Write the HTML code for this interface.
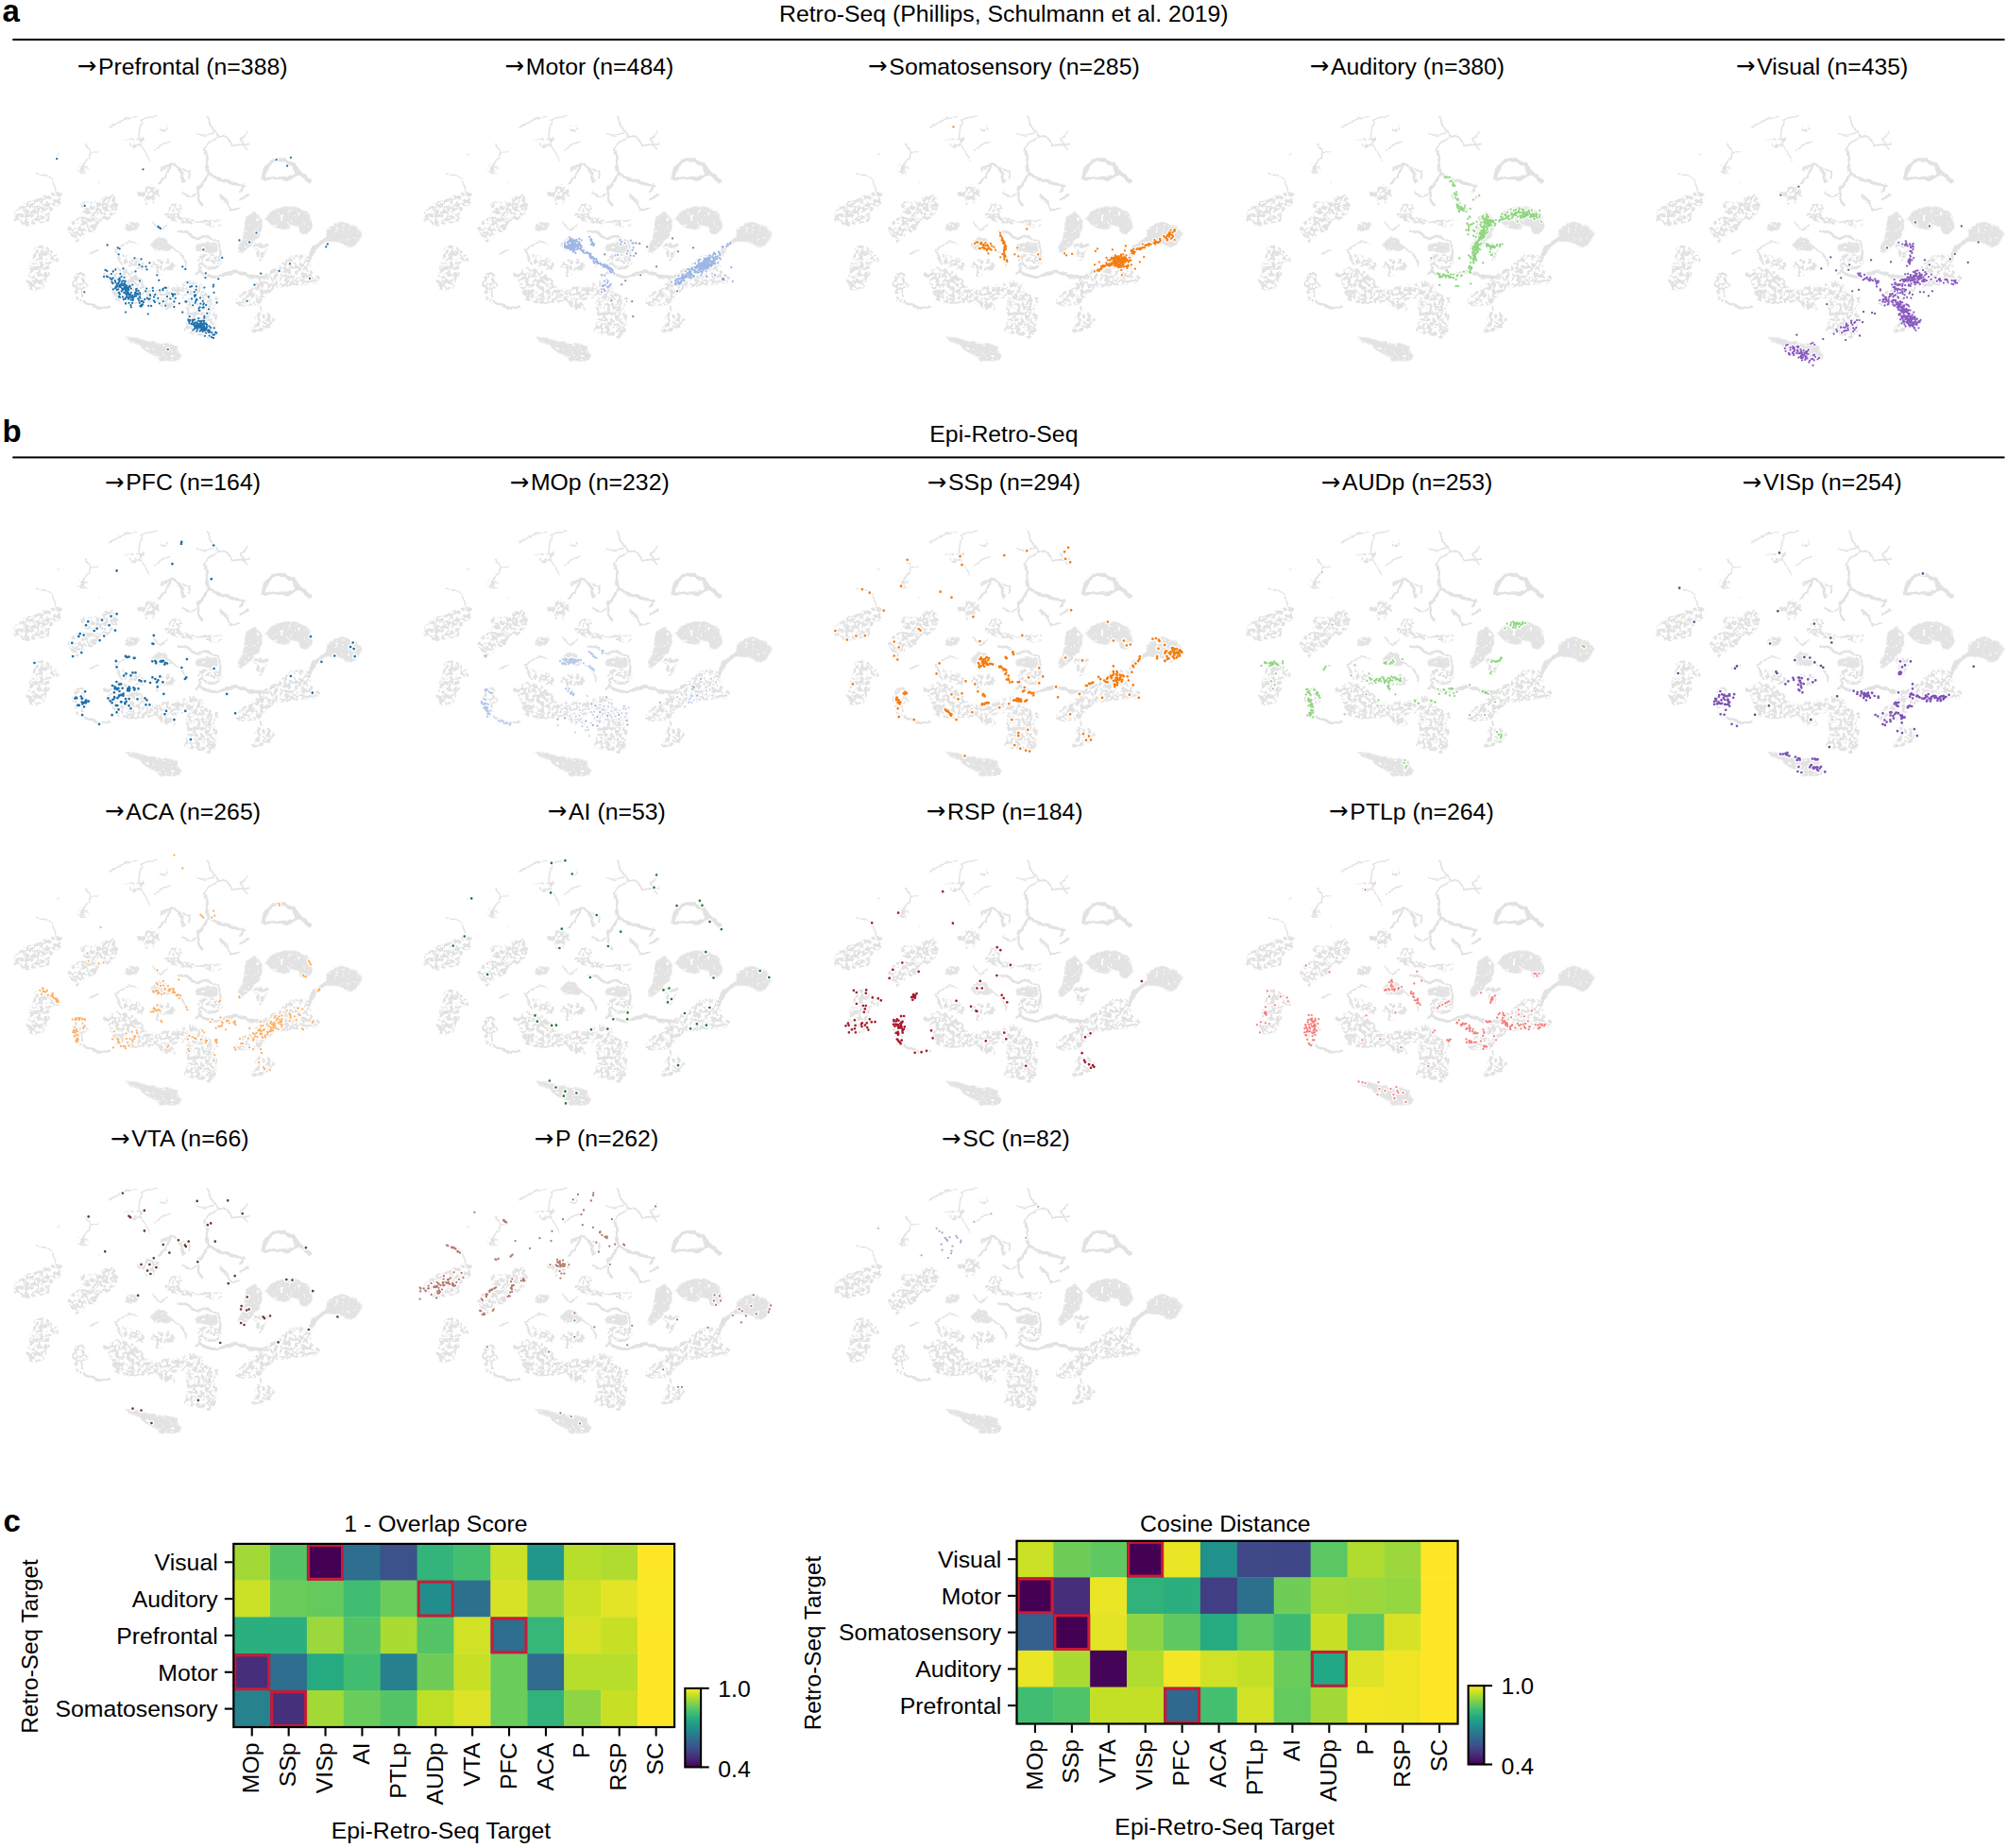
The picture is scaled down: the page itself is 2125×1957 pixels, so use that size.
<!DOCTYPE html><html><head><meta charset="utf-8"><title>Retro-Seq / Epi-Retro-Seq</title>
<style>html,body{margin:0;padding:0;background:#fff}body{width:2125px;height:1957px;position:relative;overflow:hidden;font-family:"Liberation Sans", sans-serif;color:#000}
svg{position:absolute;left:0;top:0}
svg text{font-family:"Liberation Sans", sans-serif;font-size:24.8px;fill:#000}svg .ar{font-family:"DejaVu Sans",sans-serif;font-size:24.5px}
</style></head><body>
<svg width="2125" height="1957" viewBox="0 0 2125 1957">
<rect x="13.3" y="40.9" width="2109.2" height="2" fill="#000"/>
<rect x="13.3" y="483.4" width="2109.2" height="2" fill="#000"/>
<text x="2.6" y="22.8" text-anchor="start" style="font-weight:bold;font-size:33px">a</text>
<text x="2.6" y="468.3" text-anchor="start" style="font-weight:bold;font-size:33px">b</text>
<text x="3.4" y="1622.3" text-anchor="start" style="font-weight:bold;font-size:33px">c</text>
<text x="1062.8" y="22.7" text-anchor="middle">Retro-Seq (Phillips, Schulmann et al. 2019)</text>
<text x="1062.9" y="468.3" text-anchor="middle">Epi-Retro-Seq</text>
<text x="193.2" y="79.1" text-anchor="middle"><tspan class="ar" dy="-0.7">→</tspan><tspan dx="1.5" dy="0.7">Prefrontal (n=388)</tspan></text>
<text x="624.0" y="79.1" text-anchor="middle"><tspan class="ar" dy="-0.7">→</tspan><tspan dx="1.5" dy="0.7">Motor (n=484)</tspan></text>
<text x="1063.0" y="79.1" text-anchor="middle"><tspan class="ar" dy="-0.7">→</tspan><tspan dx="1.5" dy="0.7">Somatosensory (n=285)</tspan></text>
<text x="1490.0" y="79.1" text-anchor="middle"><tspan class="ar" dy="-0.7">→</tspan><tspan dx="1.5" dy="0.7">Auditory (n=380)</tspan></text>
<text x="1929.3" y="79.1" text-anchor="middle"><tspan class="ar" dy="-0.7">→</tspan><tspan dx="1.5" dy="0.7">Visual (n=435)</tspan></text>
<text x="193.6" y="519.2" text-anchor="middle"><tspan class="ar" dy="-0.7">→</tspan><tspan dx="1.5" dy="0.7">PFC (n=164)</tspan></text>
<text x="624.3" y="519.2" text-anchor="middle"><tspan class="ar" dy="-0.7">→</tspan><tspan dx="1.5" dy="0.7">MOp (n=232)</tspan></text>
<text x="1063.0" y="519.2" text-anchor="middle"><tspan class="ar" dy="-0.7">→</tspan><tspan dx="1.5" dy="0.7">SSp (n=294)</tspan></text>
<text x="1489.7" y="519.2" text-anchor="middle"><tspan class="ar" dy="-0.7">→</tspan><tspan dx="1.5" dy="0.7">AUDp (n=253)</tspan></text>
<text x="1929.4" y="519.2" text-anchor="middle"><tspan class="ar" dy="-0.7">→</tspan><tspan dx="1.5" dy="0.7">VISp (n=254)</tspan></text>
<text x="193.6" y="867.7" text-anchor="middle"><tspan class="ar" dy="-0.7">→</tspan><tspan dx="1.5" dy="0.7">ACA (n=265)</tspan></text>
<text x="642.4" y="867.7" text-anchor="middle"><tspan class="ar" dy="-0.7">→</tspan><tspan dx="1.5" dy="0.7">AI (n=53)</tspan></text>
<text x="1063.8" y="867.7" text-anchor="middle"><tspan class="ar" dy="-0.7">→</tspan><tspan dx="1.5" dy="0.7">RSP (n=184)</tspan></text>
<text x="1494.5" y="867.7" text-anchor="middle"><tspan class="ar" dy="-0.7">→</tspan><tspan dx="1.5" dy="0.7">PTLp (n=264)</tspan></text>
<text x="190.3" y="1214.2" text-anchor="middle"><tspan class="ar" dy="-0.7">→</tspan><tspan dx="1.5" dy="0.7">VTA (n=66)</tspan></text>
<text x="631.6" y="1214.2" text-anchor="middle"><tspan class="ar" dy="-0.7">→</tspan><tspan dx="1.5" dy="0.7">P (n=262)</tspan></text>
<text x="1065.0" y="1214.2" text-anchor="middle"><tspan class="ar" dy="-0.7">→</tspan><tspan dx="1.5" dy="0.7">SC (n=82)</tspan></text>
<defs><filter id="lace" x="-5%" y="-5%" width="110%" height="110%" color-interpolation-filters="sRGB"><feTurbulence type="fractalNoise" baseFrequency="0.27" numOctaves="2" seed="11" result="n"/><feColorMatrix in="n" type="matrix" values="0 0 0 0 0  0 0 0 0 0  0 0 0 0 0  10 0 0 0 -4.45" result="m"/><feComposite in="SourceGraphic" in2="m" operator="in" result="c"/><feTurbulence type="fractalNoise" baseFrequency="0.09" numOctaves="2" seed="7" result="w"/><feDisplacementMap in="c" in2="w" scale="6" xChannelSelector="R" yChannelSelector="G"/></filter>
<filter id="lace2" x="-5%" y="-5%" width="110%" height="110%" color-interpolation-filters="sRGB"><feTurbulence type="fractalNoise" baseFrequency="0.3" numOctaves="2" seed="3" result="n"/><feColorMatrix in="n" type="matrix" values="0 0 0 0 0  0 0 0 0 0  0 0 0 0 0  8 0 0 0 -1.9" result="m"/><feComposite in="SourceGraphic" in2="m" operator="in" result="c"/><feTurbulence type="fractalNoise" baseFrequency="0.09" numOctaves="2" seed="7" result="w"/><feDisplacementMap in="c" in2="w" scale="6" xChannelSelector="R" yChannelSelector="G"/></filter>
<filter id="wob" x="-5%" y="-5%" width="110%" height="110%"><feTurbulence type="fractalNoise" baseFrequency="0.09" numOctaves="2" seed="7" result="n"/><feDisplacementMap in="SourceGraphic" in2="n" scale="6" xChannelSelector="R" yChannelSelector="G"/></filter>
<symbol id="cl" overflow="visible">
<g filter="url(#lace)">
<path d="M13 124.6L17.9 115.6L29.9 108.6L45.8 103.6L57.8 98.7L64.8 101.6L63.8 107.6L53.8 117.6L47.8 127.6L35.9 133.5L21.9 132.5L14 128.6Z" fill="#e2e2e2" stroke="#e2e2e2" stroke-width="2" stroke-linejoin="round"/>
<path d="M36.9 158.4L43.8 155.9L51.8 159.4L58.8 165.4L59.8 171.4L53.8 173.4L49.8 179.4L48.8 189.3L44.8 198.3L35.9 203.3L27.9 200.3L26.9 193.3L30.9 183.4L32.9 173.4L34.9 165.4Z" fill="#e2e2e2" stroke="#e2e2e2" stroke-width="2" stroke-linejoin="round"/>
<path d="M85.7 110.6L93.7 111.6L103.6 109.6L111.6 101.6L119.6 103.6L122 111.6L119.6 121.6L111.6 127.6L103.6 131.5L95.7 139.5L87.7 143.5L79.7 151.5L75.7 149.5L70.8 139.5L73.7 131.5L83.7 125.6L87.7 119.6Z" fill="#e2e2e2" stroke="#e2e2e2" stroke-width="2" stroke-linejoin="round"/>
<path d="M82.1 69.8L87.7 67.8L90.9 72.7L89.7 78.1L83.7 79.1L81.3 75.3Z" fill="#e2e2e2" stroke="#e2e2e2" stroke-width="2" stroke-linejoin="round"/>
<path d="M130.5 42.9L139.5 44.2L151.5 40.9L146.5 47.8L139.5 52.2L135.5 47.8Z" fill="#e2e2e2" stroke="#e2e2e2" stroke-width="2" stroke-linejoin="round"/>
<path d="M169 29.9L173 29.1L174.6 32.3L171.4 34.3L168.6 33.1Z" fill="#e2e2e2" stroke="#e2e2e2" stroke-width="2" stroke-linejoin="round"/>
<path d="M153.5 93.7L159.4 90.7L165.4 95.7L166.4 101.6L161.4 105.6L159.4 111.6L154.5 110.6L152.5 103.6L145.5 102.6L144.5 99.7L151.5 98.7Z" fill="#e2e2e2" stroke="#e2e2e2" stroke-width="2" stroke-linejoin="round"/>
<path d="M174.4 119.6L179.4 113.6L189.3 112.6L192.3 117.6L187.3 122.6L189.3 127.6L199.3 127.6L201.3 131.5L195.3 133.5L185.4 129.5L179.4 127.6L175.4 124.6Z" fill="#e2e2e2" stroke="#e2e2e2" stroke-width="2" stroke-linejoin="round"/>
<path d="M214.3 129.5L223.2 128L232.2 129.1L232.2 133.9L223.2 135.9L215.2 134.7Z" fill="#e2e2e2" stroke="#e2e2e2" stroke-width="2" stroke-linejoin="round"/>
<path d="M208.3 167.4L219.2 165.4L232.2 166.4L233.2 173.4L227.2 178.4L217.2 179.4L209.3 177.4Z" fill="#e2e2e2" stroke="#e2e2e2" stroke-width="2" stroke-linejoin="round"/>
<path d="M127.6 165.4L139.5 167.4L149.5 173.4L151.5 179.4L139.5 178.4L131.5 175.4Z" fill="#e2e2e2" stroke="#e2e2e2" stroke-width="2" stroke-linejoin="round"/>
<path d="M157.4 175.4L165.4 171.4L177.4 170.4L182.4 175.4L180.4 180.4L173.4 179.4L169.4 183.4L167.4 189.3L164.4 188.3L165.4 180.4L158.4 178.4Z" fill="#e2e2e2" stroke="#e2e2e2" stroke-width="2" stroke-linejoin="round"/>
<path d="M108.6 185.4L119.6 180.4L127.6 179.4L139.5 183.4L147.5 191.3L155.5 201.3L165.4 203.3L173.4 199.3L185.4 201.3L188.3 207.3L183.4 215.2L182.4 223.2L173.4 221.2L163.4 217.2L151.5 214.3L139.5 217.2L127.6 216.2L119.6 211.3L117.6 201.3L115.6 193.3L109.6 189.3Z" fill="#e2e2e2" stroke="#e2e2e2" stroke-width="2" stroke-linejoin="round"/>
<path d="M185.4 199.3L197.3 196.3L199.3 207.3L191.3 211.3L186.3 207.3Z" fill="#e2e2e2" stroke="#e2e2e2" stroke-width="2" stroke-linejoin="round"/>
<path d="M76.7 189.3L81.7 184.4L87.7 187.3L88.7 195.3L91.7 197.3L85.7 201.3L84.7 207.3L87.7 214.3L83.7 217.2L79.7 214.3L78.7 205.3L75.7 197.3Z" fill="#e2e2e2" stroke="#e2e2e2" stroke-width="2" stroke-linejoin="round"/>
<path d="M190.3 199.3L201.3 194.3L211.3 196.3L214.3 203.3L221.2 209.3L229.2 208.3L230.2 214.3L223.2 219.2L226.2 227.2L227.2 239.2L225.2 249.1L219.2 253.1L211.3 249.1L201.3 248.1L194.3 246.1L196.3 237.2L199.3 229.2L196.3 219.2L199.3 211.3L193.3 205.3Z" fill="#e2e2e2" stroke="#e2e2e2" stroke-width="2" stroke-linejoin="round"/>
<path d="M248.1 213.3L257.1 205.3L267.1 197.3L279 187.3L291 179.4L302.9 169.4L314.9 165.4L326.9 167.4L328.8 175.4L326.9 181.4L336.8 191.3L330.8 196.3L318.9 197.3L306.9 196.3L295 199.3L285 205.3L277 211.3L267.1 217.2L257.1 219.2L249.1 217.2Z" fill="#e2e2e2" stroke="#e2e2e2" stroke-width="2" stroke-linejoin="round"/>
<path d="M268.1 233.2L275 225.2L283 227.2L289 233.2L288 239.2L279 242.2L273 247.1L266.1 247.1L265.1 243.1L270.1 239.2Z" fill="#e2e2e2" stroke="#e2e2e2" stroke-width="2" stroke-linejoin="round"/>
<path d="M268.1 155.5L283 153.5L279 161.4L276 169.4L270.1 168.4L271.1 161.4Z" fill="#e2e2e2" stroke="#e2e2e2" stroke-width="2" stroke-linejoin="round"/>
</g><g filter="url(#lace2)">
<path d="M131.5 133.9L137.5 130.7L145.5 131.1L146.7 135.1L140.5 139.1L133.1 138.7Z" fill="#e3e3e3" stroke="#e8e8e8" stroke-width="1.2" stroke-linejoin="round"/>
<path d="M157.4 157.4L165.4 146.5L171.4 147.5L175.4 152.5L180.4 157.4L177.4 161.4L169.4 160.4L161.4 159.4Z" fill="#e3e3e3" stroke="#e8e8e8" stroke-width="1.2" stroke-linejoin="round"/>
<path d="M205.3 157.4L211.3 152.5L219.2 151.5L227.2 154.5L229.2 159.4L223.2 162.4L214.3 162.4L207.3 161.4Z" fill="#e3e3e3" stroke="#e8e8e8" stroke-width="1.2" stroke-linejoin="round"/>
<path d="M259.1 124.6L267.1 120.6L274 125.6L276 135.5L273 143.5L267.1 151.5L261.1 157.4L255.1 163.4L251.1 162.4L253.1 153.5L257.1 147.5L256.1 139.5L259.1 131.5Z" fill="#e3e3e3" stroke="#e8e8e8" stroke-width="1.2" stroke-linejoin="round"/>
<path d="M279 127.6L285 119.6L295 114.6L310.9 114.6L322.9 119.6L328.8 127.6L327.9 137.5L323.9 143.5L316.9 142.5L314.9 135.5L306.9 133.5L299 138.5L291 136.5L285 131.5Z" fill="#e3e3e3" stroke="#e8e8e8" stroke-width="1.2" stroke-linejoin="round"/>
<path d="M343.8 139.5L352.8 132.5L364.7 131.5L374.7 135.5L380.3 143.5L378.7 151.5L370.7 156.5L358.7 153.5L350.8 149.5L344.8 148.5Z" fill="#e3e3e3" stroke="#e8e8e8" stroke-width="1.2" stroke-linejoin="round"/>
<path d="M131.5 252.7L143.5 253.5L157.4 258.1L171.4 259.1L184.4 260.1L186.3 267.1L191.3 272L189.3 276L175.4 278L165.4 276L155.5 269.1L145.5 261.1L137.5 257.1Z" fill="#e3e3e3" stroke="#e8e8e8" stroke-width="1.2" stroke-linejoin="round"/>
</g><g filter="url(#wob)">
<path d="M57.8 98.7L56.8 92.7L52.8 85.7L45.8 81.7L36.9 79.3" fill="none" stroke="#e2e2e2" stroke-width="1.5" stroke-linecap="round" stroke-linejoin="round"/>
<path d="M88.7 46.8L92.7 53.8L94.7 58.8L89.7 65.8L86.7 69.8" fill="none" stroke="#e2e2e2" stroke-width="1.5" stroke-linecap="round" stroke-linejoin="round"/>
<path d="M94.7 58.8L103.6 54.8" fill="none" stroke="#e2e2e2" stroke-width="1.3" stroke-linecap="round" stroke-linejoin="round"/>
<path d="M114.6 30.9L123.6 24.9L135.5 19.9L143.5 18.9" fill="none" stroke="#e2e2e2" stroke-width="1.4" stroke-linecap="round" stroke-linejoin="round"/>
<path d="M147.5 22.9L155.5 19.9L163.4 19.3" fill="none" stroke="#e2e2e2" stroke-width="1.4" stroke-linecap="round" stroke-linejoin="round"/>
<path d="M148.5 22.9L146.5 31.9L145.5 39.9L148.5 45.8" fill="none" stroke="#e2e2e2" stroke-width="1.4" stroke-linecap="round" stroke-linejoin="round"/>
<path d="M148.5 46.8L153.5 59.8L157.4 65.8" fill="none" stroke="#e2e2e2" stroke-width="1.3" stroke-linecap="round" stroke-linejoin="round"/>
<path d="M161.4 53.8L171.4 48.8L179.4 45.4" fill="none" stroke="#e2e2e2" stroke-width="1.5" stroke-linecap="round" stroke-linejoin="round"/>
<path d="M217.2 18.9L221.2 25.9L225.2 34.9L229.2 38.9L239.2 42.9L245.1 49.8L257.1 47.8L263.1 46.8" fill="none" stroke="#e2e2e2" stroke-width="1.8" stroke-linecap="round" stroke-linejoin="round"/>
<path d="M207.3 35.9L215.2 38.9L225.2 35.9" fill="none" stroke="#e2e2e2" stroke-width="1.5" stroke-linecap="round" stroke-linejoin="round"/>
<path d="M229.2 38.9L219.2 47.8L213.3 53.8L217.2 65.8" fill="none" stroke="#e2e2e2" stroke-width="1.8" stroke-linecap="round" stroke-linejoin="round"/>
<path d="M259.1 34.9L253.1 42.9L257.1 47.8L261.1 53.8" fill="none" stroke="#e2e2e2" stroke-width="1.5" stroke-linecap="round" stroke-linejoin="round"/>
<path d="M169.4 75.7L179.4 69.8L185.4 71.7L191.3 79.7L193.3 87.7" fill="none" stroke="#e2e2e2" stroke-width="2.5" stroke-linecap="round" stroke-linejoin="round"/>
<path d="M179.4 69.8L173.4 83.7L167.4 89.7" fill="none" stroke="#e2e2e2" stroke-width="2.5" stroke-linecap="round" stroke-linejoin="round"/>
<path d="M191.3 73.7L199.3 76.7L197.3 83.7" fill="none" stroke="#e2e2e2" stroke-width="1.8" stroke-linecap="round" stroke-linejoin="round"/>
<path d="M215.2 55.8L217.2 67.8L219.2 79.7L213.3 89.7L207.3 95.7L209.3 107.6L211.3 111.6" fill="none" stroke="#e2e2e2" stroke-width="2.9" stroke-linecap="round" stroke-linejoin="round"/>
<path d="M219.2 79.7L231.2 85.7L245.1 89.7L256.1 91.7L253.1 97.7" fill="none" stroke="#e2e2e2" stroke-width="3.1" stroke-linecap="round" stroke-linejoin="round"/>
<path d="M231.2 101.6L239.2 111.6L243.1 117.6L253.1 116.6" fill="none" stroke="#e2e2e2" stroke-width="2.5" stroke-linecap="round" stroke-linejoin="round"/>
<path d="M253.1 107.6L261.1 101.6" fill="none" stroke="#e2e2e2" stroke-width="2.5" stroke-linecap="round" stroke-linejoin="round"/>
<path d="M191.3 99.7L201.3 103.6L207.3 99.7" fill="none" stroke="#e2e2e2" stroke-width="1.8" stroke-linecap="round" stroke-linejoin="round"/>
<path d="M201.3 127.6L211.3 130.5L219.2 129.5" fill="none" stroke="#e2e2e2" stroke-width="1.8" stroke-linecap="round" stroke-linejoin="round"/>
<path d="M159.4 130.5L167.4 137.5L175.4 132.5" fill="none" stroke="#e2e2e2" stroke-width="1.5" stroke-linecap="round" stroke-linejoin="round"/>
<path d="M180.4 157.4L189.3 163.4L194.3 171.4L196.3 177.4" fill="none" stroke="#e2e2e2" stroke-width="1.7" stroke-linecap="round" stroke-linejoin="round"/>
<path d="M187.3 139.5L197.3 142.5L207.3 147.5L219.2 146.5L229.2 151.5L232.2 159.4L231.2 169.4" fill="none" stroke="#e2e2e2" stroke-width="2.5" stroke-linecap="round" stroke-linejoin="round"/>
<path d="M211.3 179.4L207.3 185.4" fill="none" stroke="#e2e2e2" stroke-width="2.5" stroke-linecap="round" stroke-linejoin="round"/>
<path d="M121.6 159.4L129.5 153.5L137.5 151.5L145.5 153.5" fill="none" stroke="#e2e2e2" stroke-width="1.7" stroke-linecap="round" stroke-linejoin="round"/>
<path d="M121.6 159.4L123.6 167.4L127.6 175.4" fill="none" stroke="#e2e2e2" stroke-width="1.8" stroke-linecap="round" stroke-linejoin="round"/>
<path d="M87.7 216.2L95.7 219.2L105.6 222.2L114.6 220.2" fill="none" stroke="#e2e2e2" stroke-width="2.9" stroke-linecap="round" stroke-linejoin="round"/>
<path d="M94.7 165.4L101.6 159.4" fill="none" stroke="#e2e2e2" stroke-width="1.5" stroke-linecap="round" stroke-linejoin="round"/>
<path d="M211.3 183.4L219.2 188.3L229.2 187.3L239.2 186.3L249.1 181.4L257.1 185.4L267.1 188.3L279 189.3" fill="none" stroke="#e2e2e2" stroke-width="3.4" stroke-linecap="round" stroke-linejoin="round"/>
<path d="M275 225.2L274 219.2" fill="none" stroke="#e2e2e2" stroke-width="1.8" stroke-linecap="round" stroke-linejoin="round"/>
<path d="M269.1 155.5L275 157.4L283 154.5" fill="none" stroke="#e2e2e2" stroke-width="2.5" stroke-linecap="round" stroke-linejoin="round"/>
<path d="M344.8 148.5L336.8 153.5L330.8 159.4L326.9 167.4" fill="none" stroke="#e2e2e2" stroke-width="4.2" stroke-linecap="round" stroke-linejoin="round"/>
<path d="M277 83.7L280 71.7L289 64.8L300.9 64.8L308.9 68.8L311.9 76.7L320.9 82.7L325.9 88.7" fill="none" stroke="#e2e2e2" stroke-width="4.2" stroke-linecap="round" stroke-linejoin="round"/>
<path d="M279 85.3L291 82.7L302.9 84.7L312.9 79.7" fill="none" stroke="#e2e2e2" stroke-width="3.4" stroke-linecap="round" stroke-linejoin="round"/>
<path d="M59.4 61.4L60.6 60.2" fill="none" stroke="#e2e2e2" stroke-width="1.5" stroke-linecap="round" stroke-linejoin="round"/>
<path d="M103.2 90.1L104.4 88.9" fill="none" stroke="#e2e2e2" stroke-width="1.5" stroke-linecap="round" stroke-linejoin="round"/>
</g></symbol></defs>
<use href="#cl" x="1.5" y="104.5"/>
<use href="#cl" x="435.5" y="104.5"/>
<use href="#cl" x="870.0" y="104.5"/>
<use href="#cl" x="1306.0" y="104.5"/>
<use href="#cl" x="1740.0" y="104.5"/>
<use href="#cl" x="1.5" y="544.0"/>
<use href="#cl" x="435.5" y="544.0"/>
<use href="#cl" x="870.0" y="544.0"/>
<use href="#cl" x="1306.0" y="544.0"/>
<use href="#cl" x="1740.0" y="544.0"/>
<use href="#cl" x="1.5" y="892.5"/>
<use href="#cl" x="435.5" y="892.5"/>
<use href="#cl" x="870.0" y="892.5"/>
<use href="#cl" x="1306.0" y="892.5"/>
<use href="#cl" x="1.5" y="1240.0"/>
<use href="#cl" x="435.5" y="1240.0"/>
<use href="#cl" x="870.0" y="1240.0"/>
<rect x="247.10" y="1634.70" width="39.30" height="39.22" fill="#a2d937"/>
<rect x="286.00" y="1634.70" width="39.30" height="39.22" fill="#54c467"/>
<rect x="324.90" y="1634.70" width="39.30" height="39.22" fill="#440154"/>
<rect x="363.80" y="1634.70" width="39.30" height="39.22" fill="#2e6e8e"/>
<rect x="402.70" y="1634.70" width="39.30" height="39.22" fill="#3b528a"/>
<rect x="441.60" y="1634.70" width="39.30" height="39.22" fill="#33b47a"/>
<rect x="480.50" y="1634.70" width="39.30" height="39.22" fill="#44bf70"/>
<rect x="519.40" y="1634.70" width="39.30" height="39.22" fill="#cae126"/>
<rect x="558.30" y="1634.70" width="39.30" height="39.22" fill="#21968a"/>
<rect x="597.20" y="1634.70" width="39.30" height="39.22" fill="#b6de2a"/>
<rect x="636.10" y="1634.70" width="39.30" height="39.22" fill="#b0dc2f"/>
<rect x="675.00" y="1634.70" width="39.30" height="39.22" fill="#fde725"/>
<rect x="247.10" y="1673.52" width="39.30" height="39.22" fill="#cae126"/>
<rect x="286.00" y="1673.52" width="39.30" height="39.22" fill="#6acc5a"/>
<rect x="324.90" y="1673.52" width="39.30" height="39.22" fill="#64ca5d"/>
<rect x="363.80" y="1673.52" width="39.30" height="39.22" fill="#41bd72"/>
<rect x="402.70" y="1673.52" width="39.30" height="39.22" fill="#6acc5a"/>
<rect x="441.60" y="1673.52" width="39.30" height="39.22" fill="#228e8c"/>
<rect x="480.50" y="1673.52" width="39.30" height="39.22" fill="#2d708e"/>
<rect x="519.40" y="1673.52" width="39.30" height="39.22" fill="#d7e226"/>
<rect x="558.30" y="1673.52" width="39.30" height="39.22" fill="#8ed544"/>
<rect x="597.20" y="1673.52" width="39.30" height="39.22" fill="#cae126"/>
<rect x="636.10" y="1673.52" width="39.30" height="39.22" fill="#e3e425"/>
<rect x="675.00" y="1673.52" width="39.30" height="39.22" fill="#fae725"/>
<rect x="247.10" y="1712.34" width="39.30" height="39.22" fill="#2caf7e"/>
<rect x="286.00" y="1712.34" width="39.30" height="39.22" fill="#2caf7e"/>
<rect x="324.90" y="1712.34" width="39.30" height="39.22" fill="#9cd83c"/>
<rect x="363.80" y="1712.34" width="39.30" height="39.22" fill="#54c467"/>
<rect x="402.70" y="1712.34" width="39.30" height="39.22" fill="#a9db33"/>
<rect x="441.60" y="1712.34" width="39.30" height="39.22" fill="#54c467"/>
<rect x="480.50" y="1712.34" width="39.30" height="39.22" fill="#d0e126"/>
<rect x="519.40" y="1712.34" width="39.30" height="39.22" fill="#2e6e8e"/>
<rect x="558.30" y="1712.34" width="39.30" height="39.22" fill="#36b678"/>
<rect x="597.20" y="1712.34" width="39.30" height="39.22" fill="#d7e226"/>
<rect x="636.10" y="1712.34" width="39.30" height="39.22" fill="#c7e026"/>
<rect x="675.00" y="1712.34" width="39.30" height="39.22" fill="#fde725"/>
<rect x="247.10" y="1751.16" width="39.30" height="39.22" fill="#462e7a"/>
<rect x="286.00" y="1751.16" width="39.30" height="39.22" fill="#2e6e8e"/>
<rect x="324.90" y="1751.16" width="39.30" height="39.22" fill="#25aa82"/>
<rect x="363.80" y="1751.16" width="39.30" height="39.22" fill="#41bd72"/>
<rect x="402.70" y="1751.16" width="39.30" height="39.22" fill="#27808d"/>
<rect x="441.60" y="1751.16" width="39.30" height="39.22" fill="#6fcd57"/>
<rect x="480.50" y="1751.16" width="39.30" height="39.22" fill="#c7e026"/>
<rect x="519.40" y="1751.16" width="39.30" height="39.22" fill="#6acc5a"/>
<rect x="558.30" y="1751.16" width="39.30" height="39.22" fill="#306a8d"/>
<rect x="597.20" y="1751.16" width="39.30" height="39.22" fill="#b6de2a"/>
<rect x="636.10" y="1751.16" width="39.30" height="39.22" fill="#b6de2a"/>
<rect x="675.00" y="1751.16" width="39.30" height="39.22" fill="#fde725"/>
<rect x="247.10" y="1789.98" width="39.30" height="39.22" fill="#26828d"/>
<rect x="286.00" y="1789.98" width="39.30" height="39.22" fill="#45317c"/>
<rect x="324.90" y="1789.98" width="39.30" height="39.22" fill="#a2d937"/>
<rect x="363.80" y="1789.98" width="39.30" height="39.22" fill="#6acc5a"/>
<rect x="402.70" y="1789.98" width="39.30" height="39.22" fill="#54c467"/>
<rect x="441.60" y="1789.98" width="39.30" height="39.22" fill="#bddf26"/>
<rect x="480.50" y="1789.98" width="39.30" height="39.22" fill="#dde326"/>
<rect x="519.40" y="1789.98" width="39.30" height="39.22" fill="#6acc5a"/>
<rect x="558.30" y="1789.98" width="39.30" height="39.22" fill="#31b27b"/>
<rect x="597.20" y="1789.98" width="39.30" height="39.22" fill="#8ed544"/>
<rect x="636.10" y="1789.98" width="39.30" height="39.22" fill="#c7e026"/>
<rect x="675.00" y="1789.98" width="39.30" height="39.22" fill="#fde725"/>
<rect x="326.60" y="1636.40" width="35.90" height="35.82" fill="none" stroke="#cc1a36" stroke-width="3"/>
<rect x="443.30" y="1675.22" width="35.90" height="35.82" fill="none" stroke="#cc1a36" stroke-width="3"/>
<rect x="521.10" y="1714.04" width="35.90" height="35.82" fill="none" stroke="#cc1a36" stroke-width="3"/>
<rect x="248.80" y="1752.86" width="35.90" height="35.82" fill="none" stroke="#cc1a36" stroke-width="3"/>
<rect x="287.70" y="1791.68" width="35.90" height="35.82" fill="none" stroke="#cc1a36" stroke-width="3"/>
<rect x="247.30" y="1634.90" width="466.80" height="194.10" fill="none" stroke="#000" stroke-width="2.2"/>
<rect x="237.80" y="1653.26" width="8.6" height="2.1" fill="#000"/>
<text x="230.7" y="1663.0" text-anchor="end">Visual</text>
<rect x="237.80" y="1692.08" width="8.6" height="2.1" fill="#000"/>
<text x="230.7" y="1701.8" text-anchor="end">Auditory</text>
<rect x="237.80" y="1730.90" width="8.6" height="2.1" fill="#000"/>
<text x="230.7" y="1740.7" text-anchor="end">Prefrontal</text>
<rect x="237.80" y="1769.72" width="8.6" height="2.1" fill="#000"/>
<text x="230.7" y="1779.5" text-anchor="end">Motor</text>
<rect x="237.80" y="1808.54" width="8.6" height="2.1" fill="#000"/>
<text x="230.7" y="1818.3" text-anchor="end">Somatosensory</text>
<rect x="265.70" y="1829.90" width="2.1" height="8.6" fill="#000"/>
<text transform="translate(274.2,1845.4) rotate(-90)" text-anchor="end">MOp</text>
<rect x="304.60" y="1829.90" width="2.1" height="8.6" fill="#000"/>
<text transform="translate(313.1,1845.4) rotate(-90)" text-anchor="end">SSp</text>
<rect x="343.50" y="1829.90" width="2.1" height="8.6" fill="#000"/>
<text transform="translate(352.1,1845.4) rotate(-90)" text-anchor="end">VISp</text>
<rect x="382.40" y="1829.90" width="2.1" height="8.6" fill="#000"/>
<text transform="translate(391.0,1845.4) rotate(-90)" text-anchor="end">AI</text>
<rect x="421.30" y="1829.90" width="2.1" height="8.6" fill="#000"/>
<text transform="translate(429.9,1845.4) rotate(-90)" text-anchor="end">PTLp</text>
<rect x="460.20" y="1829.90" width="2.1" height="8.6" fill="#000"/>
<text transform="translate(468.8,1845.4) rotate(-90)" text-anchor="end">AUDp</text>
<rect x="499.10" y="1829.90" width="2.1" height="8.6" fill="#000"/>
<text transform="translate(507.6,1845.4) rotate(-90)" text-anchor="end">VTA</text>
<rect x="538.00" y="1829.90" width="2.1" height="8.6" fill="#000"/>
<text transform="translate(546.5,1845.4) rotate(-90)" text-anchor="end">PFC</text>
<rect x="576.90" y="1829.90" width="2.1" height="8.6" fill="#000"/>
<text transform="translate(585.5,1845.4) rotate(-90)" text-anchor="end">ACA</text>
<rect x="615.80" y="1829.90" width="2.1" height="8.6" fill="#000"/>
<text transform="translate(624.4,1845.4) rotate(-90)" text-anchor="end">P</text>
<rect x="654.70" y="1829.90" width="2.1" height="8.6" fill="#000"/>
<text transform="translate(663.2,1845.4) rotate(-90)" text-anchor="end">RSP</text>
<rect x="693.60" y="1829.90" width="2.1" height="8.6" fill="#000"/>
<text transform="translate(702.1,1845.4) rotate(-90)" text-anchor="end">SC</text>
<text x="461.5" y="1622.4" text-anchor="middle">1 - Overlap Score</text>
<text transform="translate(39.6,1743.5) rotate(-90)" text-anchor="middle" style="font-size:24.3px">Retro-Seq Target</text>
<text x="467.0" y="1947.0" text-anchor="middle">Epi-Retro-Seq Target</text>
<defs><linearGradient id="g247" x1="0" y1="0" x2="0" y2="1"><stop offset="0%" stop-color="#fde725"/><stop offset="10%" stop-color="#bddf26"/><stop offset="20%" stop-color="#7ad151"/><stop offset="30%" stop-color="#44bf70"/><stop offset="40%" stop-color="#22a884"/><stop offset="50%" stop-color="#21918c"/><stop offset="60%" stop-color="#2a788e"/><stop offset="70%" stop-color="#355f8d"/><stop offset="80%" stop-color="#414487"/><stop offset="90%" stop-color="#482475"/><stop offset="100%" stop-color="#440154"/></linearGradient></defs>
<rect x="725.30" y="1787.90" width="16.80" height="83.50" fill="url(#g247)" stroke="#000" stroke-width="2.1"/>
<rect x="742.10" y="1786.85" width="8.6" height="2.1" fill="#000"/>
<rect x="742.10" y="1870.35" width="8.6" height="2.1" fill="#000"/>
<text x="760.3" y="1797.0" text-anchor="start">1.0</text>
<text x="760.3" y="1881.9" text-anchor="start">0.4</text>
<rect x="1076.30" y="1631.60" width="39.32" height="39.14" fill="#cae126"/>
<rect x="1115.22" y="1631.60" width="39.32" height="39.14" fill="#6fcd57"/>
<rect x="1154.14" y="1631.60" width="39.32" height="39.14" fill="#5fc860"/>
<rect x="1193.06" y="1631.60" width="39.32" height="39.14" fill="#440154"/>
<rect x="1231.98" y="1631.60" width="39.32" height="39.14" fill="#eae525"/>
<rect x="1270.90" y="1631.60" width="39.32" height="39.14" fill="#21918c"/>
<rect x="1309.82" y="1631.60" width="39.32" height="39.14" fill="#3f4988"/>
<rect x="1348.74" y="1631.60" width="39.32" height="39.14" fill="#404788"/>
<rect x="1387.66" y="1631.60" width="39.32" height="39.14" fill="#5ac664"/>
<rect x="1426.58" y="1631.60" width="39.32" height="39.14" fill="#b0dc2f"/>
<rect x="1465.50" y="1631.60" width="39.32" height="39.14" fill="#9cd83c"/>
<rect x="1504.42" y="1631.60" width="39.32" height="39.14" fill="#fde725"/>
<rect x="1076.30" y="1670.34" width="39.32" height="39.14" fill="#440154"/>
<rect x="1115.22" y="1670.34" width="39.32" height="39.14" fill="#462e7a"/>
<rect x="1154.14" y="1670.34" width="39.32" height="39.14" fill="#eae525"/>
<rect x="1193.06" y="1670.34" width="39.32" height="39.14" fill="#31b27b"/>
<rect x="1231.98" y="1670.34" width="39.32" height="39.14" fill="#2caf7e"/>
<rect x="1270.90" y="1670.34" width="39.32" height="39.14" fill="#423e83"/>
<rect x="1309.82" y="1670.34" width="39.32" height="39.14" fill="#2d708e"/>
<rect x="1348.74" y="1670.34" width="39.32" height="39.14" fill="#6fcd57"/>
<rect x="1387.66" y="1670.34" width="39.32" height="39.14" fill="#a2d937"/>
<rect x="1426.58" y="1670.34" width="39.32" height="39.14" fill="#9cd83c"/>
<rect x="1465.50" y="1670.34" width="39.32" height="39.14" fill="#95d740"/>
<rect x="1504.42" y="1670.34" width="39.32" height="39.14" fill="#fde725"/>
<rect x="1076.30" y="1709.08" width="39.32" height="39.14" fill="#355f8d"/>
<rect x="1115.22" y="1709.08" width="39.32" height="39.14" fill="#440154"/>
<rect x="1154.14" y="1709.08" width="39.32" height="39.14" fill="#e3e425"/>
<rect x="1193.06" y="1709.08" width="39.32" height="39.14" fill="#8ed544"/>
<rect x="1231.98" y="1709.08" width="39.32" height="39.14" fill="#5fc860"/>
<rect x="1270.90" y="1709.08" width="39.32" height="39.14" fill="#25aa82"/>
<rect x="1309.82" y="1709.08" width="39.32" height="39.14" fill="#5ac664"/>
<rect x="1348.74" y="1709.08" width="39.32" height="39.14" fill="#3dba74"/>
<rect x="1387.66" y="1709.08" width="39.32" height="39.14" fill="#c7e026"/>
<rect x="1426.58" y="1709.08" width="39.32" height="39.14" fill="#5ac664"/>
<rect x="1465.50" y="1709.08" width="39.32" height="39.14" fill="#d7e226"/>
<rect x="1504.42" y="1709.08" width="39.32" height="39.14" fill="#fde725"/>
<rect x="1076.30" y="1747.82" width="39.32" height="39.14" fill="#eae525"/>
<rect x="1115.22" y="1747.82" width="39.32" height="39.14" fill="#a9db33"/>
<rect x="1154.14" y="1747.82" width="39.32" height="39.14" fill="#440457"/>
<rect x="1193.06" y="1747.82" width="39.32" height="39.14" fill="#b0dc2f"/>
<rect x="1231.98" y="1747.82" width="39.32" height="39.14" fill="#f3e625"/>
<rect x="1270.90" y="1747.82" width="39.32" height="39.14" fill="#d0e126"/>
<rect x="1309.82" y="1747.82" width="39.32" height="39.14" fill="#c3e026"/>
<rect x="1348.74" y="1747.82" width="39.32" height="39.14" fill="#6acc5a"/>
<rect x="1387.66" y="1747.82" width="39.32" height="39.14" fill="#22a884"/>
<rect x="1426.58" y="1747.82" width="39.32" height="39.14" fill="#dde326"/>
<rect x="1465.50" y="1747.82" width="39.32" height="39.14" fill="#f0e525"/>
<rect x="1504.42" y="1747.82" width="39.32" height="39.14" fill="#fde725"/>
<rect x="1076.30" y="1786.56" width="39.32" height="39.14" fill="#41bd72"/>
<rect x="1115.22" y="1786.56" width="39.32" height="39.14" fill="#4fc36a"/>
<rect x="1154.14" y="1786.56" width="39.32" height="39.14" fill="#c3e026"/>
<rect x="1193.06" y="1786.56" width="39.32" height="39.14" fill="#c3e026"/>
<rect x="1231.98" y="1786.56" width="39.32" height="39.14" fill="#31688d"/>
<rect x="1270.90" y="1786.56" width="39.32" height="39.14" fill="#44bf70"/>
<rect x="1309.82" y="1786.56" width="39.32" height="39.14" fill="#d0e126"/>
<rect x="1348.74" y="1786.56" width="39.32" height="39.14" fill="#64ca5d"/>
<rect x="1387.66" y="1786.56" width="39.32" height="39.14" fill="#a2d937"/>
<rect x="1426.58" y="1786.56" width="39.32" height="39.14" fill="#f3e625"/>
<rect x="1465.50" y="1786.56" width="39.32" height="39.14" fill="#f0e525"/>
<rect x="1504.42" y="1786.56" width="39.32" height="39.14" fill="#fde725"/>
<rect x="1194.76" y="1633.30" width="35.92" height="35.74" fill="none" stroke="#cc1a36" stroke-width="3"/>
<rect x="1078.00" y="1672.04" width="35.92" height="35.74" fill="none" stroke="#cc1a36" stroke-width="3"/>
<rect x="1116.92" y="1710.78" width="35.92" height="35.74" fill="none" stroke="#cc1a36" stroke-width="3"/>
<rect x="1389.36" y="1749.52" width="35.92" height="35.74" fill="none" stroke="#cc1a36" stroke-width="3"/>
<rect x="1233.68" y="1788.26" width="35.92" height="35.74" fill="none" stroke="#cc1a36" stroke-width="3"/>
<rect x="1076.50" y="1631.80" width="467.04" height="193.70" fill="none" stroke="#000" stroke-width="2.2"/>
<rect x="1067.00" y="1650.12" width="8.6" height="2.1" fill="#000"/>
<text x="1060.2" y="1659.9" text-anchor="end">Visual</text>
<rect x="1067.00" y="1688.86" width="8.6" height="2.1" fill="#000"/>
<text x="1060.2" y="1698.6" text-anchor="end">Motor</text>
<rect x="1067.00" y="1727.60" width="8.6" height="2.1" fill="#000"/>
<text x="1060.2" y="1737.3" text-anchor="end">Somatosensory</text>
<rect x="1067.00" y="1766.34" width="8.6" height="2.1" fill="#000"/>
<text x="1060.2" y="1776.1" text-anchor="end">Auditory</text>
<rect x="1067.00" y="1805.08" width="8.6" height="2.1" fill="#000"/>
<text x="1060.2" y="1814.8" text-anchor="end">Prefrontal</text>
<rect x="1094.91" y="1826.40" width="2.1" height="8.6" fill="#000"/>
<text transform="translate(1103.5,1841.9) rotate(-90)" text-anchor="end">MOp</text>
<rect x="1133.83" y="1826.40" width="2.1" height="8.6" fill="#000"/>
<text transform="translate(1142.4,1841.9) rotate(-90)" text-anchor="end">SSp</text>
<rect x="1172.75" y="1826.40" width="2.1" height="8.6" fill="#000"/>
<text transform="translate(1181.3,1841.9) rotate(-90)" text-anchor="end">VTA</text>
<rect x="1211.67" y="1826.40" width="2.1" height="8.6" fill="#000"/>
<text transform="translate(1220.2,1841.9) rotate(-90)" text-anchor="end">VISp</text>
<rect x="1250.59" y="1826.40" width="2.1" height="8.6" fill="#000"/>
<text transform="translate(1259.1,1841.9) rotate(-90)" text-anchor="end">PFC</text>
<rect x="1289.51" y="1826.40" width="2.1" height="8.6" fill="#000"/>
<text transform="translate(1298.1,1841.9) rotate(-90)" text-anchor="end">ACA</text>
<rect x="1328.43" y="1826.40" width="2.1" height="8.6" fill="#000"/>
<text transform="translate(1337.0,1841.9) rotate(-90)" text-anchor="end">PTLp</text>
<rect x="1367.35" y="1826.40" width="2.1" height="8.6" fill="#000"/>
<text transform="translate(1375.9,1841.9) rotate(-90)" text-anchor="end">AI</text>
<rect x="1406.27" y="1826.40" width="2.1" height="8.6" fill="#000"/>
<text transform="translate(1414.8,1841.9) rotate(-90)" text-anchor="end">AUDp</text>
<rect x="1445.19" y="1826.40" width="2.1" height="8.6" fill="#000"/>
<text transform="translate(1453.7,1841.9) rotate(-90)" text-anchor="end">P</text>
<rect x="1484.11" y="1826.40" width="2.1" height="8.6" fill="#000"/>
<text transform="translate(1492.7,1841.9) rotate(-90)" text-anchor="end">RSP</text>
<rect x="1523.03" y="1826.40" width="2.1" height="8.6" fill="#000"/>
<text transform="translate(1531.6,1841.9) rotate(-90)" text-anchor="end">SC</text>
<text x="1297.4" y="1622.4" text-anchor="middle">Cosine Distance</text>
<text transform="translate(869.2,1740.0) rotate(-90)" text-anchor="middle" style="font-size:24.3px">Retro-Seq Target</text>
<text x="1296.6" y="1943.4" text-anchor="middle">Epi-Retro-Seq Target</text>
<defs><linearGradient id="g1076" x1="0" y1="0" x2="0" y2="1"><stop offset="0%" stop-color="#fde725"/><stop offset="10%" stop-color="#bddf26"/><stop offset="20%" stop-color="#7ad151"/><stop offset="30%" stop-color="#44bf70"/><stop offset="40%" stop-color="#22a884"/><stop offset="50%" stop-color="#21918c"/><stop offset="60%" stop-color="#2a788e"/><stop offset="70%" stop-color="#355f8d"/><stop offset="80%" stop-color="#414487"/><stop offset="90%" stop-color="#482475"/><stop offset="100%" stop-color="#440154"/></linearGradient></defs>
<rect x="1554.60" y="1785.10" width="16.80" height="83.40" fill="url(#g1076)" stroke="#000" stroke-width="2.1"/>
<rect x="1571.40" y="1784.05" width="8.6" height="2.1" fill="#000"/>
<rect x="1571.40" y="1867.45" width="8.6" height="2.1" fill="#000"/>
<text x="1589.6" y="1794.2" text-anchor="start">1.0</text>
<text x="1589.6" y="1879.0" text-anchor="start">0.4</text>
<g fill="none" stroke-linecap="round">
<path d="M130.4 301.5h.01M119.7 306.5h.01M140.3 314.6h.01M140.3 301.6h.01M131.7 299.9h.01M135.9 311.3h.01M127.3 303.9h.01M144 306.3h.01M125.5 303.4h.01M134 302.5h.01M133 308.2h.01M130.8 297.3h.01M133 303.7h.01M131.6 300.1h.01M133.4 311.7h.01M136 316.7h.01M114 293.2h.01M140.2 314.7h.01M121.9 305.3h.01M130.3 306.6h.01M140.5 315.6h.01M126.3 295.6h.01M134.1 310.4h.01M147.8 320.8h.01M142.4 313.4h.01M113.3 287h.01M148.4 315.7h.01M130.6 305.6h.01M133.1 307.9h.01M136.5 311.9h.01M149.2 324.5h.01M129.8 307.4h.01M131.9 304h.01M125.2 306.3h.01M130.8 317.2h.01M140.1 320.9h.01M124 302.6h.01M131.4 300.9h.01M126.2 296.9h.01M133.1 305.4h.01M138.4 314.9h.01M117.9 290.1h.01M128.7 308.3h.01M119.6 294.5h.01M149 324h.01M123.4 303h.01M123.6 300.7h.01M125.9 314.2h.01M125.7 299.3h.01M135.5 309.4h.01M150.2 318.8h.01M134.3 302.8h.01M122.3 285.5h.01M138.9 309.8h.01M136.8 311.6h.01M138.9 305.6h.01M150 324h.01M131.6 293.8h.01M134.9 314.8h.01M128.6 300.2h.01M125.5 296h.01M129.1 305.5h.01M151.1 322.5h.01M121.8 297.2h.01M119.8 287.5h.01M128.5 302.4h.01M133.9 307h.01M135.7 309.7h.01M138 311.9h.01M129.3 298h.01M122.5 304.4h.01M142.2 314.2h.01M135.1 309h.01M136.5 320.8h.01M146.2 316.4h.01M140 313h.01M147.8 314.1h.01M126.8 296.5h.01M133.1 321.5h.01M132.6 315.6h.01M128.6 292.8h.01M125.7 310h.01M136.2 316.5h.01M144.5 308h.01M116.5 294.5h.01M110.1 293h.01M132.8 316.7h.01M144.6 311.1h.01M147.3 318.4h.01M111.5 285.9h.01M119.3 300.1h.01M134 310.6h.01M126.8 311.7h.01M132.8 297.9h.01M131.9 306.1h.01M127.4 290h.01M118.2 296h.01M152 320h.01M145.7 310.6h.01M131.8 303.6h.01M137 304.1h.01M137.7 303.3h.01M129.4 301.7h.01M134.2 314h.01M127 314.9h.01M141 316.8h.01M137.7 312.9h.01M136.8 314.3h.01M137.3 302.7h.01M135.7 304.6h.01M131.2 310.1h.01M136 306h.01M126.5 297.8h.01M132.6 309.6h.01M129 302h.01M123.2 304.3h.01M129.9 314.5h.01M140.6 318.1h.01M111.5 285.9h.01M118.5 298.7h.01M132.2 300.9h.01M142.7 311.4h.01M125.3 300.5h.01M144.1 313.5h.01M144.7 305.8h.01M127 302h.01M138.5 323.2h.01M136.3 307.1h.01M134.4 306.2h.01M125.6 299.5h.01M143.3 309.7h.01M123.2 303.4h.01M134.2 304.3h.01M131.2 302.3h.01M148.4 324h.01M119.6 299.9h.01M149.7 319.2h.01M138.7 317.5h.01M133.5 303.2h.01M113 292.6h.01M123.8 307h.01M149.7 323.9h.01M146.7 307.8h.01M128.7 301.2h.01M126.7 294.6h.01M118.3 296h.01M122.2 298.8h.01M126.3 310h.01M134.7 311.9h.01M133 321.4h.01M211.8 340.1h.01M219 344h.01M215.7 350.2h.01M216.7 350.3h.01M206 338.6h.01M209.5 344.2h.01M218 349.2h.01M199.5 338.4h.01M216.5 343.4h.01M213.8 348.7h.01M208.5 346.8h.01M221.4 350.8h.01M211.4 346.4h.01M200.7 335.2h.01M213.7 347.4h.01M215.4 343.1h.01M212.8 341.8h.01M215.7 346.1h.01M229.3 352.7h.01M201.1 339.1h.01M212.7 349.4h.01M220 350.4h.01M216.8 347.7h.01M216.9 355.8h.01M216.6 348.9h.01M214.8 348.2h.01M219 346.2h.01M212.2 342.4h.01M206.1 338.6h.01M215.4 346.3h.01M210 346.4h.01M220.9 349.8h.01M214.6 351.1h.01M207.1 345.2h.01M206.1 342.2h.01M226.7 347.3h.01M215.6 344.6h.01M221 349.4h.01M212.3 341.5h.01M208.8 342h.01M209 344.2h.01M210.3 344.2h.01M211.9 345.4h.01M207.5 341.5h.01M216.1 347.8h.01M207.4 345.2h.01M217.1 347.6h.01M211.7 347h.01M224 357.2h.01M204.8 338.6h.01M218.2 352.7h.01M215.1 347h.01M224.3 352.3h.01M212.1 346.3h.01M221.8 352h.01M199.5 339.5h.01M215.1 344h.01M223.1 347.2h.01M226.1 357.9h.01M211.7 350.6h.01M211.4 345.3h.01M209.4 345.1h.01M228.2 351.9h.01M203.5 339.1h.01M225.5 354.7h.01M218.6 347.8h.01M207.6 345.9h.01M209.9 339.8h.01M215.1 347.1h.01M227.2 354.3h.01M215 342.8h.01M209.2 348.6h.01M221 351.7h.01M216.2 339.9h.01M207.9 347h.01M214.3 350.7h.01M213.1 343.7h.01M213.2 343.2h.01M214.5 347.5h.01M218.6 348.6h.01M211.4 346.3h.01M214.2 347.9h.01M213.1 345h.01M210.3 337.2h.01M215.4 340.8h.01M222.2 350.4h.01M215.4 347.2h.01M210.4 343.5h.01M216.6 346.2h.01M208.4 347.3h.01M221.5 345.5h.01M221.7 355.6h.01M224.3 352.2h.01M210.2 346.5h.01M214.5 346.5h.01M205.9 345.6h.01M204.5 349.5h.01M208.3 350.7h.01M210 345.3h.01M206.6 345.5h.01M213.1 340.2h.01M203.8 339.9h.01M204.6 343.7h.01M206.2 347.9h.01M211.3 345.4h.01M208.8 342.4h.01M203.4 342.3h.01M202.7 343.2h.01M203.8 338.8h.01M207.5 346h.01M200.6 340.6h.01M215.2 339.7h.01M207 344.5h.01M211.5 343.1h.01M200.4 342.3h.01M209.4 347.4h.01M206.6 345h.01M206.5 344h.01M211.1 344h.01M210.3 345.3h.01M169.1 307.4h.01M168.2 296.8h.01M157.2 316.9h.01M177 314h.01M185.7 315.8h.01M175.3 323.7h.01M162.8 318.4h.01M138.9 325.3h.01M185.3 311.6h.01M133.1 330.6h.01M183 313.5h.01M172.8 319.2h.01M148 297.5h.01M189.8 321.3h.01M154.2 308.4h.01M148.4 311.6h.01M184.4 319.5h.01M150.6 318.9h.01M146 311.8h.01M150.1 322.6h.01M167.3 315.8h.01M183.8 311.6h.01M159.1 313.1h.01M153.3 317h.01M162 307.9h.01M164.2 312h.01M158.7 316.3h.01M158.8 312.2h.01M164 319.9h.01M157.2 323.8h.01M174.6 304.7h.01M182 311.2h.01M148 310.1h.01M155.8 315.6h.01M156.8 332.6h.01M180.4 316.4h.01M161.7 304.9h.01M155.3 305.6h.01M172.4 307.3h.01M184.3 325h.01M172.5 305.9h.01M176 304.8h.01M168.8 321.3h.01M163.1 314.5h.01M160.1 324h.01M204.1 340.7h.01M215.8 321.3h.01M207.6 306.8h.01M208.1 316.9h.01M215.8 325.5h.01M212.3 321.6h.01M225.8 303.6h.01M215.9 342.4h.01M207.3 318.6h.01M210.6 328.7h.01M201.2 303.8h.01M196.4 319.4h.01M208.5 317.5h.01M219.3 331.8h.01M198.8 309.4h.01M215.2 322.6h.01M206.7 320.7h.01M218.2 323h.01M211.4 328.9h.01M197.4 319.5h.01M214.8 318.8h.01M217.5 294.1h.01M198.5 299.2h.01M203 316.5h.01M210.6 326.3h.01M205.7 309.2h.01M220.8 314.5h.01M218.1 342.4h.01M226.1 301.7h.01M205.9 312.6h.01M229.6 320.5h.01M204.1 323.3h.01M216.3 336.7h.01M207.2 312.5h.01M206.2 313.9h.01M203.1 303.2h.01M207.9 303.4h.01M214.5 325.8h.01M211.6 325.3h.01M226.6 309.8h.01M221 327.4h.01M216.4 304.6h.01M212 315.4h.01M216.4 334.9h.01M193.3 330.7h.01M113.6 259.5h.01M124.6 262.4h.01M126.6 263.4h.01M125.6 269.4h.01M130.5 284.4h.01M142.5 273.4h.01M149.5 274.4h.01M147.5 280.4h.01M150.5 282.4h.01M154.5 282.4h.01M158.4 278.4h.01M155.5 285.4h.01M143.5 287.4h.01M166.4 291.3h.01M60.2 168.2h.01M151.5 179.3h.01M89.7 218h.01M168.4 241.1h.01M170 241.9h.01M167.4 239.9h.01M89.3 309.3h.01M292.6 169.2h.01M307.9 166.8h.01M304.1 175.7h.01M271.5 246.7h.01M253.5 254.5h.01M264.1 256.5h.01M215.3 264.4h.01M235.2 273h.01M193.3 282.4h.01M196.3 285h.01M217.8 289.4h.01M231.2 295.3h.01M346.8 258.5h.01M345.2 261.4h.01M306.9 279.4h.01M295.6 287h.01M276.2 289.7h.01M327.9 294.9h.01M269.5 301.7h.01M261.5 318.8h.01M177.8 370.1h.01" stroke="#fff" stroke-opacity=".88" stroke-width="4.6"/>
<path d="M130.4 301.5h.01M119.7 306.5h.01M140.3 314.6h.01M140.3 301.6h.01M131.7 299.9h.01M135.9 311.3h.01M127.3 303.9h.01M144 306.3h.01M125.5 303.4h.01M134 302.5h.01M133 308.2h.01M130.8 297.3h.01M133 303.7h.01M131.6 300.1h.01M133.4 311.7h.01M136 316.7h.01M114 293.2h.01M140.2 314.7h.01M121.9 305.3h.01M130.3 306.6h.01M140.5 315.6h.01M126.3 295.6h.01M134.1 310.4h.01M147.8 320.8h.01M142.4 313.4h.01M113.3 287h.01M148.4 315.7h.01M130.6 305.6h.01M133.1 307.9h.01M136.5 311.9h.01M149.2 324.5h.01M129.8 307.4h.01M131.9 304h.01M125.2 306.3h.01M130.8 317.2h.01M140.1 320.9h.01M124 302.6h.01M131.4 300.9h.01M126.2 296.9h.01M133.1 305.4h.01M138.4 314.9h.01M117.9 290.1h.01M128.7 308.3h.01M119.6 294.5h.01M149 324h.01M123.4 303h.01M123.6 300.7h.01M125.9 314.2h.01M125.7 299.3h.01M135.5 309.4h.01M150.2 318.8h.01M134.3 302.8h.01M122.3 285.5h.01M138.9 309.8h.01M136.8 311.6h.01M138.9 305.6h.01M150 324h.01M131.6 293.8h.01M134.9 314.8h.01M128.6 300.2h.01M125.5 296h.01M129.1 305.5h.01M151.1 322.5h.01M121.8 297.2h.01M119.8 287.5h.01M128.5 302.4h.01M133.9 307h.01M135.7 309.7h.01M138 311.9h.01M129.3 298h.01M122.5 304.4h.01M142.2 314.2h.01M135.1 309h.01M136.5 320.8h.01M146.2 316.4h.01M140 313h.01M147.8 314.1h.01M126.8 296.5h.01M133.1 321.5h.01M132.6 315.6h.01M128.6 292.8h.01M125.7 310h.01M136.2 316.5h.01M144.5 308h.01M116.5 294.5h.01M110.1 293h.01M132.8 316.7h.01M144.6 311.1h.01M147.3 318.4h.01M111.5 285.9h.01M119.3 300.1h.01M134 310.6h.01M126.8 311.7h.01M132.8 297.9h.01M131.9 306.1h.01M127.4 290h.01M118.2 296h.01M152 320h.01M145.7 310.6h.01M131.8 303.6h.01M137 304.1h.01M137.7 303.3h.01M129.4 301.7h.01M134.2 314h.01M127 314.9h.01M141 316.8h.01M137.7 312.9h.01M136.8 314.3h.01M137.3 302.7h.01M135.7 304.6h.01M131.2 310.1h.01M136 306h.01M126.5 297.8h.01M132.6 309.6h.01M129 302h.01M123.2 304.3h.01M129.9 314.5h.01M140.6 318.1h.01M111.5 285.9h.01M118.5 298.7h.01M132.2 300.9h.01M142.7 311.4h.01M125.3 300.5h.01M144.1 313.5h.01M144.7 305.8h.01M127 302h.01M138.5 323.2h.01M136.3 307.1h.01M134.4 306.2h.01M125.6 299.5h.01M143.3 309.7h.01M123.2 303.4h.01M134.2 304.3h.01M131.2 302.3h.01M148.4 324h.01M119.6 299.9h.01M149.7 319.2h.01M138.7 317.5h.01M133.5 303.2h.01M113 292.6h.01M123.8 307h.01M149.7 323.9h.01M146.7 307.8h.01M128.7 301.2h.01M126.7 294.6h.01M118.3 296h.01M122.2 298.8h.01M126.3 310h.01M134.7 311.9h.01M133 321.4h.01M211.8 340.1h.01M219 344h.01M215.7 350.2h.01M216.7 350.3h.01M206 338.6h.01M209.5 344.2h.01M218 349.2h.01M199.5 338.4h.01M216.5 343.4h.01M213.8 348.7h.01M208.5 346.8h.01M221.4 350.8h.01M211.4 346.4h.01M200.7 335.2h.01M213.7 347.4h.01M215.4 343.1h.01M212.8 341.8h.01M215.7 346.1h.01M229.3 352.7h.01M201.1 339.1h.01M212.7 349.4h.01M220 350.4h.01M216.8 347.7h.01M216.9 355.8h.01M216.6 348.9h.01M214.8 348.2h.01M219 346.2h.01M212.2 342.4h.01M206.1 338.6h.01M215.4 346.3h.01M210 346.4h.01M220.9 349.8h.01M214.6 351.1h.01M207.1 345.2h.01M206.1 342.2h.01M226.7 347.3h.01M215.6 344.6h.01M221 349.4h.01M212.3 341.5h.01M208.8 342h.01M209 344.2h.01M210.3 344.2h.01M211.9 345.4h.01M207.5 341.5h.01M216.1 347.8h.01M207.4 345.2h.01M217.1 347.6h.01M211.7 347h.01M224 357.2h.01M204.8 338.6h.01M218.2 352.7h.01M215.1 347h.01M224.3 352.3h.01M212.1 346.3h.01M221.8 352h.01M199.5 339.5h.01M215.1 344h.01M223.1 347.2h.01M226.1 357.9h.01M211.7 350.6h.01M211.4 345.3h.01M209.4 345.1h.01M228.2 351.9h.01M203.5 339.1h.01M225.5 354.7h.01M218.6 347.8h.01M207.6 345.9h.01M209.9 339.8h.01M215.1 347.1h.01M227.2 354.3h.01M215 342.8h.01M209.2 348.6h.01M221 351.7h.01M216.2 339.9h.01M207.9 347h.01M214.3 350.7h.01M213.1 343.7h.01M213.2 343.2h.01M214.5 347.5h.01M218.6 348.6h.01M211.4 346.3h.01M214.2 347.9h.01M213.1 345h.01M210.3 337.2h.01M215.4 340.8h.01M222.2 350.4h.01M215.4 347.2h.01M210.4 343.5h.01M216.6 346.2h.01M208.4 347.3h.01M221.5 345.5h.01M221.7 355.6h.01M224.3 352.2h.01M210.2 346.5h.01M214.5 346.5h.01M205.9 345.6h.01M204.5 349.5h.01M208.3 350.7h.01M210 345.3h.01M206.6 345.5h.01M213.1 340.2h.01M203.8 339.9h.01M204.6 343.7h.01M206.2 347.9h.01M211.3 345.4h.01M208.8 342.4h.01M203.4 342.3h.01M202.7 343.2h.01M203.8 338.8h.01M207.5 346h.01M200.6 340.6h.01M215.2 339.7h.01M207 344.5h.01M211.5 343.1h.01M200.4 342.3h.01M209.4 347.4h.01M206.6 345h.01M206.5 344h.01M211.1 344h.01M210.3 345.3h.01M169.1 307.4h.01M168.2 296.8h.01M157.2 316.9h.01M177 314h.01M185.7 315.8h.01M175.3 323.7h.01M162.8 318.4h.01M138.9 325.3h.01M185.3 311.6h.01M133.1 330.6h.01M183 313.5h.01M172.8 319.2h.01M148 297.5h.01M189.8 321.3h.01M154.2 308.4h.01M148.4 311.6h.01M184.4 319.5h.01M150.6 318.9h.01M146 311.8h.01M150.1 322.6h.01M167.3 315.8h.01M183.8 311.6h.01M159.1 313.1h.01M153.3 317h.01M162 307.9h.01M164.2 312h.01M158.7 316.3h.01M158.8 312.2h.01M164 319.9h.01M157.2 323.8h.01M174.6 304.7h.01M182 311.2h.01M148 310.1h.01M155.8 315.6h.01M156.8 332.6h.01M180.4 316.4h.01M161.7 304.9h.01M155.3 305.6h.01M172.4 307.3h.01M184.3 325h.01M172.5 305.9h.01M176 304.8h.01M168.8 321.3h.01M163.1 314.5h.01M160.1 324h.01M204.1 340.7h.01M215.8 321.3h.01M207.6 306.8h.01M208.1 316.9h.01M215.8 325.5h.01M212.3 321.6h.01M225.8 303.6h.01M215.9 342.4h.01M207.3 318.6h.01M210.6 328.7h.01M201.2 303.8h.01M196.4 319.4h.01M208.5 317.5h.01M219.3 331.8h.01M198.8 309.4h.01M215.2 322.6h.01M206.7 320.7h.01M218.2 323h.01M211.4 328.9h.01M197.4 319.5h.01M214.8 318.8h.01M217.5 294.1h.01M198.5 299.2h.01M203 316.5h.01M210.6 326.3h.01M205.7 309.2h.01M220.8 314.5h.01M218.1 342.4h.01M226.1 301.7h.01M205.9 312.6h.01M229.6 320.5h.01M204.1 323.3h.01M216.3 336.7h.01M207.2 312.5h.01M206.2 313.9h.01M203.1 303.2h.01M207.9 303.4h.01M214.5 325.8h.01M211.6 325.3h.01M226.6 309.8h.01M221 327.4h.01M216.4 304.6h.01M212 315.4h.01M216.4 334.9h.01M193.3 330.7h.01M113.6 259.5h.01M124.6 262.4h.01M126.6 263.4h.01M125.6 269.4h.01M130.5 284.4h.01M142.5 273.4h.01M149.5 274.4h.01M147.5 280.4h.01M150.5 282.4h.01M154.5 282.4h.01M158.4 278.4h.01M155.5 285.4h.01M143.5 287.4h.01M166.4 291.3h.01M60.2 168.2h.01M151.5 179.3h.01M89.7 218h.01M168.4 241.1h.01M170 241.9h.01M167.4 239.9h.01M89.3 309.3h.01M292.6 169.2h.01M307.9 166.8h.01M304.1 175.7h.01M271.5 246.7h.01M253.5 254.5h.01M264.1 256.5h.01M215.3 264.4h.01M235.2 273h.01M193.3 282.4h.01M196.3 285h.01M217.8 289.4h.01M231.2 295.3h.01M346.8 258.5h.01M345.2 261.4h.01M306.9 279.4h.01M295.6 287h.01M276.2 289.7h.01M327.9 294.9h.01M269.5 301.7h.01M261.5 318.8h.01M177.8 370.1h.01" stroke="#1f72ad" stroke-width="2.3"/>
<path d="M673.2 257.5h.01M677.2 257.9h.01M685.1 261.4h.01M673.2 268.4h.01M640.3 269.4h.01M652.2 270.4h.01M695.1 282.4h.01M718 266.4h.01M734 262.4h.01M712 252.5h.01M650.2 289.4h.01M637.3 292.3h.01M678.1 291.3h.01M662.2 297.3h.01M658.2 301.3h.01M669.2 319.2h.01M647.3 318.3h.01M637.3 306.3h.01M717 308.3h.01M670.2 335.2h.01" stroke="#fff" stroke-opacity=".88" stroke-width="4.6"/>
<path d="M673.2 257.5h.01M677.2 257.9h.01M685.1 261.4h.01M673.2 268.4h.01M640.3 269.4h.01M652.2 270.4h.01M695.1 282.4h.01M718 266.4h.01M734 262.4h.01M712 252.5h.01M650.2 289.4h.01M637.3 292.3h.01M678.1 291.3h.01M662.2 297.3h.01M658.2 301.3h.01M669.2 319.2h.01M647.3 318.3h.01M637.3 306.3h.01M717 308.3h.01M670.2 335.2h.01" stroke="#8c8c96" stroke-width="2.3"/>
<path d="M765.8 294.9h.01M766.4 296.3h.01M764.8 295.7h.01M714 297.3h.01M642.3 296.3h.01" stroke="#fff" stroke-opacity=".88" stroke-width="4.6"/>
<path d="M765.8 294.9h.01M766.4 296.3h.01M764.8 295.7h.01M714 297.3h.01M642.3 296.3h.01" stroke="#a58fd0" stroke-width="2.3"/>
<path d="M615.3 262.6h.01M608.6 260.4h.01M605.9 258.5h.01M607.3 255.4h.01M613 263.3h.01M610.9 264h.01M605.8 260h.01M605 260.9h.01M607.4 263.3h.01M601.1 263.1h.01M608.1 258.6h.01M608.8 255.7h.01M605.6 261h.01M607.6 256.1h.01M614.3 260h.01M600.1 262.5h.01M610.6 259.8h.01M598 259.3h.01M604.8 263.4h.01M605.5 259.6h.01M601.7 258.1h.01M603.2 260h.01M612.4 261.1h.01M600.8 260.6h.01M604.3 261.3h.01M598.1 260.5h.01M608.1 262.1h.01M606.4 259.9h.01M613.2 256.5h.01M607.8 258.5h.01M607.4 260.5h.01M605.7 254.4h.01M606.5 260.7h.01M605.5 259.6h.01M610.5 253.9h.01M601.4 255.8h.01M598 257.3h.01M611.2 259h.01M607 266.8h.01M608.6 259.3h.01M606.9 259.9h.01M610.9 260.9h.01M600.4 260.9h.01M603.4 259.8h.01M608.8 255h.01M604.7 264.1h.01M604 264.6h.01M609.4 267.9h.01M611.1 255.8h.01M604.9 262.2h.01M615.6 265.2h.01M608.4 255.7h.01M606.3 262.8h.01M609 261.9h.01M615.6 260.4h.01M609.1 257.9h.01M606.8 261.6h.01M603.3 263.7h.01M602.3 261.5h.01M605.5 262.9h.01M607 255.9h.01M612.7 260.6h.01M613.2 257.2h.01M608 254.5h.01M608.9 260h.01M609.5 260h.01M603 263.2h.01M607.3 259.2h.01M603.9 255.6h.01M605.1 264.5h.01M608.5 265.2h.01M605.5 257.3h.01M607.3 264h.01M607.2 262.8h.01M608 258.6h.01M603.4 260.9h.01M613.3 253h.01M603.5 253.9h.01M607.7 261.1h.01M615.6 254.4h.01M607.4 265.7h.01M607.1 266.5h.01M608 265.4h.01M614.1 258.5h.01M610 259.2h.01M600.5 261.6h.01M600.9 257h.01M607.6 258.6h.01M612.2 262.3h.01M606.6 256.1h.01M611.5 261.3h.01M602.2 259.4h.01M604.3 259.5h.01M606.6 262.3h.01M607.8 263.3h.01M602.2 258.8h.01M612.2 258.9h.01M612.1 259.5h.01M604 254.1h.01M605.9 259.7h.01M608.7 262.3h.01M605.2 253h.01M609.6 261h.01M601.9 255.8h.01M606.2 256.7h.01M615.6 262.1h.01M613.2 259.2h.01M608.3 263.7h.01M606.9 261.3h.01M605.7 258.2h.01M598.7 262.2h.01M604.2 261.1h.01M599.5 260.8h.01M604.5 260h.01M601 261.4h.01M599.8 261.6h.01M598.3 262.1h.01M600 260.3h.01M598.5 260.5h.01M598.1 261.2h.01M604.9 258.4h.01M604 255h.01M606 256h.01M605.3 256.5h.01M604.6 255.4h.01M605.6 257.9h.01M603.1 254.5h.01M603.1 251.4h.01M605.9 254h.01M603 254.8h.01M636.3 280.4h.01M618.2 267.8h.01M628.3 276.6h.01M625.3 268.6h.01M640.2 281.8h.01M617.6 266.1h.01M638.8 280.6h.01M647.9 285.3h.01M627.6 272.1h.01M614.8 263.7h.01M629.1 274.5h.01M644.8 284h.01M643.1 282.8h.01M641.5 281.9h.01M627.1 273.1h.01M646.4 287.8h.01M620.5 267.8h.01M635.8 278.8h.01M645.7 283.9h.01M639.7 279.8h.01M640.5 282.2h.01M633.4 279h.01M621.5 267.9h.01M648.5 288.2h.01M644.1 284.5h.01M632.7 277.3h.01M617.3 265.5h.01M623.5 268.5h.01M625.3 269.7h.01M636.8 280.4h.01M626 273.4h.01M642 283.3h.01M631.4 277.4h.01M617.9 265.1h.01M620.5 267.9h.01M644.1 285.1h.01M645.1 283.4h.01M633.1 279h.01M628.4 274.2h.01M614.9 263h.01M629.3 278.5h.01M628.3 273.9h.01M624 269.4h.01M632.1 276.5h.01M617 266.3h.01M629 278.6h.01M625 271h.01M632.5 279h.01M625.9 272h.01M621.7 267.2h.01M635.1 278.6h.01M639.5 280.8h.01M643.5 282.5h.01M641.2 281.6h.01M633.1 279.1h.01M624.7 271.5h.01M617.4 265.5h.01M625.2 272.9h.01M628.7 274h.01M646.8 288.3h.01M617.5 266.7h.01M646 286.6h.01M648.9 286.3h.01M638.9 282.8h.01M633.1 278.8h.01M647.1 285h.01M646.7 288.4h.01M631.4 274.2h.01M642.8 281.8h.01M625.4 270.9h.01M642.3 281h.01M647.4 284.9h.01M645.1 283.9h.01M631 276.7h.01M629.4 273.9h.01M627.8 259.5h.01M626.1 253.5h.01M627.1 257.8h.01M626.2 253.4h.01M624.1 250.9h.01M626.2 253.6h.01M625.3 253.9h.01M626 255.1h.01M628.7 260.1h.01M629 258.2h.01M625.4 253.7h.01M627.1 256.4h.01M626.1 258.9h.01M628.3 259.8h.01M741.2 274.8h.01M747.8 274h.01M745.5 277h.01M743 283.4h.01M750 279.1h.01M756.5 279.7h.01M746 280.8h.01M749.3 277.1h.01M749.9 276.2h.01M731.4 288.9h.01M759.1 273.8h.01M747.6 277.7h.01M743.4 279.9h.01M745.1 278.5h.01M745.8 284.9h.01M747 279.2h.01M752.9 277.2h.01M744.7 284.8h.01M748.6 280.5h.01M742.4 279.8h.01M735.6 283h.01M749.4 281.5h.01M744.9 283.6h.01M751.4 276.1h.01M740.7 283.2h.01M734.1 293.3h.01M747.7 276.8h.01M745.9 275.4h.01M761.1 267h.01M760.9 266.6h.01M740.6 285.7h.01M741.8 283.1h.01M755.2 273.1h.01M745.7 281.5h.01M741.4 282h.01M745.6 273.6h.01M747.2 281.1h.01M749 275.8h.01M760.2 278.5h.01M756 268h.01M745.9 278.8h.01M737.1 284.2h.01M740.4 281.9h.01M744.2 286.7h.01M751.4 280.8h.01M749.9 275h.01M744.9 276.4h.01M739 282.5h.01M751.3 279.4h.01M738.4 283h.01M732.8 283.7h.01M740.3 282.8h.01M739.8 278.3h.01M743.5 281.7h.01M739.5 285.9h.01M743.6 282.3h.01M747.8 275.8h.01M747.6 276.8h.01M755.5 272.6h.01M742.6 278.5h.01M748.6 276.9h.01M751.2 270.5h.01M739.8 279.6h.01M739.4 275.9h.01M733.1 291.7h.01M749.7 284.1h.01M755.2 269.6h.01M753.1 282h.01M740 280.1h.01M746.8 278.5h.01M743.2 279.3h.01M737.5 283.9h.01M737.8 288h.01M762.8 274.3h.01M757.2 274.4h.01M759.2 274h.01M749 273.2h.01M757.2 279.1h.01M746.6 277.5h.01M751.1 276.7h.01M753.5 281.4h.01M747.8 277.4h.01M743.3 289h.01M760.1 271.3h.01M748 277.5h.01M752.5 280.7h.01M749.4 278.6h.01M750.5 280.7h.01M747.9 281.8h.01M744.8 278.8h.01M742.8 280.8h.01M750.8 274.1h.01M751.3 281.1h.01M755.6 276.4h.01M749.6 276.9h.01M751.9 276.3h.01M750.4 280.7h.01M755.4 276.8h.01M755.8 274.2h.01M762.1 268.5h.01M741.6 287.4h.01M741.2 279.4h.01M756.4 273.7h.01M752.1 276.9h.01M739.5 288.6h.01M743.8 279.8h.01M750.4 279.5h.01M749.6 278.7h.01M735.5 288.5h.01M740.4 275.3h.01M752.8 277.1h.01M744.7 277.7h.01M753.9 280.1h.01M757.8 271.6h.01M746.6 278.1h.01M756.3 274.2h.01M750.9 272.5h.01M746.7 279.9h.01M756 277.1h.01M746.5 280.3h.01M745.4 283.5h.01M742 281.3h.01M734.7 286.3h.01M738.1 281.2h.01M745.2 278.9h.01M743.1 287.8h.01M746.8 275.7h.01M755.4 278.7h.01M748.6 280.1h.01M750.3 282.4h.01M753.9 276.5h.01M736.4 283.7h.01M737 288.2h.01M749.2 274.3h.01M739.1 288.4h.01M740.4 285.3h.01M751.1 273.6h.01M744 281h.01M752.1 273.3h.01M734.7 286.1h.01M740.8 284.3h.01M736.6 282.8h.01M735.7 283.2h.01M736.1 283.7h.01M735.9 278.9h.01M748.9 283.3h.01M748 277.5h.01M761.9 273.1h.01M740.3 281.5h.01M751.4 275.7h.01M752.8 280h.01M749.3 282.7h.01M742.6 279.2h.01M732.3 290.4h.01M747.5 282.6h.01M740 278.5h.01M758.2 272.1h.01M749.2 275.7h.01M762.3 270.1h.01M757.3 269h.01M743.9 279.1h.01M753.9 278.3h.01M753.7 271.5h.01M741 281.9h.01M756.1 277.7h.01M733.3 285.5h.01M745.9 277.5h.01M746.6 283.9h.01M756.8 275.8h.01M748.5 273.3h.01M725.8 290.8h.01M731 292.3h.01M724.4 297.5h.01M731.8 294.7h.01M721.7 294.6h.01M718.6 299.7h.01M730.7 291.5h.01M730.1 291.2h.01M727.8 289.5h.01M718.5 291.9h.01M738.8 288.7h.01M718.3 299.6h.01M730.2 293.7h.01M721.9 293.5h.01M718.2 298.5h.01M721 299.7h.01M720.8 298.3h.01M726 287.3h.01M729.5 290.1h.01M715.2 296.9h.01M736.2 286.6h.01M727.3 293.1h.01M720.9 294.8h.01M731.5 288h.01M722.3 297.1h.01M722.3 295.1h.01M711 298.7h.01M717.9 295.7h.01M723.7 295.2h.01M726.5 293h.01M729.3 288.8h.01M725.2 293.5h.01M726 292.2h.01M714.7 300.7h.01M721.3 297.5h.01M715.4 301.5h.01M735 292.3h.01M716.8 295.5h.01M727.6 289.7h.01M720.3 298.7h.01M727.9 285.2h.01M729.5 293.9h.01M715.6 298.5h.01M730.5 286.3h.01M717.7 300.6h.01M718.7 298.7h.01M723.1 290.7h.01M723.9 294h.01M724.1 292.9h.01M715.5 299.8h.01M719.3 295h.01M722.5 290.9h.01M722.2 292.6h.01M719.5 301.1h.01M717.7 296.4h.01M728.1 292.1h.01M715.7 299.3h.01M729.3 285.1h.01M725.6 294h.01M729.6 288.1h.01M773.1 258h.01M770.4 258.5h.01M773.4 257h.01M765.2 262.6h.01M764.9 261.5h.01M769.2 261h.01M765.4 261.1h.01M771 259.4h.01M637.1 291.2h.01M643.2 299.6h.01M640.4 308.2h.01M645.2 303.1h.01M640.2 291.7h.01M636.9 309.3h.01M643.5 304.4h.01M638 302.8h.01M643.6 297.7h.01M638.6 302.3h.01M646.4 301.6h.01M638.8 302.9h.01M643.2 303.6h.01M646.6 300.9h.01M643.8 304.1h.01M640.8 301.7h.01M639.4 306.5h.01M640.1 297.6h.01M654 269.9h.01M657 258.6h.01M669.6 265.1h.01M667.6 270.7h.01M664.9 265.7h.01M670.6 262.4h.01M669.5 257.6h.01M670.7 257.4h.01M658.1 255.9h.01M663.8 268.7h.01M656.4 254.1h.01M661.6 257.3h.01M671.1 271h.01M667.9 254.7h.01M748.5 292.9h.01M742.3 285h.01M748 292.5h.01M747.5 287.1h.01M742.3 291.5h.01M774.3 283.2h.01M748.1 284.3h.01M757 291.3h.01M775.8 298.1h.01M732 284.3h.01M767.9 291.6h.01M749.6 284.2h.01" stroke="#fff" stroke-opacity=".88" stroke-width="4.6"/>
<path d="M615.3 262.6h.01M608.6 260.4h.01M605.9 258.5h.01M607.3 255.4h.01M613 263.3h.01M610.9 264h.01M605.8 260h.01M605 260.9h.01M607.4 263.3h.01M601.1 263.1h.01M608.1 258.6h.01M608.8 255.7h.01M605.6 261h.01M607.6 256.1h.01M614.3 260h.01M600.1 262.5h.01M610.6 259.8h.01M598 259.3h.01M604.8 263.4h.01M605.5 259.6h.01M601.7 258.1h.01M603.2 260h.01M612.4 261.1h.01M600.8 260.6h.01M604.3 261.3h.01M598.1 260.5h.01M608.1 262.1h.01M606.4 259.9h.01M613.2 256.5h.01M607.8 258.5h.01M607.4 260.5h.01M605.7 254.4h.01M606.5 260.7h.01M605.5 259.6h.01M610.5 253.9h.01M601.4 255.8h.01M598 257.3h.01M611.2 259h.01M607 266.8h.01M608.6 259.3h.01M606.9 259.9h.01M610.9 260.9h.01M600.4 260.9h.01M603.4 259.8h.01M608.8 255h.01M604.7 264.1h.01M604 264.6h.01M609.4 267.9h.01M611.1 255.8h.01M604.9 262.2h.01M615.6 265.2h.01M608.4 255.7h.01M606.3 262.8h.01M609 261.9h.01M615.6 260.4h.01M609.1 257.9h.01M606.8 261.6h.01M603.3 263.7h.01M602.3 261.5h.01M605.5 262.9h.01M607 255.9h.01M612.7 260.6h.01M613.2 257.2h.01M608 254.5h.01M608.9 260h.01M609.5 260h.01M603 263.2h.01M607.3 259.2h.01M603.9 255.6h.01M605.1 264.5h.01M608.5 265.2h.01M605.5 257.3h.01M607.3 264h.01M607.2 262.8h.01M608 258.6h.01M603.4 260.9h.01M613.3 253h.01M603.5 253.9h.01M607.7 261.1h.01M615.6 254.4h.01M607.4 265.7h.01M607.1 266.5h.01M608 265.4h.01M614.1 258.5h.01M610 259.2h.01M600.5 261.6h.01M600.9 257h.01M607.6 258.6h.01M612.2 262.3h.01M606.6 256.1h.01M611.5 261.3h.01M602.2 259.4h.01M604.3 259.5h.01M606.6 262.3h.01M607.8 263.3h.01M602.2 258.8h.01M612.2 258.9h.01M612.1 259.5h.01M604 254.1h.01M605.9 259.7h.01M608.7 262.3h.01M605.2 253h.01M609.6 261h.01M601.9 255.8h.01M606.2 256.7h.01M615.6 262.1h.01M613.2 259.2h.01M608.3 263.7h.01M606.9 261.3h.01M605.7 258.2h.01M598.7 262.2h.01M604.2 261.1h.01M599.5 260.8h.01M604.5 260h.01M601 261.4h.01M599.8 261.6h.01M598.3 262.1h.01M600 260.3h.01M598.5 260.5h.01M598.1 261.2h.01M604.9 258.4h.01M604 255h.01M606 256h.01M605.3 256.5h.01M604.6 255.4h.01M605.6 257.9h.01M603.1 254.5h.01M603.1 251.4h.01M605.9 254h.01M603 254.8h.01M636.3 280.4h.01M618.2 267.8h.01M628.3 276.6h.01M625.3 268.6h.01M640.2 281.8h.01M617.6 266.1h.01M638.8 280.6h.01M647.9 285.3h.01M627.6 272.1h.01M614.8 263.7h.01M629.1 274.5h.01M644.8 284h.01M643.1 282.8h.01M641.5 281.9h.01M627.1 273.1h.01M646.4 287.8h.01M620.5 267.8h.01M635.8 278.8h.01M645.7 283.9h.01M639.7 279.8h.01M640.5 282.2h.01M633.4 279h.01M621.5 267.9h.01M648.5 288.2h.01M644.1 284.5h.01M632.7 277.3h.01M617.3 265.5h.01M623.5 268.5h.01M625.3 269.7h.01M636.8 280.4h.01M626 273.4h.01M642 283.3h.01M631.4 277.4h.01M617.9 265.1h.01M620.5 267.9h.01M644.1 285.1h.01M645.1 283.4h.01M633.1 279h.01M628.4 274.2h.01M614.9 263h.01M629.3 278.5h.01M628.3 273.9h.01M624 269.4h.01M632.1 276.5h.01M617 266.3h.01M629 278.6h.01M625 271h.01M632.5 279h.01M625.9 272h.01M621.7 267.2h.01M635.1 278.6h.01M639.5 280.8h.01M643.5 282.5h.01M641.2 281.6h.01M633.1 279.1h.01M624.7 271.5h.01M617.4 265.5h.01M625.2 272.9h.01M628.7 274h.01M646.8 288.3h.01M617.5 266.7h.01M646 286.6h.01M648.9 286.3h.01M638.9 282.8h.01M633.1 278.8h.01M647.1 285h.01M646.7 288.4h.01M631.4 274.2h.01M642.8 281.8h.01M625.4 270.9h.01M642.3 281h.01M647.4 284.9h.01M645.1 283.9h.01M631 276.7h.01M629.4 273.9h.01M627.8 259.5h.01M626.1 253.5h.01M627.1 257.8h.01M626.2 253.4h.01M624.1 250.9h.01M626.2 253.6h.01M625.3 253.9h.01M626 255.1h.01M628.7 260.1h.01M629 258.2h.01M625.4 253.7h.01M627.1 256.4h.01M626.1 258.9h.01M628.3 259.8h.01M741.2 274.8h.01M747.8 274h.01M745.5 277h.01M743 283.4h.01M750 279.1h.01M756.5 279.7h.01M746 280.8h.01M749.3 277.1h.01M749.9 276.2h.01M731.4 288.9h.01M759.1 273.8h.01M747.6 277.7h.01M743.4 279.9h.01M745.1 278.5h.01M745.8 284.9h.01M747 279.2h.01M752.9 277.2h.01M744.7 284.8h.01M748.6 280.5h.01M742.4 279.8h.01M735.6 283h.01M749.4 281.5h.01M744.9 283.6h.01M751.4 276.1h.01M740.7 283.2h.01M734.1 293.3h.01M747.7 276.8h.01M745.9 275.4h.01M761.1 267h.01M760.9 266.6h.01M740.6 285.7h.01M741.8 283.1h.01M755.2 273.1h.01M745.7 281.5h.01M741.4 282h.01M745.6 273.6h.01M747.2 281.1h.01M749 275.8h.01M760.2 278.5h.01M756 268h.01M745.9 278.8h.01M737.1 284.2h.01M740.4 281.9h.01M744.2 286.7h.01M751.4 280.8h.01M749.9 275h.01M744.9 276.4h.01M739 282.5h.01M751.3 279.4h.01M738.4 283h.01M732.8 283.7h.01M740.3 282.8h.01M739.8 278.3h.01M743.5 281.7h.01M739.5 285.9h.01M743.6 282.3h.01M747.8 275.8h.01M747.6 276.8h.01M755.5 272.6h.01M742.6 278.5h.01M748.6 276.9h.01M751.2 270.5h.01M739.8 279.6h.01M739.4 275.9h.01M733.1 291.7h.01M749.7 284.1h.01M755.2 269.6h.01M753.1 282h.01M740 280.1h.01M746.8 278.5h.01M743.2 279.3h.01M737.5 283.9h.01M737.8 288h.01M762.8 274.3h.01M757.2 274.4h.01M759.2 274h.01M749 273.2h.01M757.2 279.1h.01M746.6 277.5h.01M751.1 276.7h.01M753.5 281.4h.01M747.8 277.4h.01M743.3 289h.01M760.1 271.3h.01M748 277.5h.01M752.5 280.7h.01M749.4 278.6h.01M750.5 280.7h.01M747.9 281.8h.01M744.8 278.8h.01M742.8 280.8h.01M750.8 274.1h.01M751.3 281.1h.01M755.6 276.4h.01M749.6 276.9h.01M751.9 276.3h.01M750.4 280.7h.01M755.4 276.8h.01M755.8 274.2h.01M762.1 268.5h.01M741.6 287.4h.01M741.2 279.4h.01M756.4 273.7h.01M752.1 276.9h.01M739.5 288.6h.01M743.8 279.8h.01M750.4 279.5h.01M749.6 278.7h.01M735.5 288.5h.01M740.4 275.3h.01M752.8 277.1h.01M744.7 277.7h.01M753.9 280.1h.01M757.8 271.6h.01M746.6 278.1h.01M756.3 274.2h.01M750.9 272.5h.01M746.7 279.9h.01M756 277.1h.01M746.5 280.3h.01M745.4 283.5h.01M742 281.3h.01M734.7 286.3h.01M738.1 281.2h.01M745.2 278.9h.01M743.1 287.8h.01M746.8 275.7h.01M755.4 278.7h.01M748.6 280.1h.01M750.3 282.4h.01M753.9 276.5h.01M736.4 283.7h.01M737 288.2h.01M749.2 274.3h.01M739.1 288.4h.01M740.4 285.3h.01M751.1 273.6h.01M744 281h.01M752.1 273.3h.01M734.7 286.1h.01M740.8 284.3h.01M736.6 282.8h.01M735.7 283.2h.01M736.1 283.7h.01M735.9 278.9h.01M748.9 283.3h.01M748 277.5h.01M761.9 273.1h.01M740.3 281.5h.01M751.4 275.7h.01M752.8 280h.01M749.3 282.7h.01M742.6 279.2h.01M732.3 290.4h.01M747.5 282.6h.01M740 278.5h.01M758.2 272.1h.01M749.2 275.7h.01M762.3 270.1h.01M757.3 269h.01M743.9 279.1h.01M753.9 278.3h.01M753.7 271.5h.01M741 281.9h.01M756.1 277.7h.01M733.3 285.5h.01M745.9 277.5h.01M746.6 283.9h.01M756.8 275.8h.01M748.5 273.3h.01M725.8 290.8h.01M731 292.3h.01M724.4 297.5h.01M731.8 294.7h.01M721.7 294.6h.01M718.6 299.7h.01M730.7 291.5h.01M730.1 291.2h.01M727.8 289.5h.01M718.5 291.9h.01M738.8 288.7h.01M718.3 299.6h.01M730.2 293.7h.01M721.9 293.5h.01M718.2 298.5h.01M721 299.7h.01M720.8 298.3h.01M726 287.3h.01M729.5 290.1h.01M715.2 296.9h.01M736.2 286.6h.01M727.3 293.1h.01M720.9 294.8h.01M731.5 288h.01M722.3 297.1h.01M722.3 295.1h.01M711 298.7h.01M717.9 295.7h.01M723.7 295.2h.01M726.5 293h.01M729.3 288.8h.01M725.2 293.5h.01M726 292.2h.01M714.7 300.7h.01M721.3 297.5h.01M715.4 301.5h.01M735 292.3h.01M716.8 295.5h.01M727.6 289.7h.01M720.3 298.7h.01M727.9 285.2h.01M729.5 293.9h.01M715.6 298.5h.01M730.5 286.3h.01M717.7 300.6h.01M718.7 298.7h.01M723.1 290.7h.01M723.9 294h.01M724.1 292.9h.01M715.5 299.8h.01M719.3 295h.01M722.5 290.9h.01M722.2 292.6h.01M719.5 301.1h.01M717.7 296.4h.01M728.1 292.1h.01M715.7 299.3h.01M729.3 285.1h.01M725.6 294h.01M729.6 288.1h.01M773.1 258h.01M770.4 258.5h.01M773.4 257h.01M765.2 262.6h.01M764.9 261.5h.01M769.2 261h.01M765.4 261.1h.01M771 259.4h.01M637.1 291.2h.01M643.2 299.6h.01M640.4 308.2h.01M645.2 303.1h.01M640.2 291.7h.01M636.9 309.3h.01M643.5 304.4h.01M638 302.8h.01M643.6 297.7h.01M638.6 302.3h.01M646.4 301.6h.01M638.8 302.9h.01M643.2 303.6h.01M646.6 300.9h.01M643.8 304.1h.01M640.8 301.7h.01M639.4 306.5h.01M640.1 297.6h.01M654 269.9h.01M657 258.6h.01M669.6 265.1h.01M667.6 270.7h.01M664.9 265.7h.01M670.6 262.4h.01M669.5 257.6h.01M670.7 257.4h.01M658.1 255.9h.01M663.8 268.7h.01M656.4 254.1h.01M661.6 257.3h.01M671.1 271h.01M667.9 254.7h.01M748.5 292.9h.01M742.3 285h.01M748 292.5h.01M747.5 287.1h.01M742.3 291.5h.01M774.3 283.2h.01M748.1 284.3h.01M757 291.3h.01M775.8 298.1h.01M732 284.3h.01M767.9 291.6h.01M749.6 284.2h.01" stroke="#9db6e4" stroke-width="2.3"/>
<path d="M1184.8 272.4h.01M1189.8 276.3h.01M1174.8 275.7h.01M1186.4 274.4h.01M1193.2 276.1h.01M1187.1 270h.01M1192.1 282.2h.01M1188.6 279.7h.01M1187.9 272.5h.01M1186.8 278h.01M1181.7 271.4h.01M1186.8 280.5h.01M1179.7 277h.01M1188.5 276.7h.01M1193.4 282h.01M1176.6 279.6h.01M1184.4 271.1h.01M1183.2 275.4h.01M1195.9 272.8h.01M1188 277.4h.01M1189.4 275h.01M1189 273.3h.01M1176 275.1h.01M1188.4 275.2h.01M1186 275.4h.01M1186.9 269.6h.01M1176.5 278.8h.01M1183.9 274.9h.01M1174.5 281.5h.01M1183.2 273.5h.01M1186.1 279.3h.01M1184 279.4h.01M1179.6 279.6h.01M1182.4 279.7h.01M1192.2 275.7h.01M1186.1 276.6h.01M1184 274.7h.01M1179.7 278.7h.01M1186.5 276.7h.01M1184.6 275.9h.01M1178.7 276.7h.01M1188.5 273.8h.01M1193.4 275h.01M1182.3 276.3h.01M1184.7 274.3h.01M1188.8 276h.01M1177.1 273.4h.01M1182.3 272.3h.01M1184.9 275.6h.01M1189.2 269.3h.01M1181.4 273.4h.01M1190.7 272.2h.01M1194.6 281.7h.01M1183.9 279.8h.01M1181.9 275.7h.01M1176.4 278.9h.01M1189.2 280.9h.01M1182.1 276h.01M1171.8 280.9h.01M1179.2 273.7h.01M1185.1 276.8h.01M1190.5 272h.01M1197.9 280.4h.01M1186.1 281.2h.01M1187.2 277.1h.01M1187.7 276.9h.01M1176.8 272.8h.01M1185.9 276.3h.01M1184.8 280.5h.01M1180.2 275.3h.01M1181.2 275.5h.01M1188 277.3h.01M1192.5 270.3h.01M1190.3 277h.01M1187.6 273.7h.01M1186.1 282.9h.01M1183.2 276h.01M1182.4 278.1h.01M1180.2 280.7h.01M1180.9 279h.01M1184 275.9h.01M1179.8 276.5h.01M1178.2 278.5h.01M1185.2 273.9h.01M1171.5 278.3h.01M1190.9 277.7h.01M1186.9 274.3h.01M1184.6 275.6h.01M1191.1 275.3h.01M1183.9 277.2h.01M1172.8 275.3h.01M1182.6 277.3h.01M1181.4 272.1h.01M1181.7 277.9h.01M1186.7 276.3h.01M1183.4 277.7h.01M1181.7 281.8h.01M1190 272.9h.01M1178.9 275.1h.01M1192.1 273.3h.01M1178.3 273.9h.01M1180.9 278.2h.01M1189.7 282.5h.01M1188.3 277.7h.01M1188.4 278.6h.01M1187.1 270.4h.01M1179.3 275.8h.01M1183.7 272.2h.01M1176.9 278.9h.01M1175.8 280.9h.01M1197.4 275.7h.01M1189.3 278.9h.01M1189.6 281.1h.01M1195 277.5h.01M1195.3 276.5h.01M1184.7 275.9h.01M1190.2 273.9h.01M1179.5 272.6h.01M1187.8 276.4h.01M1188.3 273.9h.01M1181.3 278.5h.01M1192.1 273.2h.01M1183.8 282.1h.01M1183.9 281.6h.01M1191.6 277.4h.01M1171.6 279.2h.01M1186.8 271.5h.01M1184.3 273.9h.01M1185.9 279.4h.01M1184 283.2h.01M1211.4 262.4h.01M1237.9 250.8h.01M1208.4 263h.01M1209.9 262.1h.01M1216.6 258h.01M1226.2 256.6h.01M1222.6 257.9h.01M1207.6 263.1h.01M1213.7 259.5h.01M1228.8 254.5h.01M1216.5 258.7h.01M1206.5 263.1h.01M1243.7 244.9h.01M1200.5 267.1h.01M1222.3 254.2h.01M1223 257.7h.01M1207.5 262.8h.01M1208.9 262.6h.01M1234.1 251.4h.01M1221.6 257.2h.01M1216.7 258.8h.01M1212.8 259.6h.01M1216.3 260.2h.01M1235.7 254.5h.01M1235.8 249.9h.01M1223.4 255.9h.01M1201.6 267h.01M1241.5 246.2h.01M1228 253h.01M1235.5 252.4h.01M1212.1 262.1h.01M1203.3 264.1h.01M1234.5 251.7h.01M1224.3 256.8h.01M1223.9 256h.01M1198.6 268.3h.01M1218.7 258.7h.01M1200.2 263.7h.01M1209.8 258.6h.01M1199.9 266h.01M1232.1 249.8h.01M1204.2 263.5h.01M1225.4 256.2h.01M1199.9 266.8h.01M1205.9 263.7h.01M1197.8 266.2h.01M1214.1 259.6h.01M1243 243.7h.01M1215.8 258.5h.01M1226.3 257h.01M1200.5 268.8h.01M1227.6 256.4h.01M1233.3 251.3h.01M1206.8 262.9h.01M1206.9 264.2h.01M1239.2 247.8h.01M1205 263.3h.01M1223.1 258.6h.01M1208 263.8h.01M1236.2 249h.01M1228 255.7h.01M1212.4 259.8h.01M1228.2 253.3h.01M1235.4 253.2h.01M1243.8 243.2h.01M1238.4 249.4h.01M1237.5 248h.01M1240.9 248.9h.01M1239.6 243.7h.01M1236.4 254.1h.01M1238.3 245.9h.01M1237.7 247.1h.01M1239.8 252.8h.01M1238.8 246.9h.01M1240.9 251.8h.01M1243.6 254.1h.01M1241.9 250h.01M1237.7 247.3h.01M1241.9 250.8h.01M1166.1 282h.01M1174.2 281.7h.01M1168 281.1h.01M1158.8 287.5h.01M1169.7 282.2h.01M1172.3 280.5h.01M1164.8 284.9h.01M1169.8 281.5h.01M1163.9 287.1h.01M1167.8 282.8h.01M1162.7 285.5h.01M1166.1 284.2h.01M1161.7 286.6h.01M1166.2 285.2h.01M1171.5 273h.01M1201.8 284.7h.01M1181.7 281.7h.01M1196.4 275.6h.01M1180.9 270.5h.01M1193.4 283.9h.01M1174.2 279.5h.01M1164.1 277.6h.01M1159.9 266h.01M1187.6 282.5h.01M1187.3 285.9h.01M1182.3 279.8h.01M1194.5 280.6h.01M1198 264.8h.01M1179.8 281.4h.01M1177.2 280.6h.01M1211.2 272.2h.01M1185.3 277.1h.01M1035.2 256.5h.01M1039.1 256.7h.01M1042.4 262.8h.01M1041.3 261.4h.01M1047.5 262.7h.01M1036.7 263h.01M1045.4 264h.01M1033.6 256.7h.01M1042 259.6h.01M1045.8 260h.01M1043.4 263.3h.01M1039.9 258.8h.01M1041.2 259.1h.01M1040.2 262.2h.01M1037.9 263.2h.01M1041.7 261.6h.01M1032 258.1h.01M1046.5 261.7h.01M1049.7 264.8h.01M1044.9 265h.01M1050.1 260.5h.01M1041.9 263.2h.01M1045.3 259.5h.01M1054 264.7h.01M1043.4 257.2h.01M1048.9 264.1h.01M1042.6 263.4h.01M1047.5 263.4h.01M1044.2 260.1h.01M1052.4 261.7h.01M1037.9 258.1h.01M1044.9 265.3h.01M1042.2 259.3h.01M1039.2 256.9h.01M1048.9 257.9h.01M1041.2 261.5h.01M1063.8 260.5h.01M1061.2 252.7h.01M1059.5 249h.01M1064.2 270.2h.01M1061.8 255.6h.01M1062 257.7h.01M1063.2 270.9h.01M1066 275.5h.01M1064.5 271.7h.01M1060.7 251.4h.01M1062.1 269.2h.01M1065 263.9h.01M1060.6 251.3h.01M1063.4 274.8h.01M1064.4 271.5h.01M1066.4 277h.01M1064.2 264.6h.01M1063.4 262.1h.01M1062.1 257.6h.01M1065.3 261.2h.01M1064.7 261.3h.01M1061.4 252.9h.01M1062.4 257.5h.01M1063.6 256.4h.01M1063 268.8h.01M1065.9 276.4h.01M1063.5 262h.01M1062.3 255h.01M1063.2 267.6h.01M1063.2 269.2h.01M1063.5 272.5h.01M1060.6 254.3h.01M1058.9 246.6h.01M1063.4 272.9h.01M1064.5 263.1h.01M1063.3 258.1h.01M1064.2 260.4h.01M1062.9 264.4h.01M1064.2 259.2h.01M1063.2 266h.01M1063.9 263.6h.01M1064 270.3h.01M1061.4 269.1h.01M1059 249.7h.01M1074.3 269.4h.01M1078.3 271.4h.01M1077.3 262.4h.01M1099.2 269.4h.01M1101.2 274.4h.01M1127.1 268.4h.01M1135.1 269h.01M1129.1 270.4h.01M1059.3 272.4h.01M1046.4 268.4h.01M1087.2 242.5h.01M1009.5 134.3h.01M1162 263.4h.01M1177.9 264.4h.01M1191.9 260.5h.01M1206.8 277.4h.01M1187.9 291.3h.01M1159 280.4h.01M1190.9 265.4h.01" stroke="#fff" stroke-opacity=".88" stroke-width="4.6"/>
<path d="M1184.8 272.4h.01M1189.8 276.3h.01M1174.8 275.7h.01M1186.4 274.4h.01M1193.2 276.1h.01M1187.1 270h.01M1192.1 282.2h.01M1188.6 279.7h.01M1187.9 272.5h.01M1186.8 278h.01M1181.7 271.4h.01M1186.8 280.5h.01M1179.7 277h.01M1188.5 276.7h.01M1193.4 282h.01M1176.6 279.6h.01M1184.4 271.1h.01M1183.2 275.4h.01M1195.9 272.8h.01M1188 277.4h.01M1189.4 275h.01M1189 273.3h.01M1176 275.1h.01M1188.4 275.2h.01M1186 275.4h.01M1186.9 269.6h.01M1176.5 278.8h.01M1183.9 274.9h.01M1174.5 281.5h.01M1183.2 273.5h.01M1186.1 279.3h.01M1184 279.4h.01M1179.6 279.6h.01M1182.4 279.7h.01M1192.2 275.7h.01M1186.1 276.6h.01M1184 274.7h.01M1179.7 278.7h.01M1186.5 276.7h.01M1184.6 275.9h.01M1178.7 276.7h.01M1188.5 273.8h.01M1193.4 275h.01M1182.3 276.3h.01M1184.7 274.3h.01M1188.8 276h.01M1177.1 273.4h.01M1182.3 272.3h.01M1184.9 275.6h.01M1189.2 269.3h.01M1181.4 273.4h.01M1190.7 272.2h.01M1194.6 281.7h.01M1183.9 279.8h.01M1181.9 275.7h.01M1176.4 278.9h.01M1189.2 280.9h.01M1182.1 276h.01M1171.8 280.9h.01M1179.2 273.7h.01M1185.1 276.8h.01M1190.5 272h.01M1197.9 280.4h.01M1186.1 281.2h.01M1187.2 277.1h.01M1187.7 276.9h.01M1176.8 272.8h.01M1185.9 276.3h.01M1184.8 280.5h.01M1180.2 275.3h.01M1181.2 275.5h.01M1188 277.3h.01M1192.5 270.3h.01M1190.3 277h.01M1187.6 273.7h.01M1186.1 282.9h.01M1183.2 276h.01M1182.4 278.1h.01M1180.2 280.7h.01M1180.9 279h.01M1184 275.9h.01M1179.8 276.5h.01M1178.2 278.5h.01M1185.2 273.9h.01M1171.5 278.3h.01M1190.9 277.7h.01M1186.9 274.3h.01M1184.6 275.6h.01M1191.1 275.3h.01M1183.9 277.2h.01M1172.8 275.3h.01M1182.6 277.3h.01M1181.4 272.1h.01M1181.7 277.9h.01M1186.7 276.3h.01M1183.4 277.7h.01M1181.7 281.8h.01M1190 272.9h.01M1178.9 275.1h.01M1192.1 273.3h.01M1178.3 273.9h.01M1180.9 278.2h.01M1189.7 282.5h.01M1188.3 277.7h.01M1188.4 278.6h.01M1187.1 270.4h.01M1179.3 275.8h.01M1183.7 272.2h.01M1176.9 278.9h.01M1175.8 280.9h.01M1197.4 275.7h.01M1189.3 278.9h.01M1189.6 281.1h.01M1195 277.5h.01M1195.3 276.5h.01M1184.7 275.9h.01M1190.2 273.9h.01M1179.5 272.6h.01M1187.8 276.4h.01M1188.3 273.9h.01M1181.3 278.5h.01M1192.1 273.2h.01M1183.8 282.1h.01M1183.9 281.6h.01M1191.6 277.4h.01M1171.6 279.2h.01M1186.8 271.5h.01M1184.3 273.9h.01M1185.9 279.4h.01M1184 283.2h.01M1211.4 262.4h.01M1237.9 250.8h.01M1208.4 263h.01M1209.9 262.1h.01M1216.6 258h.01M1226.2 256.6h.01M1222.6 257.9h.01M1207.6 263.1h.01M1213.7 259.5h.01M1228.8 254.5h.01M1216.5 258.7h.01M1206.5 263.1h.01M1243.7 244.9h.01M1200.5 267.1h.01M1222.3 254.2h.01M1223 257.7h.01M1207.5 262.8h.01M1208.9 262.6h.01M1234.1 251.4h.01M1221.6 257.2h.01M1216.7 258.8h.01M1212.8 259.6h.01M1216.3 260.2h.01M1235.7 254.5h.01M1235.8 249.9h.01M1223.4 255.9h.01M1201.6 267h.01M1241.5 246.2h.01M1228 253h.01M1235.5 252.4h.01M1212.1 262.1h.01M1203.3 264.1h.01M1234.5 251.7h.01M1224.3 256.8h.01M1223.9 256h.01M1198.6 268.3h.01M1218.7 258.7h.01M1200.2 263.7h.01M1209.8 258.6h.01M1199.9 266h.01M1232.1 249.8h.01M1204.2 263.5h.01M1225.4 256.2h.01M1199.9 266.8h.01M1205.9 263.7h.01M1197.8 266.2h.01M1214.1 259.6h.01M1243 243.7h.01M1215.8 258.5h.01M1226.3 257h.01M1200.5 268.8h.01M1227.6 256.4h.01M1233.3 251.3h.01M1206.8 262.9h.01M1206.9 264.2h.01M1239.2 247.8h.01M1205 263.3h.01M1223.1 258.6h.01M1208 263.8h.01M1236.2 249h.01M1228 255.7h.01M1212.4 259.8h.01M1228.2 253.3h.01M1235.4 253.2h.01M1243.8 243.2h.01M1238.4 249.4h.01M1237.5 248h.01M1240.9 248.9h.01M1239.6 243.7h.01M1236.4 254.1h.01M1238.3 245.9h.01M1237.7 247.1h.01M1239.8 252.8h.01M1238.8 246.9h.01M1240.9 251.8h.01M1243.6 254.1h.01M1241.9 250h.01M1237.7 247.3h.01M1241.9 250.8h.01M1166.1 282h.01M1174.2 281.7h.01M1168 281.1h.01M1158.8 287.5h.01M1169.7 282.2h.01M1172.3 280.5h.01M1164.8 284.9h.01M1169.8 281.5h.01M1163.9 287.1h.01M1167.8 282.8h.01M1162.7 285.5h.01M1166.1 284.2h.01M1161.7 286.6h.01M1166.2 285.2h.01M1171.5 273h.01M1201.8 284.7h.01M1181.7 281.7h.01M1196.4 275.6h.01M1180.9 270.5h.01M1193.4 283.9h.01M1174.2 279.5h.01M1164.1 277.6h.01M1159.9 266h.01M1187.6 282.5h.01M1187.3 285.9h.01M1182.3 279.8h.01M1194.5 280.6h.01M1198 264.8h.01M1179.8 281.4h.01M1177.2 280.6h.01M1211.2 272.2h.01M1185.3 277.1h.01M1035.2 256.5h.01M1039.1 256.7h.01M1042.4 262.8h.01M1041.3 261.4h.01M1047.5 262.7h.01M1036.7 263h.01M1045.4 264h.01M1033.6 256.7h.01M1042 259.6h.01M1045.8 260h.01M1043.4 263.3h.01M1039.9 258.8h.01M1041.2 259.1h.01M1040.2 262.2h.01M1037.9 263.2h.01M1041.7 261.6h.01M1032 258.1h.01M1046.5 261.7h.01M1049.7 264.8h.01M1044.9 265h.01M1050.1 260.5h.01M1041.9 263.2h.01M1045.3 259.5h.01M1054 264.7h.01M1043.4 257.2h.01M1048.9 264.1h.01M1042.6 263.4h.01M1047.5 263.4h.01M1044.2 260.1h.01M1052.4 261.7h.01M1037.9 258.1h.01M1044.9 265.3h.01M1042.2 259.3h.01M1039.2 256.9h.01M1048.9 257.9h.01M1041.2 261.5h.01M1063.8 260.5h.01M1061.2 252.7h.01M1059.5 249h.01M1064.2 270.2h.01M1061.8 255.6h.01M1062 257.7h.01M1063.2 270.9h.01M1066 275.5h.01M1064.5 271.7h.01M1060.7 251.4h.01M1062.1 269.2h.01M1065 263.9h.01M1060.6 251.3h.01M1063.4 274.8h.01M1064.4 271.5h.01M1066.4 277h.01M1064.2 264.6h.01M1063.4 262.1h.01M1062.1 257.6h.01M1065.3 261.2h.01M1064.7 261.3h.01M1061.4 252.9h.01M1062.4 257.5h.01M1063.6 256.4h.01M1063 268.8h.01M1065.9 276.4h.01M1063.5 262h.01M1062.3 255h.01M1063.2 267.6h.01M1063.2 269.2h.01M1063.5 272.5h.01M1060.6 254.3h.01M1058.9 246.6h.01M1063.4 272.9h.01M1064.5 263.1h.01M1063.3 258.1h.01M1064.2 260.4h.01M1062.9 264.4h.01M1064.2 259.2h.01M1063.2 266h.01M1063.9 263.6h.01M1064 270.3h.01M1061.4 269.1h.01M1059 249.7h.01M1074.3 269.4h.01M1078.3 271.4h.01M1077.3 262.4h.01M1099.2 269.4h.01M1101.2 274.4h.01M1127.1 268.4h.01M1135.1 269h.01M1129.1 270.4h.01M1059.3 272.4h.01M1046.4 268.4h.01M1087.2 242.5h.01M1009.5 134.3h.01M1162 263.4h.01M1177.9 264.4h.01M1191.9 260.5h.01M1206.8 277.4h.01M1187.9 291.3h.01M1159 280.4h.01M1190.9 265.4h.01" stroke="#f57c0e" stroke-width="2.3"/>
<path d="M1575.6 235.5h.01M1573.8 239.8h.01M1573.5 230.1h.01M1569.8 244.7h.01M1570.2 245h.01M1563.5 263.6h.01M1560.2 265.6h.01M1575.1 234h.01M1574.3 228.1h.01M1567.4 250.8h.01M1566.8 246.4h.01M1566.8 248h.01M1560.5 262.3h.01M1559.5 270.5h.01M1557 278.2h.01M1570.6 245.5h.01M1562.2 272.5h.01M1565.8 263.5h.01M1564.9 257.9h.01M1561.9 264.2h.01M1560.8 273.5h.01M1574.6 235.4h.01M1572.2 236h.01M1568.9 252.4h.01M1561.7 258h.01M1568.8 245.2h.01M1574.7 234.1h.01M1574.7 237.3h.01M1566.1 254.5h.01M1568.3 235.5h.01M1565 254.6h.01M1572.1 239.4h.01M1568.2 249.9h.01M1571.6 246.9h.01M1570.7 232.2h.01M1576.1 238.3h.01M1578.7 233.2h.01M1570.1 248.5h.01M1564.1 256h.01M1572.5 247.6h.01M1562.9 268.5h.01M1574.3 242.4h.01M1566 254.5h.01M1560.4 261h.01M1560.6 272.9h.01M1573.8 246.8h.01M1568.6 251.1h.01M1560.9 275.3h.01M1561.4 264.8h.01M1562.6 262.3h.01M1570.3 241h.01M1571.2 238.9h.01M1575.9 230h.01M1571.7 244.2h.01M1572.1 244.2h.01M1573.9 233.8h.01M1563.1 258.2h.01M1576.8 239.6h.01M1575.6 233.7h.01M1576.7 236.8h.01M1574.3 232.9h.01M1567 259.3h.01M1572.9 237.2h.01M1575.8 238.9h.01M1559.9 278.2h.01M1555.1 270.4h.01M1570.2 246.9h.01M1563.2 268h.01M1568.5 248.9h.01M1572.1 232.8h.01M1571.8 234.6h.01M1565 266.7h.01M1574.5 236.4h.01M1567.2 252h.01M1557.1 273.4h.01M1574.6 232.8h.01M1568.3 247.5h.01M1560.3 267.5h.01M1563.7 263.9h.01M1577.7 233.5h.01M1568.5 253.7h.01M1568.8 246.2h.01M1574.9 228.9h.01M1574.7 242.9h.01M1564.9 262h.01M1574.1 233.7h.01M1574.8 243.1h.01M1570.6 243.8h.01M1564.5 255.6h.01M1560.4 264.9h.01M1570.1 249.7h.01M1567.5 248.2h.01M1567.1 264.3h.01M1569.6 243.9h.01M1560.9 272.6h.01M1562.8 273.8h.01M1574.7 232.6h.01M1573.7 231.5h.01M1566.2 253h.01M1571.6 244.6h.01M1571.4 243h.01M1556.9 271.9h.01M1570 247h.01M1571.1 248.1h.01M1561.9 268.7h.01M1561.9 264.6h.01M1559.5 273.7h.01M1574.6 240.8h.01M1561.3 273.6h.01M1568.3 246.9h.01M1571.6 250.2h.01M1569.9 229.4h.01M1568.7 252.4h.01M1563.6 261.5h.01M1571 251.5h.01M1559.1 267.3h.01M1562.6 250.9h.01M1569.7 230.8h.01M1575.4 245.6h.01M1575.6 232.6h.01M1564.6 265.7h.01M1568.4 244.2h.01M1569.7 247.9h.01M1559.8 261.4h.01M1573.8 229.8h.01M1563.3 265.1h.01M1567.6 237.9h.01M1573.3 232.9h.01M1560.3 270.7h.01M1561.8 270.7h.01M1562.1 259.8h.01M1571 245.9h.01M1572 240.5h.01M1559.2 267.9h.01M1562 271.1h.01M1570.5 228.6h.01M1575.9 234.2h.01M1562 265.3h.01M1563.2 275.9h.01M1560 276.1h.01M1576.8 238h.01M1571.1 241h.01M1560.4 268.8h.01M1559 263.6h.01M1561.7 271h.01M1565 260.3h.01M1565.3 258.4h.01M1561.7 265.3h.01M1568.4 240h.01M1574.1 227.2h.01M1560.6 278.3h.01M1573.7 236.3h.01M1560.5 267.8h.01M1568.3 257.6h.01M1577.9 238h.01M1564.6 267h.01M1569.3 230.1h.01M1571.3 231.7h.01M1560.7 266.1h.01M1559.8 274.3h.01M1563.1 265.1h.01M1568.7 251.6h.01M1572.9 244.6h.01M1566.2 251.1h.01M1562.3 262.1h.01M1575.3 234.9h.01M1570.7 241.5h.01M1562.7 259.5h.01M1563.2 256.3h.01M1570.8 235.5h.01M1587.6 233.1h.01M1614 225.3h.01M1632.1 234.8h.01M1581.2 235.5h.01M1582.5 238.8h.01M1597.6 228.5h.01M1593.6 228.3h.01M1610.1 225.1h.01M1626.4 229.2h.01M1601.7 227.1h.01M1623.9 228.6h.01M1598.4 232.6h.01M1594.8 231h.01M1626.4 226h.01M1604.8 225.1h.01M1583.1 237h.01M1593.4 227h.01M1605.4 226.1h.01M1608.7 225.1h.01M1627 227.3h.01M1579.5 235h.01M1600.1 227.3h.01M1609.3 228.7h.01M1590.3 226.7h.01M1602.4 228.5h.01M1578.2 235.6h.01M1576.7 234.4h.01M1625.7 228.6h.01M1605.1 225.3h.01M1600.8 230.9h.01M1613.4 222.4h.01M1603.9 225.9h.01M1597.5 232.2h.01M1616.8 225.2h.01M1624.1 227h.01M1594.9 230.5h.01M1602.9 222.9h.01M1614.6 227.4h.01M1583.3 237.4h.01M1580.3 234h.01M1624.3 231.4h.01M1627.4 230.7h.01M1612.8 226.4h.01M1605 224.8h.01M1622.4 226.3h.01M1615.9 226.2h.01M1590.7 230.1h.01M1575.9 237.5h.01M1613.6 224.8h.01M1592.7 232h.01M1612.1 225.1h.01M1621.2 228.2h.01M1583.8 233.2h.01M1596 229.4h.01M1606.7 224.9h.01M1605.1 228.1h.01M1605.7 225.6h.01M1622.3 229.3h.01M1603.6 227h.01M1614.1 228.6h.01M1579.1 238.6h.01M1597.2 231.4h.01M1624.7 232.2h.01M1629.9 229.9h.01M1612.3 222.5h.01M1595.9 229.5h.01M1577.9 233h.01M1596 225h.01M1624.7 228.6h.01M1613.5 225.2h.01M1591.2 232.3h.01M1616.4 224.3h.01M1621.8 222.7h.01M1621.1 228.4h.01M1608.8 220.4h.01M1588.1 232.9h.01M1594.3 227.6h.01M1589.8 232.4h.01M1601.8 227.3h.01M1608 223.7h.01M1618.7 222.8h.01M1611.6 228.8h.01M1600.5 225.3h.01M1620.1 227.3h.01M1589 229.4h.01M1608.6 221.8h.01M1587.4 234.5h.01M1578.5 234.5h.01M1623.7 229.2h.01M1581.1 233.6h.01M1612.9 230.4h.01M1607 229.6h.01M1622.2 228.5h.01M1611.2 229.2h.01M1610.3 228.8h.01M1620.7 229.8h.01M1615.9 228.7h.01M1599.7 221.6h.01M1619.3 225.3h.01M1618.8 224.5h.01M1610.3 231h.01M1611.7 221.6h.01M1620.2 229.9h.01M1605.1 221.9h.01M1597.6 228.8h.01M1614.3 229.6h.01M1613.8 227.3h.01M1630.3 227.7h.01M1621.1 228.1h.01M1630.3 222.8h.01M1616.6 228.3h.01M1613.9 225.2h.01M1601.5 230h.01M1616.4 227.6h.01M1611.2 227.8h.01M1606.6 234.5h.01M1617.7 227.5h.01M1612.5 229.3h.01M1627.1 227.8h.01M1617.5 225.2h.01M1580.6 262h.01M1574.1 259.5h.01M1585.1 259.1h.01M1576.4 260.6h.01M1574.3 260.8h.01M1582.7 262.3h.01M1575.1 259.5h.01M1579.9 260.2h.01M1577.3 260.7h.01M1580.6 260.6h.01M1577.5 260h.01M1588 259.7h.01M1579.8 260.9h.01M1590.6 258.6h.01M1574 258.5h.01M1582.6 260.9h.01M1588.3 259h.01M1581.1 261.8h.01M1585 260.1h.01M1581.6 261h.01M1575.3 258.6h.01M1587.8 261.1h.01M1578.3 264h.01M1577.6 261.3h.01M1579.9 269.6h.01M1578.4 262.3h.01M1578.8 270.1h.01M1577.8 266.9h.01M1578.2 262.1h.01M1577.3 260.9h.01M1531.7 187.6h.01M1543.1 218h.01M1538.6 195.9h.01M1540.2 196.5h.01M1540.2 196.9h.01M1549.9 222.7h.01M1536.9 191.6h.01M1543.8 211.8h.01M1542.4 216.6h.01M1556.9 221.1h.01M1532.8 187.7h.01M1541 209.6h.01M1542.1 203.4h.01M1538.6 193.7h.01M1531.1 187.4h.01M1543.3 217h.01M1546.7 220.9h.01M1539.9 204.7h.01M1543.4 210.4h.01M1540.7 206.5h.01M1529.5 187.7h.01M1552.4 224.3h.01M1542.5 206.2h.01M1538.5 193.7h.01M1544.2 218.2h.01M1542.8 211.6h.01M1538.6 196.6h.01M1534.9 187.6h.01M1546.1 219h.01M1535.4 192.1h.01M1548.7 221.1h.01M1538.1 195.9h.01M1550.6 220h.01M1549.4 222.4h.01M1543.1 218.8h.01M1545.8 221.4h.01M1543.5 220.3h.01M1548.2 221.9h.01M1551.2 217.6h.01M1545.3 222.6h.01M1545 224.1h.01M1547.7 220.8h.01M1544.6 223.9h.01M1547.4 219.3h.01M1547.8 222.1h.01M1549.4 223.2h.01M1548.2 220.6h.01M1544.1 220.7h.01M1555 243.4h.01M1553.4 236.5h.01M1555 239.5h.01M1560 249.7h.01M1556.4 230.1h.01M1554.6 242.8h.01M1554.4 237.6h.01M1563.2 240.7h.01M1560.2 236.4h.01M1555.2 240.5h.01M1555 244.2h.01M1561.1 245h.01M1558.3 237.4h.01M1555.7 229.3h.01M1554.3 231.7h.01M1554.5 248.2h.01M1552.4 243.7h.01M1560.1 243.9h.01M1563.6 234.8h.01M1557.1 237.9h.01M1525.8 293.5h.01M1529.8 291.5h.01M1547.7 291.6h.01M1526.5 293.2h.01M1539 294.4h.01M1538.7 290.6h.01M1538.1 293.8h.01M1522.1 289.3h.01M1523.4 290.7h.01M1556.8 288.8h.01M1557 282.9h.01M1532 291.9h.01M1558.3 283.7h.01M1533.5 291.7h.01M1527.7 292.3h.01M1531.2 292.3h.01M1524.5 292.2h.01M1536.1 290.6h.01M1542.6 292.4h.01M1557.7 285.3h.01M1524.4 293.1h.01M1523.9 293.6h.01M1556.9 284.7h.01M1556.1 281.6h.01M1525.9 292.8h.01M1530.9 293.6h.01M1524.4 290.1h.01M1534.8 294.2h.01M1522.7 289.9h.01M1528.1 290.5h.01M1530.9 292.3h.01M1557.9 283h.01M1557 288.7h.01M1554.9 283.5h.01M1556.4 285.6h.01M1543.3 291.3h.01M1535.8 293.4h.01M1547.2 291.9h.01M1541.6 296h.01M1549.8 287.7h.01M1531.7 286.5h.01M1557.3 300.5h.01M1534.5 292.6h.01M1541.6 303h.01M1543.8 303h.01M1534.2 293.4h.01M1533.3 288.4h.01M1524.2 301.9h.01M1555.9 287.9h.01M1547.8 291.8h.01M1566.1 207.2h.01M1560.1 211.6h.01M1515.3 273.4h.01M1545.2 273.4h.01M1570.1 278.4h.01" stroke="#fff" stroke-opacity=".88" stroke-width="4.6"/>
<path d="M1575.6 235.5h.01M1573.8 239.8h.01M1573.5 230.1h.01M1569.8 244.7h.01M1570.2 245h.01M1563.5 263.6h.01M1560.2 265.6h.01M1575.1 234h.01M1574.3 228.1h.01M1567.4 250.8h.01M1566.8 246.4h.01M1566.8 248h.01M1560.5 262.3h.01M1559.5 270.5h.01M1557 278.2h.01M1570.6 245.5h.01M1562.2 272.5h.01M1565.8 263.5h.01M1564.9 257.9h.01M1561.9 264.2h.01M1560.8 273.5h.01M1574.6 235.4h.01M1572.2 236h.01M1568.9 252.4h.01M1561.7 258h.01M1568.8 245.2h.01M1574.7 234.1h.01M1574.7 237.3h.01M1566.1 254.5h.01M1568.3 235.5h.01M1565 254.6h.01M1572.1 239.4h.01M1568.2 249.9h.01M1571.6 246.9h.01M1570.7 232.2h.01M1576.1 238.3h.01M1578.7 233.2h.01M1570.1 248.5h.01M1564.1 256h.01M1572.5 247.6h.01M1562.9 268.5h.01M1574.3 242.4h.01M1566 254.5h.01M1560.4 261h.01M1560.6 272.9h.01M1573.8 246.8h.01M1568.6 251.1h.01M1560.9 275.3h.01M1561.4 264.8h.01M1562.6 262.3h.01M1570.3 241h.01M1571.2 238.9h.01M1575.9 230h.01M1571.7 244.2h.01M1572.1 244.2h.01M1573.9 233.8h.01M1563.1 258.2h.01M1576.8 239.6h.01M1575.6 233.7h.01M1576.7 236.8h.01M1574.3 232.9h.01M1567 259.3h.01M1572.9 237.2h.01M1575.8 238.9h.01M1559.9 278.2h.01M1555.1 270.4h.01M1570.2 246.9h.01M1563.2 268h.01M1568.5 248.9h.01M1572.1 232.8h.01M1571.8 234.6h.01M1565 266.7h.01M1574.5 236.4h.01M1567.2 252h.01M1557.1 273.4h.01M1574.6 232.8h.01M1568.3 247.5h.01M1560.3 267.5h.01M1563.7 263.9h.01M1577.7 233.5h.01M1568.5 253.7h.01M1568.8 246.2h.01M1574.9 228.9h.01M1574.7 242.9h.01M1564.9 262h.01M1574.1 233.7h.01M1574.8 243.1h.01M1570.6 243.8h.01M1564.5 255.6h.01M1560.4 264.9h.01M1570.1 249.7h.01M1567.5 248.2h.01M1567.1 264.3h.01M1569.6 243.9h.01M1560.9 272.6h.01M1562.8 273.8h.01M1574.7 232.6h.01M1573.7 231.5h.01M1566.2 253h.01M1571.6 244.6h.01M1571.4 243h.01M1556.9 271.9h.01M1570 247h.01M1571.1 248.1h.01M1561.9 268.7h.01M1561.9 264.6h.01M1559.5 273.7h.01M1574.6 240.8h.01M1561.3 273.6h.01M1568.3 246.9h.01M1571.6 250.2h.01M1569.9 229.4h.01M1568.7 252.4h.01M1563.6 261.5h.01M1571 251.5h.01M1559.1 267.3h.01M1562.6 250.9h.01M1569.7 230.8h.01M1575.4 245.6h.01M1575.6 232.6h.01M1564.6 265.7h.01M1568.4 244.2h.01M1569.7 247.9h.01M1559.8 261.4h.01M1573.8 229.8h.01M1563.3 265.1h.01M1567.6 237.9h.01M1573.3 232.9h.01M1560.3 270.7h.01M1561.8 270.7h.01M1562.1 259.8h.01M1571 245.9h.01M1572 240.5h.01M1559.2 267.9h.01M1562 271.1h.01M1570.5 228.6h.01M1575.9 234.2h.01M1562 265.3h.01M1563.2 275.9h.01M1560 276.1h.01M1576.8 238h.01M1571.1 241h.01M1560.4 268.8h.01M1559 263.6h.01M1561.7 271h.01M1565 260.3h.01M1565.3 258.4h.01M1561.7 265.3h.01M1568.4 240h.01M1574.1 227.2h.01M1560.6 278.3h.01M1573.7 236.3h.01M1560.5 267.8h.01M1568.3 257.6h.01M1577.9 238h.01M1564.6 267h.01M1569.3 230.1h.01M1571.3 231.7h.01M1560.7 266.1h.01M1559.8 274.3h.01M1563.1 265.1h.01M1568.7 251.6h.01M1572.9 244.6h.01M1566.2 251.1h.01M1562.3 262.1h.01M1575.3 234.9h.01M1570.7 241.5h.01M1562.7 259.5h.01M1563.2 256.3h.01M1570.8 235.5h.01M1587.6 233.1h.01M1614 225.3h.01M1632.1 234.8h.01M1581.2 235.5h.01M1582.5 238.8h.01M1597.6 228.5h.01M1593.6 228.3h.01M1610.1 225.1h.01M1626.4 229.2h.01M1601.7 227.1h.01M1623.9 228.6h.01M1598.4 232.6h.01M1594.8 231h.01M1626.4 226h.01M1604.8 225.1h.01M1583.1 237h.01M1593.4 227h.01M1605.4 226.1h.01M1608.7 225.1h.01M1627 227.3h.01M1579.5 235h.01M1600.1 227.3h.01M1609.3 228.7h.01M1590.3 226.7h.01M1602.4 228.5h.01M1578.2 235.6h.01M1576.7 234.4h.01M1625.7 228.6h.01M1605.1 225.3h.01M1600.8 230.9h.01M1613.4 222.4h.01M1603.9 225.9h.01M1597.5 232.2h.01M1616.8 225.2h.01M1624.1 227h.01M1594.9 230.5h.01M1602.9 222.9h.01M1614.6 227.4h.01M1583.3 237.4h.01M1580.3 234h.01M1624.3 231.4h.01M1627.4 230.7h.01M1612.8 226.4h.01M1605 224.8h.01M1622.4 226.3h.01M1615.9 226.2h.01M1590.7 230.1h.01M1575.9 237.5h.01M1613.6 224.8h.01M1592.7 232h.01M1612.1 225.1h.01M1621.2 228.2h.01M1583.8 233.2h.01M1596 229.4h.01M1606.7 224.9h.01M1605.1 228.1h.01M1605.7 225.6h.01M1622.3 229.3h.01M1603.6 227h.01M1614.1 228.6h.01M1579.1 238.6h.01M1597.2 231.4h.01M1624.7 232.2h.01M1629.9 229.9h.01M1612.3 222.5h.01M1595.9 229.5h.01M1577.9 233h.01M1596 225h.01M1624.7 228.6h.01M1613.5 225.2h.01M1591.2 232.3h.01M1616.4 224.3h.01M1621.8 222.7h.01M1621.1 228.4h.01M1608.8 220.4h.01M1588.1 232.9h.01M1594.3 227.6h.01M1589.8 232.4h.01M1601.8 227.3h.01M1608 223.7h.01M1618.7 222.8h.01M1611.6 228.8h.01M1600.5 225.3h.01M1620.1 227.3h.01M1589 229.4h.01M1608.6 221.8h.01M1587.4 234.5h.01M1578.5 234.5h.01M1623.7 229.2h.01M1581.1 233.6h.01M1612.9 230.4h.01M1607 229.6h.01M1622.2 228.5h.01M1611.2 229.2h.01M1610.3 228.8h.01M1620.7 229.8h.01M1615.9 228.7h.01M1599.7 221.6h.01M1619.3 225.3h.01M1618.8 224.5h.01M1610.3 231h.01M1611.7 221.6h.01M1620.2 229.9h.01M1605.1 221.9h.01M1597.6 228.8h.01M1614.3 229.6h.01M1613.8 227.3h.01M1630.3 227.7h.01M1621.1 228.1h.01M1630.3 222.8h.01M1616.6 228.3h.01M1613.9 225.2h.01M1601.5 230h.01M1616.4 227.6h.01M1611.2 227.8h.01M1606.6 234.5h.01M1617.7 227.5h.01M1612.5 229.3h.01M1627.1 227.8h.01M1617.5 225.2h.01M1580.6 262h.01M1574.1 259.5h.01M1585.1 259.1h.01M1576.4 260.6h.01M1574.3 260.8h.01M1582.7 262.3h.01M1575.1 259.5h.01M1579.9 260.2h.01M1577.3 260.7h.01M1580.6 260.6h.01M1577.5 260h.01M1588 259.7h.01M1579.8 260.9h.01M1590.6 258.6h.01M1574 258.5h.01M1582.6 260.9h.01M1588.3 259h.01M1581.1 261.8h.01M1585 260.1h.01M1581.6 261h.01M1575.3 258.6h.01M1587.8 261.1h.01M1578.3 264h.01M1577.6 261.3h.01M1579.9 269.6h.01M1578.4 262.3h.01M1578.8 270.1h.01M1577.8 266.9h.01M1578.2 262.1h.01M1577.3 260.9h.01M1531.7 187.6h.01M1543.1 218h.01M1538.6 195.9h.01M1540.2 196.5h.01M1540.2 196.9h.01M1549.9 222.7h.01M1536.9 191.6h.01M1543.8 211.8h.01M1542.4 216.6h.01M1556.9 221.1h.01M1532.8 187.7h.01M1541 209.6h.01M1542.1 203.4h.01M1538.6 193.7h.01M1531.1 187.4h.01M1543.3 217h.01M1546.7 220.9h.01M1539.9 204.7h.01M1543.4 210.4h.01M1540.7 206.5h.01M1529.5 187.7h.01M1552.4 224.3h.01M1542.5 206.2h.01M1538.5 193.7h.01M1544.2 218.2h.01M1542.8 211.6h.01M1538.6 196.6h.01M1534.9 187.6h.01M1546.1 219h.01M1535.4 192.1h.01M1548.7 221.1h.01M1538.1 195.9h.01M1550.6 220h.01M1549.4 222.4h.01M1543.1 218.8h.01M1545.8 221.4h.01M1543.5 220.3h.01M1548.2 221.9h.01M1551.2 217.6h.01M1545.3 222.6h.01M1545 224.1h.01M1547.7 220.8h.01M1544.6 223.9h.01M1547.4 219.3h.01M1547.8 222.1h.01M1549.4 223.2h.01M1548.2 220.6h.01M1544.1 220.7h.01M1555 243.4h.01M1553.4 236.5h.01M1555 239.5h.01M1560 249.7h.01M1556.4 230.1h.01M1554.6 242.8h.01M1554.4 237.6h.01M1563.2 240.7h.01M1560.2 236.4h.01M1555.2 240.5h.01M1555 244.2h.01M1561.1 245h.01M1558.3 237.4h.01M1555.7 229.3h.01M1554.3 231.7h.01M1554.5 248.2h.01M1552.4 243.7h.01M1560.1 243.9h.01M1563.6 234.8h.01M1557.1 237.9h.01M1525.8 293.5h.01M1529.8 291.5h.01M1547.7 291.6h.01M1526.5 293.2h.01M1539 294.4h.01M1538.7 290.6h.01M1538.1 293.8h.01M1522.1 289.3h.01M1523.4 290.7h.01M1556.8 288.8h.01M1557 282.9h.01M1532 291.9h.01M1558.3 283.7h.01M1533.5 291.7h.01M1527.7 292.3h.01M1531.2 292.3h.01M1524.5 292.2h.01M1536.1 290.6h.01M1542.6 292.4h.01M1557.7 285.3h.01M1524.4 293.1h.01M1523.9 293.6h.01M1556.9 284.7h.01M1556.1 281.6h.01M1525.9 292.8h.01M1530.9 293.6h.01M1524.4 290.1h.01M1534.8 294.2h.01M1522.7 289.9h.01M1528.1 290.5h.01M1530.9 292.3h.01M1557.9 283h.01M1557 288.7h.01M1554.9 283.5h.01M1556.4 285.6h.01M1543.3 291.3h.01M1535.8 293.4h.01M1547.2 291.9h.01M1541.6 296h.01M1549.8 287.7h.01M1531.7 286.5h.01M1557.3 300.5h.01M1534.5 292.6h.01M1541.6 303h.01M1543.8 303h.01M1534.2 293.4h.01M1533.3 288.4h.01M1524.2 301.9h.01M1555.9 287.9h.01M1547.8 291.8h.01M1566.1 207.2h.01M1560.1 211.6h.01M1515.3 273.4h.01M1545.2 273.4h.01M1570.1 278.4h.01" stroke="#8fd67f" stroke-width="2.3"/>
<path d="M1904.4 197.7h.01M1885.4 206.6h.01M2027.9 235.5h.01M2042.9 239.5h.01M2076.8 239.5h.01M2094.7 256.5h.01M2069.8 269h.01M2083.7 278h.01M2064.8 274.4h.01M1938.3 272.4h.01M1981.1 275.4h.01M2002 277.4h.01M1928.3 284.4h.01M1944.2 286.4h.01M1958.2 280.4h.01M1957.2 285.8h.01M1949.2 294.3h.01M1961.2 308.3h.01M1968.1 306.9h.01M1934.3 322.2h.01M1973.1 330.2h.01M1982.1 331.2h.01M1985.1 332.2h.01M1972.1 341.2h.01M1969.1 355.5h.01M1954.2 360.1h.01M1930.3 359.1h.01M1902.4 354.7h.01M2041.9 313.3h.01M2045.9 308.3h.01M2036.9 309.3h.01M1998 262.4h.01M2037.9 275.4h.01M2042.9 280.4h.01" stroke="#fff" stroke-opacity=".88" stroke-width="4.6"/>
<path d="M1904.4 197.7h.01M1885.4 206.6h.01M2027.9 235.5h.01M2042.9 239.5h.01M2076.8 239.5h.01M2094.7 256.5h.01M2069.8 269h.01M2083.7 278h.01M2064.8 274.4h.01M1938.3 272.4h.01M1981.1 275.4h.01M2002 277.4h.01M1928.3 284.4h.01M1944.2 286.4h.01M1958.2 280.4h.01M1957.2 285.8h.01M1949.2 294.3h.01M1961.2 308.3h.01M1968.1 306.9h.01M1934.3 322.2h.01M1973.1 330.2h.01M1982.1 331.2h.01M1985.1 332.2h.01M1972.1 341.2h.01M1969.1 355.5h.01M1954.2 360.1h.01M1930.3 359.1h.01M1902.4 354.7h.01M2041.9 313.3h.01M2045.9 308.3h.01M2036.9 309.3h.01M1998 262.4h.01M2037.9 275.4h.01M2042.9 280.4h.01" stroke="#6b5a96" stroke-width="2.3"/>
<path d="M2017.5 328.6h.01M2010 315.4h.01M2014.4 329.6h.01M2010.9 328.1h.01M2023.5 335.9h.01M2005.8 323.9h.01M2003.1 311.6h.01M2007.6 320.5h.01M2018.7 337.1h.01M2023 336h.01M2014.5 337.4h.01M2023.7 340h.01M2015.4 326.3h.01M2010.7 332.8h.01M2013.5 326.9h.01M2007.2 318h.01M2016.6 327.9h.01M2017.3 329.2h.01M2022.2 345.5h.01M2017.2 335.9h.01M2009.5 320.1h.01M2011.5 322.9h.01M2020.5 328.2h.01M2021.1 341.7h.01M2021.2 324.3h.01M2027.2 335.5h.01M2018.3 327h.01M2009.4 310.3h.01M2024.7 333.3h.01M2016 329h.01M2027.6 343.3h.01M2007.5 322.8h.01M2013.2 334.9h.01M2018.5 328.7h.01M2023.3 337h.01M2011 324.7h.01M2011.3 323.2h.01M2019.9 329.8h.01M2022.5 338.8h.01M2011.5 332.1h.01M2018.3 326.8h.01M2014.1 329.6h.01M2020 340.2h.01M2010.5 333.5h.01M2013.6 327.2h.01M2030.9 341.4h.01M2004.1 320.5h.01M2028.5 349.8h.01M2014.6 327.7h.01M2027.6 340.3h.01M2018 335.3h.01M2023.7 343.8h.01M2012 332.8h.01M2010.2 328h.01M2026.3 330.7h.01M2014 328.1h.01M2007 318.7h.01M2022.2 334.7h.01M2017 334.6h.01M2013.4 327h.01M2024.7 338.2h.01M2015.4 326.5h.01M2018.7 328h.01M2015.7 333.3h.01M2013.7 330.5h.01M2010.3 326.2h.01M2033.5 339h.01M2009.8 321.5h.01M2024.6 335.9h.01M2019.9 331.7h.01M2020 335.6h.01M2023.4 344.1h.01M2020.9 337.9h.01M2018.4 322.5h.01M2027.7 336.5h.01M2012.9 320h.01M2023.8 335.9h.01M2024.9 345.4h.01M2020.9 334h.01M2031.4 347.3h.01M2010.2 322.1h.01M2014.4 329.1h.01M2022.4 335.8h.01M2018.6 334.6h.01M1999.7 319.2h.01M2012.3 328.8h.01M2006.9 318.3h.01M2016.4 330.6h.01M2025.9 343.5h.01M2015.2 323.7h.01M2014.7 328h.01M2008.7 325.5h.01M2010.1 324.1h.01M2019.9 322.8h.01M2021.6 338.7h.01M2018.7 335.6h.01M2022.5 328.7h.01M2018.7 330.3h.01M2001.7 313.4h.01M2005.4 318h.01M2001.1 313.6h.01M2012.6 325h.01M2013.6 327.3h.01M2004.5 322.7h.01M2018.6 338.1h.01M2012.6 329.1h.01M2013.9 325.2h.01M2016 323.3h.01M2021.2 332.2h.01M2020.7 332.4h.01M2015.1 331.2h.01M2021.7 332.1h.01M2009.6 322.8h.01M2011.8 321.4h.01M2016 324.5h.01M2017.5 334.8h.01M2017.6 328.2h.01M2004.4 314.3h.01M2028.3 338.8h.01M2026.8 347.8h.01M2003.8 311h.01M2021.4 339.4h.01M2023.4 335.3h.01M2012.6 322.4h.01M2016 330.2h.01M2016.7 330.8h.01M2008.3 321.3h.01M2023.2 341.2h.01M2014.8 334.9h.01M2009.5 314.5h.01M2023.4 341.1h.01M2015.1 335.8h.01M2021.5 335.2h.01M2020.4 339.3h.01M2022.4 340.8h.01M2029.5 344.2h.01M2029.3 342.3h.01M2021 338.3h.01M2020.1 341.5h.01M2023 343.6h.01M2019.7 341h.01M2025.7 345.3h.01M2018.6 341h.01M2021.7 341.7h.01M2024.4 341.2h.01M2020.2 340.1h.01M2029.3 341.4h.01M2025.9 336h.01M2019.1 336.4h.01M2012.2 338.4h.01M2015.7 341.1h.01M2022.7 337.7h.01M2026.8 337.7h.01M2017.5 338.2h.01M2021 340.3h.01M2026.9 347.1h.01M2014.9 340.3h.01M2020.1 338.9h.01M2023 336.5h.01M2021.4 341.2h.01M2016.4 343.3h.01M2022 341h.01M2019.1 341.7h.01M2015.4 339.5h.01M2016.3 340.7h.01M2021.1 344.1h.01M2021.9 341.1h.01M2013.7 336.7h.01M2015.8 340.2h.01M2013.5 342.4h.01M2022.5 341.1h.01M2032.5 341.2h.01M2021.9 339.3h.01M2017.6 345.5h.01M2024.3 340.8h.01M2024.7 343h.01M2021.9 339.7h.01M2020.7 342.5h.01M2020.6 342.8h.01M2019.3 340.3h.01M2027.2 347.3h.01M2017.5 337.6h.01M2031.6 340.1h.01M2026.2 342h.01M2017.1 335.9h.01M2026 342.8h.01M2020.8 338.6h.01M2027 340.9h.01M2029.9 337.7h.01M2022 340.1h.01M2031.1 293.1h.01M2015 296.7h.01M2030.5 296.7h.01M2022.7 302.9h.01M2030.5 286.4h.01M2030.3 294.2h.01M2039.7 290h.01M2032.7 294.4h.01M2036.5 293.3h.01M2024.7 296.8h.01M2030.9 294.4h.01M2023.9 294.6h.01M2027.7 301.3h.01M2039.9 297.2h.01M2028 298.3h.01M2025.9 287.9h.01M2022.9 292.8h.01M2036.1 286.2h.01M2030 298.9h.01M2033.2 294.9h.01M2027.4 288.6h.01M2026.4 294.7h.01M2032.1 295.7h.01M2022.6 297.8h.01M2028.7 292.3h.01M2026.5 299h.01M2022 293.7h.01M2018.3 295.3h.01M2012.1 306.8h.01M2015.6 297.3h.01M2021.9 302.5h.01M2030.5 293.2h.01M2015.6 298.2h.01M2022.7 291.3h.01M2013.9 295.9h.01M2019.8 297.7h.01M2031.2 299.2h.01M2036.4 296.3h.01M2019.7 293.3h.01M2007.8 305.9h.01M2026.1 296.7h.01M2029.6 290h.01M2005.7 296.1h.01M2035.8 298h.01M2037.6 298.2h.01M2027.8 291.6h.01M2027.1 298.6h.01M2023.1 291.1h.01M2028.2 299.1h.01M2028.4 286.9h.01M2020.9 302.5h.01M2016.6 298.1h.01M2020.1 289.9h.01M2010.5 301.2h.01M2026.9 293.4h.01M2038.4 288.2h.01M2018 307h.01M2034.6 294.6h.01M2038.2 291.3h.01M2029.7 298.8h.01M2038.1 296h.01M2027.7 301.1h.01M2025.6 293.1h.01M2010.7 301.8h.01M2022.5 296.4h.01M2021 301.5h.01M2020.5 295.8h.01M2023.4 297.1h.01M2032.8 300.9h.01M2006.9 299.9h.01M2035.1 297.7h.01M2014.6 300.8h.01M2044.9 290.6h.01M2029.7 299.4h.01M2037.5 295.6h.01M2017.2 290.4h.01M2020.7 295h.01M2028.2 295.7h.01M2006.4 299.3h.01M2024.3 294.4h.01M2032.2 291.7h.01M2028.3 291.7h.01M2018.1 296.7h.01M2026.1 291.8h.01M2006.4 301.3h.01M2012.3 301.3h.01M2034.5 290.6h.01M2020.8 296.2h.01M2006.3 306h.01M2026.4 295.5h.01M2016.2 296h.01M2032.3 288.9h.01M2014.1 302.9h.01M2033.3 291h.01M2004.5 304.1h.01M2029 291.4h.01M2003.3 301.4h.01M2007.5 305.3h.01M2034.8 291.6h.01M2033.6 293h.01M2016.2 297.1h.01M2018.9 297.3h.01M2006 303.9h.01M2024.7 296.4h.01M2008.8 301.4h.01M2033.2 292.7h.01M2026.9 292.8h.01M2028.2 289.3h.01M2017.9 296.9h.01M2009 302.2h.01M1980.4 296.2h.01M1972.7 296.3h.01M1978.5 296.7h.01M1969.5 289.4h.01M1980.5 296h.01M1976.8 293.6h.01M1967.3 289.7h.01M1988.9 297.6h.01M1968.5 290.8h.01M1988.7 299.2h.01M1973.3 296.1h.01M1987.8 297.7h.01M1979.8 297.3h.01M1976.2 294.8h.01M1987.8 299.1h.01M1982.4 296.6h.01M1970.5 292.8h.01M1986.7 300.6h.01M1974.1 290.9h.01M1980.2 293.8h.01M1968.3 291.6h.01M1974.8 294.8h.01M1987.6 298.7h.01M1985.2 295.4h.01M1985.9 297.5h.01M1970.1 292.1h.01M1987.1 303.5h.01M1986.9 298.4h.01M1978.4 295.7h.01M1983.1 297.3h.01M2018.8 258.4h.01M2022.5 276.9h.01M2017.8 258.5h.01M2017.8 255.4h.01M2019.8 260.6h.01M2023.9 266.1h.01M2025.9 261.3h.01M2026.2 273.1h.01M2024.5 275.3h.01M2025.6 258.2h.01M2018.4 257.7h.01M2022.9 271.8h.01M2020.5 277.7h.01M2022 279.6h.01M2025 260.3h.01M2019.1 281.7h.01M2021.9 274.1h.01M2022.4 270.7h.01M2025.5 264h.01M2022.4 259.6h.01M2014.3 258.6h.01M2017.9 259.6h.01M2024.4 268h.01M2023 262h.01M2017 259.7h.01M2023.3 262h.01M2020.7 276.1h.01M2022.2 266.1h.01M2022.6 275h.01M2023.5 262h.01M2010.3 256.8h.01M2021.9 278.2h.01M2021.1 275.2h.01M2022.2 258.3h.01M2054.3 297.7h.01M2057.9 299.6h.01M2049.4 294h.01M2059.4 296.2h.01M2061 295.9h.01M2044.6 295.9h.01M2050.8 297.7h.01M2042 293.1h.01M2061.9 296.9h.01M2070.2 298.5h.01M2068.8 297.3h.01M2053.7 295.1h.01M2062.5 299.1h.01M2055 297.4h.01M2072.1 299.6h.01M2070.7 299.7h.01M2066.6 296.9h.01M2068.2 301.2h.01M2066.4 300.6h.01M2054 296h.01M2070.4 297h.01M2052.8 296h.01M2069.6 298.5h.01M2061.1 295.9h.01M2022 309.3h.01M2019.1 314.9h.01M2014.5 311h.01M2016.5 306.3h.01M2005.3 313.2h.01M2006.9 312.5h.01M2013.9 308.5h.01M2009.1 307.6h.01M2033 309.2h.01M2012 297.2h.01M2021.9 302.6h.01M1996.2 314.8h.01M2002.6 319.2h.01M2016.6 312.4h.01M2016.6 308.5h.01M2023.6 300.5h.01M2008.8 307h.01M2001.1 311.5h.01M2014.3 320.3h.01M2004.2 317.8h.01M2010.1 306h.01M2006.2 308.4h.01M2014.3 309.3h.01M1990.9 306.4h.01M2021.7 310.8h.01M1999.6 317.1h.01M2012 310.2h.01M2025 311.9h.01M1995.5 323.5h.01M2005.1 317.8h.01M2015.8 315.8h.01M2023.4 315.7h.01M1990.9 307.7h.01M2011.9 319.2h.01M2017.2 302.2h.01M2000.1 314.7h.01M2014.4 305.9h.01M1996.6 317.7h.01M1993.5 312.4h.01M1997.2 314.9h.01M1997.3 317.2h.01M1999.5 322h.01M1995.9 320.1h.01M1990.3 318.1h.01M1993.4 319.7h.01M1994.5 313.4h.01M1996.5 316.8h.01M1994.9 316.8h.01M1993.6 317.2h.01M1998.7 322.5h.01M1993.8 319.1h.01M1999.6 320.8h.01M1997.9 318.8h.01M1919.5 386.9h.01M1910.3 375.8h.01M1906.4 378h.01M1919.1 380.1h.01M1909 378.3h.01M1916.2 381.8h.01M1892.8 364.8h.01M1899.1 372.3h.01M1913.5 379.6h.01M1904.3 378.6h.01M1907.8 373.9h.01M1907.8 376.5h.01M1903.6 371.9h.01M1910.3 373.3h.01M1898.2 366.8h.01M1914.9 370.3h.01M1920.7 381.4h.01M1899.2 376.2h.01M1919.8 376.3h.01M1917.9 380.1h.01M1895.6 368h.01M1897.9 374h.01M1902.7 366.8h.01M1905.5 373.9h.01M1904.8 374.1h.01M1899.9 368.4h.01M1911.5 377.4h.01M1903.8 368.1h.01M1898.2 369.1h.01M1914.5 374.9h.01M1908 381.6h.01M1895.1 375.5h.01M1904.2 366.9h.01M1924.6 380.3h.01M1899.7 372.2h.01M1894.2 375.2h.01M1898.8 367.9h.01M1911.2 381.1h.01M1912.6 377.4h.01M1907.9 378.3h.01M1907 376.7h.01M1908.8 375.7h.01M1899.9 370.3h.01M1907.6 372.5h.01M1902.3 374h.01M1895.6 370.6h.01M1890.6 371.8h.01M1922 377.8h.01M1906.9 371.8h.01M1907 379.2h.01M1905.9 374h.01M1913.6 372h.01M1915.4 383.7h.01M1902.6 371.1h.01M1891.1 365.7h.01M1908.5 379.2h.01M1911.9 379.4h.01M1889.8 368.9h.01M1910.1 376h.01M1898 373.5h.01M1912.1 372.4h.01M1921.1 375.6h.01M1911.3 374.3h.01M1926.1 378.9h.01M1904.5 374.3h.01M1906.5 370h.01M1909.7 370.8h.01M1907.8 374.8h.01M1913.1 374.4h.01M1899.3 375.1h.01M1903 370.9h.01M1893.9 374h.01M1919.3 363.1h.01M1921.3 365.1h.01M1917.3 364.1h.01M1960.3 339.6h.01M1941.6 353.7h.01M1954.9 342.7h.01M1956.9 349.5h.01M1968.6 339.1h.01M1952.3 350.9h.01M1953.4 350.1h.01M1950.2 352.4h.01M1945.1 351h.01M1964.2 341h.01M1955 350.1h.01M1963.4 341.9h.01M1962.2 351h.01M1962.3 347.4h.01M1954.9 343.6h.01M1960.1 340h.01M1956.4 347.4h.01M1956.2 344.9h.01M1949.1 346.9h.01M1961.3 343.9h.01M1951.7 346.6h.01M1966 339.1h.01M1944.4 348.9h.01M1960.1 341.9h.01M1956.8 344.6h.01M1949.1 346.5h.01M1954.7 345.1h.01M1963.7 349h.01M1953.6 347h.01M1965.4 347h.01" stroke="#fff" stroke-opacity=".88" stroke-width="4.6"/>
<path d="M2017.5 328.6h.01M2010 315.4h.01M2014.4 329.6h.01M2010.9 328.1h.01M2023.5 335.9h.01M2005.8 323.9h.01M2003.1 311.6h.01M2007.6 320.5h.01M2018.7 337.1h.01M2023 336h.01M2014.5 337.4h.01M2023.7 340h.01M2015.4 326.3h.01M2010.7 332.8h.01M2013.5 326.9h.01M2007.2 318h.01M2016.6 327.9h.01M2017.3 329.2h.01M2022.2 345.5h.01M2017.2 335.9h.01M2009.5 320.1h.01M2011.5 322.9h.01M2020.5 328.2h.01M2021.1 341.7h.01M2021.2 324.3h.01M2027.2 335.5h.01M2018.3 327h.01M2009.4 310.3h.01M2024.7 333.3h.01M2016 329h.01M2027.6 343.3h.01M2007.5 322.8h.01M2013.2 334.9h.01M2018.5 328.7h.01M2023.3 337h.01M2011 324.7h.01M2011.3 323.2h.01M2019.9 329.8h.01M2022.5 338.8h.01M2011.5 332.1h.01M2018.3 326.8h.01M2014.1 329.6h.01M2020 340.2h.01M2010.5 333.5h.01M2013.6 327.2h.01M2030.9 341.4h.01M2004.1 320.5h.01M2028.5 349.8h.01M2014.6 327.7h.01M2027.6 340.3h.01M2018 335.3h.01M2023.7 343.8h.01M2012 332.8h.01M2010.2 328h.01M2026.3 330.7h.01M2014 328.1h.01M2007 318.7h.01M2022.2 334.7h.01M2017 334.6h.01M2013.4 327h.01M2024.7 338.2h.01M2015.4 326.5h.01M2018.7 328h.01M2015.7 333.3h.01M2013.7 330.5h.01M2010.3 326.2h.01M2033.5 339h.01M2009.8 321.5h.01M2024.6 335.9h.01M2019.9 331.7h.01M2020 335.6h.01M2023.4 344.1h.01M2020.9 337.9h.01M2018.4 322.5h.01M2027.7 336.5h.01M2012.9 320h.01M2023.8 335.9h.01M2024.9 345.4h.01M2020.9 334h.01M2031.4 347.3h.01M2010.2 322.1h.01M2014.4 329.1h.01M2022.4 335.8h.01M2018.6 334.6h.01M1999.7 319.2h.01M2012.3 328.8h.01M2006.9 318.3h.01M2016.4 330.6h.01M2025.9 343.5h.01M2015.2 323.7h.01M2014.7 328h.01M2008.7 325.5h.01M2010.1 324.1h.01M2019.9 322.8h.01M2021.6 338.7h.01M2018.7 335.6h.01M2022.5 328.7h.01M2018.7 330.3h.01M2001.7 313.4h.01M2005.4 318h.01M2001.1 313.6h.01M2012.6 325h.01M2013.6 327.3h.01M2004.5 322.7h.01M2018.6 338.1h.01M2012.6 329.1h.01M2013.9 325.2h.01M2016 323.3h.01M2021.2 332.2h.01M2020.7 332.4h.01M2015.1 331.2h.01M2021.7 332.1h.01M2009.6 322.8h.01M2011.8 321.4h.01M2016 324.5h.01M2017.5 334.8h.01M2017.6 328.2h.01M2004.4 314.3h.01M2028.3 338.8h.01M2026.8 347.8h.01M2003.8 311h.01M2021.4 339.4h.01M2023.4 335.3h.01M2012.6 322.4h.01M2016 330.2h.01M2016.7 330.8h.01M2008.3 321.3h.01M2023.2 341.2h.01M2014.8 334.9h.01M2009.5 314.5h.01M2023.4 341.1h.01M2015.1 335.8h.01M2021.5 335.2h.01M2020.4 339.3h.01M2022.4 340.8h.01M2029.5 344.2h.01M2029.3 342.3h.01M2021 338.3h.01M2020.1 341.5h.01M2023 343.6h.01M2019.7 341h.01M2025.7 345.3h.01M2018.6 341h.01M2021.7 341.7h.01M2024.4 341.2h.01M2020.2 340.1h.01M2029.3 341.4h.01M2025.9 336h.01M2019.1 336.4h.01M2012.2 338.4h.01M2015.7 341.1h.01M2022.7 337.7h.01M2026.8 337.7h.01M2017.5 338.2h.01M2021 340.3h.01M2026.9 347.1h.01M2014.9 340.3h.01M2020.1 338.9h.01M2023 336.5h.01M2021.4 341.2h.01M2016.4 343.3h.01M2022 341h.01M2019.1 341.7h.01M2015.4 339.5h.01M2016.3 340.7h.01M2021.1 344.1h.01M2021.9 341.1h.01M2013.7 336.7h.01M2015.8 340.2h.01M2013.5 342.4h.01M2022.5 341.1h.01M2032.5 341.2h.01M2021.9 339.3h.01M2017.6 345.5h.01M2024.3 340.8h.01M2024.7 343h.01M2021.9 339.7h.01M2020.7 342.5h.01M2020.6 342.8h.01M2019.3 340.3h.01M2027.2 347.3h.01M2017.5 337.6h.01M2031.6 340.1h.01M2026.2 342h.01M2017.1 335.9h.01M2026 342.8h.01M2020.8 338.6h.01M2027 340.9h.01M2029.9 337.7h.01M2022 340.1h.01M2031.1 293.1h.01M2015 296.7h.01M2030.5 296.7h.01M2022.7 302.9h.01M2030.5 286.4h.01M2030.3 294.2h.01M2039.7 290h.01M2032.7 294.4h.01M2036.5 293.3h.01M2024.7 296.8h.01M2030.9 294.4h.01M2023.9 294.6h.01M2027.7 301.3h.01M2039.9 297.2h.01M2028 298.3h.01M2025.9 287.9h.01M2022.9 292.8h.01M2036.1 286.2h.01M2030 298.9h.01M2033.2 294.9h.01M2027.4 288.6h.01M2026.4 294.7h.01M2032.1 295.7h.01M2022.6 297.8h.01M2028.7 292.3h.01M2026.5 299h.01M2022 293.7h.01M2018.3 295.3h.01M2012.1 306.8h.01M2015.6 297.3h.01M2021.9 302.5h.01M2030.5 293.2h.01M2015.6 298.2h.01M2022.7 291.3h.01M2013.9 295.9h.01M2019.8 297.7h.01M2031.2 299.2h.01M2036.4 296.3h.01M2019.7 293.3h.01M2007.8 305.9h.01M2026.1 296.7h.01M2029.6 290h.01M2005.7 296.1h.01M2035.8 298h.01M2037.6 298.2h.01M2027.8 291.6h.01M2027.1 298.6h.01M2023.1 291.1h.01M2028.2 299.1h.01M2028.4 286.9h.01M2020.9 302.5h.01M2016.6 298.1h.01M2020.1 289.9h.01M2010.5 301.2h.01M2026.9 293.4h.01M2038.4 288.2h.01M2018 307h.01M2034.6 294.6h.01M2038.2 291.3h.01M2029.7 298.8h.01M2038.1 296h.01M2027.7 301.1h.01M2025.6 293.1h.01M2010.7 301.8h.01M2022.5 296.4h.01M2021 301.5h.01M2020.5 295.8h.01M2023.4 297.1h.01M2032.8 300.9h.01M2006.9 299.9h.01M2035.1 297.7h.01M2014.6 300.8h.01M2044.9 290.6h.01M2029.7 299.4h.01M2037.5 295.6h.01M2017.2 290.4h.01M2020.7 295h.01M2028.2 295.7h.01M2006.4 299.3h.01M2024.3 294.4h.01M2032.2 291.7h.01M2028.3 291.7h.01M2018.1 296.7h.01M2026.1 291.8h.01M2006.4 301.3h.01M2012.3 301.3h.01M2034.5 290.6h.01M2020.8 296.2h.01M2006.3 306h.01M2026.4 295.5h.01M2016.2 296h.01M2032.3 288.9h.01M2014.1 302.9h.01M2033.3 291h.01M2004.5 304.1h.01M2029 291.4h.01M2003.3 301.4h.01M2007.5 305.3h.01M2034.8 291.6h.01M2033.6 293h.01M2016.2 297.1h.01M2018.9 297.3h.01M2006 303.9h.01M2024.7 296.4h.01M2008.8 301.4h.01M2033.2 292.7h.01M2026.9 292.8h.01M2028.2 289.3h.01M2017.9 296.9h.01M2009 302.2h.01M1980.4 296.2h.01M1972.7 296.3h.01M1978.5 296.7h.01M1969.5 289.4h.01M1980.5 296h.01M1976.8 293.6h.01M1967.3 289.7h.01M1988.9 297.6h.01M1968.5 290.8h.01M1988.7 299.2h.01M1973.3 296.1h.01M1987.8 297.7h.01M1979.8 297.3h.01M1976.2 294.8h.01M1987.8 299.1h.01M1982.4 296.6h.01M1970.5 292.8h.01M1986.7 300.6h.01M1974.1 290.9h.01M1980.2 293.8h.01M1968.3 291.6h.01M1974.8 294.8h.01M1987.6 298.7h.01M1985.2 295.4h.01M1985.9 297.5h.01M1970.1 292.1h.01M1987.1 303.5h.01M1986.9 298.4h.01M1978.4 295.7h.01M1983.1 297.3h.01M2018.8 258.4h.01M2022.5 276.9h.01M2017.8 258.5h.01M2017.8 255.4h.01M2019.8 260.6h.01M2023.9 266.1h.01M2025.9 261.3h.01M2026.2 273.1h.01M2024.5 275.3h.01M2025.6 258.2h.01M2018.4 257.7h.01M2022.9 271.8h.01M2020.5 277.7h.01M2022 279.6h.01M2025 260.3h.01M2019.1 281.7h.01M2021.9 274.1h.01M2022.4 270.7h.01M2025.5 264h.01M2022.4 259.6h.01M2014.3 258.6h.01M2017.9 259.6h.01M2024.4 268h.01M2023 262h.01M2017 259.7h.01M2023.3 262h.01M2020.7 276.1h.01M2022.2 266.1h.01M2022.6 275h.01M2023.5 262h.01M2010.3 256.8h.01M2021.9 278.2h.01M2021.1 275.2h.01M2022.2 258.3h.01M2054.3 297.7h.01M2057.9 299.6h.01M2049.4 294h.01M2059.4 296.2h.01M2061 295.9h.01M2044.6 295.9h.01M2050.8 297.7h.01M2042 293.1h.01M2061.9 296.9h.01M2070.2 298.5h.01M2068.8 297.3h.01M2053.7 295.1h.01M2062.5 299.1h.01M2055 297.4h.01M2072.1 299.6h.01M2070.7 299.7h.01M2066.6 296.9h.01M2068.2 301.2h.01M2066.4 300.6h.01M2054 296h.01M2070.4 297h.01M2052.8 296h.01M2069.6 298.5h.01M2061.1 295.9h.01M2022 309.3h.01M2019.1 314.9h.01M2014.5 311h.01M2016.5 306.3h.01M2005.3 313.2h.01M2006.9 312.5h.01M2013.9 308.5h.01M2009.1 307.6h.01M2033 309.2h.01M2012 297.2h.01M2021.9 302.6h.01M1996.2 314.8h.01M2002.6 319.2h.01M2016.6 312.4h.01M2016.6 308.5h.01M2023.6 300.5h.01M2008.8 307h.01M2001.1 311.5h.01M2014.3 320.3h.01M2004.2 317.8h.01M2010.1 306h.01M2006.2 308.4h.01M2014.3 309.3h.01M1990.9 306.4h.01M2021.7 310.8h.01M1999.6 317.1h.01M2012 310.2h.01M2025 311.9h.01M1995.5 323.5h.01M2005.1 317.8h.01M2015.8 315.8h.01M2023.4 315.7h.01M1990.9 307.7h.01M2011.9 319.2h.01M2017.2 302.2h.01M2000.1 314.7h.01M2014.4 305.9h.01M1996.6 317.7h.01M1993.5 312.4h.01M1997.2 314.9h.01M1997.3 317.2h.01M1999.5 322h.01M1995.9 320.1h.01M1990.3 318.1h.01M1993.4 319.7h.01M1994.5 313.4h.01M1996.5 316.8h.01M1994.9 316.8h.01M1993.6 317.2h.01M1998.7 322.5h.01M1993.8 319.1h.01M1999.6 320.8h.01M1997.9 318.8h.01M1919.5 386.9h.01M1910.3 375.8h.01M1906.4 378h.01M1919.1 380.1h.01M1909 378.3h.01M1916.2 381.8h.01M1892.8 364.8h.01M1899.1 372.3h.01M1913.5 379.6h.01M1904.3 378.6h.01M1907.8 373.9h.01M1907.8 376.5h.01M1903.6 371.9h.01M1910.3 373.3h.01M1898.2 366.8h.01M1914.9 370.3h.01M1920.7 381.4h.01M1899.2 376.2h.01M1919.8 376.3h.01M1917.9 380.1h.01M1895.6 368h.01M1897.9 374h.01M1902.7 366.8h.01M1905.5 373.9h.01M1904.8 374.1h.01M1899.9 368.4h.01M1911.5 377.4h.01M1903.8 368.1h.01M1898.2 369.1h.01M1914.5 374.9h.01M1908 381.6h.01M1895.1 375.5h.01M1904.2 366.9h.01M1924.6 380.3h.01M1899.7 372.2h.01M1894.2 375.2h.01M1898.8 367.9h.01M1911.2 381.1h.01M1912.6 377.4h.01M1907.9 378.3h.01M1907 376.7h.01M1908.8 375.7h.01M1899.9 370.3h.01M1907.6 372.5h.01M1902.3 374h.01M1895.6 370.6h.01M1890.6 371.8h.01M1922 377.8h.01M1906.9 371.8h.01M1907 379.2h.01M1905.9 374h.01M1913.6 372h.01M1915.4 383.7h.01M1902.6 371.1h.01M1891.1 365.7h.01M1908.5 379.2h.01M1911.9 379.4h.01M1889.8 368.9h.01M1910.1 376h.01M1898 373.5h.01M1912.1 372.4h.01M1921.1 375.6h.01M1911.3 374.3h.01M1926.1 378.9h.01M1904.5 374.3h.01M1906.5 370h.01M1909.7 370.8h.01M1907.8 374.8h.01M1913.1 374.4h.01M1899.3 375.1h.01M1903 370.9h.01M1893.9 374h.01M1919.3 363.1h.01M1921.3 365.1h.01M1917.3 364.1h.01M1960.3 339.6h.01M1941.6 353.7h.01M1954.9 342.7h.01M1956.9 349.5h.01M1968.6 339.1h.01M1952.3 350.9h.01M1953.4 350.1h.01M1950.2 352.4h.01M1945.1 351h.01M1964.2 341h.01M1955 350.1h.01M1963.4 341.9h.01M1962.2 351h.01M1962.3 347.4h.01M1954.9 343.6h.01M1960.1 340h.01M1956.4 347.4h.01M1956.2 344.9h.01M1949.1 346.9h.01M1961.3 343.9h.01M1951.7 346.6h.01M1966 339.1h.01M1944.4 348.9h.01M1960.1 341.9h.01M1956.8 344.6h.01M1949.1 346.5h.01M1954.7 345.1h.01M1963.7 349h.01M1953.6 347h.01M1965.4 347h.01" stroke="#8a5cc0" stroke-width="2.3"/>
<path d="M123.6 650.2h.01M117.6 652.6h.01M108 656.6h.01M93.3 658.2h.01M91.1 662.2h.01M115.6 662.2h.01M102.6 665.6h.01M99.7 668h.01M122 667.6h.01M84.7 671.1h.01M88.7 672.5h.01M110.2 673.5h.01M83.3 673.9h.01M105.6 678.1h.01M76.3 680.9h.01M86.3 691.1h.01M77.1 695.1h.01M87.1 739.7h.01M86.7 740h.01M90.7 744.4h.01M89 748.5h.01M79.4 739.6h.01M80.6 738.5h.01M85.7 737.5h.01M91 741.9h.01M93.8 742.7h.01M90.4 742.5h.01M82.3 746.9h.01M91.3 743.2h.01M81.2 739.3h.01M83.8 746.8h.01M87.4 745.4h.01M86.7 743.6h.01M88.5 744h.01M91.2 741.6h.01M90.1 732.3h.01M87.1 757.2h.01M105 766.8h.01M136.7 740.1h.01M135 731.3h.01M133 740h.01M136.7 727.7h.01M126.3 736.4h.01M130.5 736.7h.01M123.4 722h.01M124.4 739.2h.01M142.4 730.6h.01M135.7 729.2h.01M137.2 729.8h.01M128.7 736.1h.01M121.6 729.5h.01M125.4 728.9h.01M123.1 728.8h.01M126.5 732h.01M121.2 738.2h.01M124.1 730.1h.01M119 726h.01M137.3 729.4h.01M124.3 747.1h.01M131.1 715.6h.01M120.9 733.3h.01M119.4 741h.01M122.8 747.1h.01M136.8 731.5h.01M132.3 744.4h.01M128.4 735.9h.01M121.5 727.3h.01M126 737.3h.01M128 743.3h.01M128.8 735.8h.01M121 739.4h.01M128.1 724.4h.01M135.3 729.5h.01M126.1 724.7h.01M129.6 728.8h.01M114.5 739.4h.01M133.6 742.9h.01M130.7 734.7h.01M122.8 700.1h.01M135.1 695.8h.01M142.6 696.8h.01M136.7 695.5h.01M141.8 696.8h.01M134.3 696h.01M132.9 694.9h.01M123 700.2h.01M123.6 706.4h.01M133.5 713.4h.01M140.5 712.4h.01M143.5 712.4h.01M138.5 715.4h.01M147.5 720.4h.01M149.5 721.4h.01M153.5 721.4h.01M141.5 728.3h.01M146.5 729.3h.01M142.5 729.3h.01M116.6 742.3h.01M118.6 744.3h.01M128.6 743.3h.01M132.5 745.3h.01M136.5 747.3h.01M138.5 750.3h.01M125.6 751.3h.01M123.6 754.3h.01M118.6 757.2h.01M153.5 739.3h.01M155.5 741.3h.01M154.5 746.3h.01M158.4 746.3h.01M145.5 740.3h.01M173 699.9h.01M164.4 699.9h.01M165.1 701h.01M171.8 700.6h.01M171.1 699.8h.01M175.2 702.1h.01M169.7 700.6h.01M177 702.5h.01M170.4 700h.01M161.3 700.3h.01M165.2 702.3h.01M174.3 703.6h.01M162.8 672.9h.01M161.4 681.5h.01M162.4 681.9h.01M161.4 717.4h.01M164.4 719h.01M169.4 716.4h.01M167.4 720.4h.01M166 722.4h.01M172.4 722.4h.01M159 723h.01M166.8 727.4h.01M173.4 734.9h.01M36.5 702h.01M123.6 604.4h.01M192.3 573.9h.01M191.9 575.9h.01M226.2 577.5h.01M182.4 597.2h.01M223.8 613.2h.01M197.9 698.1h.01M192.3 707h.01M197.3 717.4h.01M195.9 719h.01M226.6 708h.01M240.2 734.9h.01M176 752.9h.01M174.4 756.3h.01M196.3 752.9h.01M184.4 762.2h.01M249.1 755.3h.01M201.9 783.2h.01M328.9 674.1h.01M373.7 680.5h.01M371.1 685.1h.01M374.7 687.1h.01M375.7 695.1h.01M354.2 694.5h.01M340.4 700.8h.01M307.9 716h.01M330.8 733.7h.01" stroke="#fff" stroke-opacity=".88" stroke-width="5.8"/>
<path d="M123.6 650.2h.01M117.6 652.6h.01M108 656.6h.01M93.3 658.2h.01M91.1 662.2h.01M115.6 662.2h.01M102.6 665.6h.01M99.7 668h.01M122 667.6h.01M84.7 671.1h.01M88.7 672.5h.01M110.2 673.5h.01M83.3 673.9h.01M105.6 678.1h.01M76.3 680.9h.01M86.3 691.1h.01M77.1 695.1h.01M87.1 739.7h.01M86.7 740h.01M90.7 744.4h.01M89 748.5h.01M79.4 739.6h.01M80.6 738.5h.01M85.7 737.5h.01M91 741.9h.01M93.8 742.7h.01M90.4 742.5h.01M82.3 746.9h.01M91.3 743.2h.01M81.2 739.3h.01M83.8 746.8h.01M87.4 745.4h.01M86.7 743.6h.01M88.5 744h.01M91.2 741.6h.01M90.1 732.3h.01M87.1 757.2h.01M105 766.8h.01M136.7 740.1h.01M135 731.3h.01M133 740h.01M136.7 727.7h.01M126.3 736.4h.01M130.5 736.7h.01M123.4 722h.01M124.4 739.2h.01M142.4 730.6h.01M135.7 729.2h.01M137.2 729.8h.01M128.7 736.1h.01M121.6 729.5h.01M125.4 728.9h.01M123.1 728.8h.01M126.5 732h.01M121.2 738.2h.01M124.1 730.1h.01M119 726h.01M137.3 729.4h.01M124.3 747.1h.01M131.1 715.6h.01M120.9 733.3h.01M119.4 741h.01M122.8 747.1h.01M136.8 731.5h.01M132.3 744.4h.01M128.4 735.9h.01M121.5 727.3h.01M126 737.3h.01M128 743.3h.01M128.8 735.8h.01M121 739.4h.01M128.1 724.4h.01M135.3 729.5h.01M126.1 724.7h.01M129.6 728.8h.01M114.5 739.4h.01M133.6 742.9h.01M130.7 734.7h.01M122.8 700.1h.01M135.1 695.8h.01M142.6 696.8h.01M136.7 695.5h.01M141.8 696.8h.01M134.3 696h.01M132.9 694.9h.01M123 700.2h.01M123.6 706.4h.01M133.5 713.4h.01M140.5 712.4h.01M143.5 712.4h.01M138.5 715.4h.01M147.5 720.4h.01M149.5 721.4h.01M153.5 721.4h.01M141.5 728.3h.01M146.5 729.3h.01M142.5 729.3h.01M116.6 742.3h.01M118.6 744.3h.01M128.6 743.3h.01M132.5 745.3h.01M136.5 747.3h.01M138.5 750.3h.01M125.6 751.3h.01M123.6 754.3h.01M118.6 757.2h.01M153.5 739.3h.01M155.5 741.3h.01M154.5 746.3h.01M158.4 746.3h.01M145.5 740.3h.01M173 699.9h.01M164.4 699.9h.01M165.1 701h.01M171.8 700.6h.01M171.1 699.8h.01M175.2 702.1h.01M169.7 700.6h.01M177 702.5h.01M170.4 700h.01M161.3 700.3h.01M165.2 702.3h.01M174.3 703.6h.01M162.8 672.9h.01M161.4 681.5h.01M162.4 681.9h.01M161.4 717.4h.01M164.4 719h.01M169.4 716.4h.01M167.4 720.4h.01M166 722.4h.01M172.4 722.4h.01M159 723h.01M166.8 727.4h.01M173.4 734.9h.01M36.5 702h.01M123.6 604.4h.01M192.3 573.9h.01M191.9 575.9h.01M226.2 577.5h.01M182.4 597.2h.01M223.8 613.2h.01M197.9 698.1h.01M192.3 707h.01M197.3 717.4h.01M195.9 719h.01M226.6 708h.01M240.2 734.9h.01M176 752.9h.01M174.4 756.3h.01M196.3 752.9h.01M184.4 762.2h.01M249.1 755.3h.01M201.9 783.2h.01M328.9 674.1h.01M373.7 680.5h.01M371.1 685.1h.01M374.7 687.1h.01M375.7 695.1h.01M354.2 694.5h.01M340.4 700.8h.01M307.9 716h.01M330.8 733.7h.01" stroke="#1f6fa8" stroke-width="2.7"/>
<path d="M613.5 745.1h.01M624.1 779.3h.01M610.2 765h.01M647.4 753.3h.01M651.7 758.5h.01M654 754.8h.01M628.9 753.8h.01M637.8 756h.01M635 763.4h.01M660.3 747.8h.01M609.7 758.8h.01M603.3 758.3h.01M622.9 772.8h.01M613.6 752.1h.01M629.8 760.6h.01M661.4 748.1h.01M655.3 761.6h.01M647.4 759.2h.01M623.5 750.7h.01M660 750.6h.01M613.7 757.8h.01M639.5 751.7h.01M599.3 744.5h.01M644.1 748.5h.01M645.9 757.2h.01M625.9 766h.01M609.2 775.6h.01M621.8 769.8h.01M636.8 781.4h.01M616.6 769.2h.01M639.6 748h.01M625.8 754.2h.01M658.4 755.2h.01M621.8 737.1h.01M661.6 759.4h.01M593.6 753.9h.01M638.5 751.3h.01M662.6 750.9h.01M664.1 764.1h.01M627.9 757.1h.01M590.6 768.2h.01M637.9 755.3h.01M637 751.9h.01M647.9 745.5h.01M635.3 746.4h.01M665.6 749.3h.01M644 755.1h.01M621.2 763.4h.01M630.7 768.3h.01M620.3 773.5h.01M631.6 768.7h.01M635 764.8h.01M616 765.2h.01M645.1 744.1h.01M632.5 763.6h.01M747.9 731.5h.01M728.9 744h.01M730.5 724.6h.01M731.5 738.4h.01M725.1 748.6h.01M717.3 738.2h.01M747.5 735.6h.01M754.3 736.6h.01M730.1 740.5h.01M719.9 740.5h.01M734.8 741.3h.01M726.6 735.7h.01M713.3 751.4h.01M731.9 736.1h.01M740.5 740.9h.01M752.9 718.9h.01M732.1 744h.01M758.2 722.4h.01M729.3 743.4h.01M745.6 724.3h.01M733.1 737h.01M751.6 730.4h.01" stroke="#fff" stroke-opacity=".88" stroke-width="5"/>
<path d="M613.5 745.1h.01M624.1 779.3h.01M610.2 765h.01M647.4 753.3h.01M651.7 758.5h.01M654 754.8h.01M628.9 753.8h.01M637.8 756h.01M635 763.4h.01M660.3 747.8h.01M609.7 758.8h.01M603.3 758.3h.01M622.9 772.8h.01M613.6 752.1h.01M629.8 760.6h.01M661.4 748.1h.01M655.3 761.6h.01M647.4 759.2h.01M623.5 750.7h.01M660 750.6h.01M613.7 757.8h.01M639.5 751.7h.01M599.3 744.5h.01M644.1 748.5h.01M645.9 757.2h.01M625.9 766h.01M609.2 775.6h.01M621.8 769.8h.01M636.8 781.4h.01M616.6 769.2h.01M639.6 748h.01M625.8 754.2h.01M658.4 755.2h.01M621.8 737.1h.01M661.6 759.4h.01M593.6 753.9h.01M638.5 751.3h.01M662.6 750.9h.01M664.1 764.1h.01M627.9 757.1h.01M590.6 768.2h.01M637.9 755.3h.01M637 751.9h.01M647.9 745.5h.01M635.3 746.4h.01M665.6 749.3h.01M644 755.1h.01M621.2 763.4h.01M630.7 768.3h.01M620.3 773.5h.01M631.6 768.7h.01M635 764.8h.01M616 765.2h.01M645.1 744.1h.01M632.5 763.6h.01M747.9 731.5h.01M728.9 744h.01M730.5 724.6h.01M731.5 738.4h.01M725.1 748.6h.01M717.3 738.2h.01M747.5 735.6h.01M754.3 736.6h.01M730.1 740.5h.01M719.9 740.5h.01M734.8 741.3h.01M726.6 735.7h.01M713.3 751.4h.01M731.9 736.1h.01M740.5 740.9h.01M752.9 718.9h.01M732.1 744h.01M758.2 722.4h.01M729.3 743.4h.01M745.6 724.3h.01M733.1 737h.01M751.6 730.4h.01" stroke="#c9d3ee" stroke-width="2.3"/>
<path d="M632.5 759.1h.01M590.5 761.7h.01M632.5 768.8h.01M635.2 754.1h.01M598 760.4h.01M627.8 767.9h.01M664.3 767.6h.01M642.1 738.5h.01M655.3 757h.01M643.3 758h.01M663.6 763h.01M626.3 745.4h.01M630.4 747.4h.01M620.3 763.6h.01M738.2 736.7h.01M733.5 726.8h.01M733.1 729.8h.01M699 744.1h.01M734.9 728.2h.01M742.1 718.8h.01" stroke="#fff" stroke-opacity=".88" stroke-width="5"/>
<path d="M632.5 759.1h.01M590.5 761.7h.01M632.5 768.8h.01M635.2 754.1h.01M598 760.4h.01M627.8 767.9h.01M664.3 767.6h.01M642.1 738.5h.01M655.3 757h.01M643.3 758h.01M663.6 763h.01M626.3 745.4h.01M630.4 747.4h.01M620.3 763.6h.01M738.2 736.7h.01M733.5 726.8h.01M733.1 729.8h.01M699 744.1h.01M734.9 728.2h.01M742.1 718.8h.01" stroke="#a9aecb" stroke-width="2.3"/>
<path d="M608.5 701h.01M607.5 698.3h.01M602.1 702.5h.01M605.6 698.1h.01M600.8 701.1h.01M603.5 701.3h.01M603.1 698.3h.01M609 701.1h.01M606.3 701.6h.01M599.2 703.5h.01M599.7 698.4h.01M611.8 700.6h.01M605.1 698.1h.01M596.3 698.5h.01M602.9 698.9h.01M600.4 698.3h.01M609 699.7h.01M604.9 697.6h.01M610.4 699.3h.01M602.2 703h.01M605.8 699.8h.01M608.3 699.8h.01M595 702.3h.01M602.6 700.3h.01M593 700h.01M607.3 699.1h.01M598.3 697.6h.01M606 701.4h.01M617.9 702.3h.01M598.7 699.7h.01M604.4 701.6h.01M609.8 700.5h.01M596.9 701.8h.01M615 699h.01M597.5 702.4h.01M606.3 701.3h.01M608.1 702.3h.01M612.7 698.7h.01M599.1 700.3h.01M607.8 702.9h.01M596 703.4h.01M612.9 699.1h.01M612.7 699.1h.01M609.1 698.7h.01M603.7 699.7h.01M627.5 692.8h.01M628 695.1h.01M626 692.5h.01M628.5 694.7h.01M625.6 691.3h.01M629.8 696.1h.01M623.7 690.2h.01M631.5 696.9h.01M637.6 689.5h.01M637.5 689.1h.01M637.8 691.8h.01M638.6 689.5h.01M628.6 710.2h.01M627.3 707.7h.01M628.7 709.2h.01M625.9 708.2h.01M627.9 708.8h.01M624.6 705.7h.01M623.6 706h.01M626.3 707.5h.01M510.7 745.4h.01M516.8 753.5h.01M512.6 745.9h.01M512.3 739.9h.01M512.8 749.3h.01M517.4 755.4h.01M509.9 742.9h.01M512.1 749.7h.01M516.2 758.9h.01M514 751.2h.01M516.5 753.2h.01M512.3 745.7h.01M516.9 755.5h.01M515.7 751.5h.01M516.9 745.9h.01M516.2 753.2h.01M515.7 751.3h.01M514.2 740.9h.01M514.4 745.3h.01M514.1 750.1h.01M515.9 749.1h.01M516.7 755.4h.01M516.2 752.9h.01M516.4 756.2h.01M516.3 749.6h.01M515.4 753.1h.01M509.9 744.3h.01M514.1 748.7h.01M518.8 756.3h.01M513.4 749.4h.01M516.7 756h.01M516.6 752.9h.01M515.3 749.3h.01M512.5 745h.01M519.2 752.6h.01M514.8 745h.01M514.3 749.7h.01M513.2 744.8h.01M519.9 733.8h.01M514.3 731.6h.01M516 730.3h.01M517.7 732.6h.01M513.7 731.3h.01M519.4 734.1h.01M521.5 734.1h.01M514.1 729.9h.01M519.2 733.5h.01M515.3 730.9h.01M530.3 764.1h.01M539.9 767.1h.01M533 763.8h.01M539.5 767.7h.01M537 765.4h.01M536 766h.01M540.4 765.7h.01M528 763.5h.01M530.9 762.8h.01M533.8 766.1h.01M599.1 729.4h.01M606.8 735.1h.01M607.5 734.9h.01M607.5 735.3h.01M606.2 734.7h.01M604.3 734h.01M605.4 734.2h.01M604.2 734.9h.01M601.5 732.1h.01M607 736.2h.01M605.6 732.7h.01M602.4 729.5h.01M513.1 694.5h.01M514.3 695.5h.01M515.1 693.9h.01" stroke="#fff" stroke-opacity=".88" stroke-width="5"/>
<path d="M608.5 701h.01M607.5 698.3h.01M602.1 702.5h.01M605.6 698.1h.01M600.8 701.1h.01M603.5 701.3h.01M603.1 698.3h.01M609 701.1h.01M606.3 701.6h.01M599.2 703.5h.01M599.7 698.4h.01M611.8 700.6h.01M605.1 698.1h.01M596.3 698.5h.01M602.9 698.9h.01M600.4 698.3h.01M609 699.7h.01M604.9 697.6h.01M610.4 699.3h.01M602.2 703h.01M605.8 699.8h.01M608.3 699.8h.01M595 702.3h.01M602.6 700.3h.01M593 700h.01M607.3 699.1h.01M598.3 697.6h.01M606 701.4h.01M617.9 702.3h.01M598.7 699.7h.01M604.4 701.6h.01M609.8 700.5h.01M596.9 701.8h.01M615 699h.01M597.5 702.4h.01M606.3 701.3h.01M608.1 702.3h.01M612.7 698.7h.01M599.1 700.3h.01M607.8 702.9h.01M596 703.4h.01M612.9 699.1h.01M612.7 699.1h.01M609.1 698.7h.01M603.7 699.7h.01M627.5 692.8h.01M628 695.1h.01M626 692.5h.01M628.5 694.7h.01M625.6 691.3h.01M629.8 696.1h.01M623.7 690.2h.01M631.5 696.9h.01M637.6 689.5h.01M637.5 689.1h.01M637.8 691.8h.01M638.6 689.5h.01M628.6 710.2h.01M627.3 707.7h.01M628.7 709.2h.01M625.9 708.2h.01M627.9 708.8h.01M624.6 705.7h.01M623.6 706h.01M626.3 707.5h.01M510.7 745.4h.01M516.8 753.5h.01M512.6 745.9h.01M512.3 739.9h.01M512.8 749.3h.01M517.4 755.4h.01M509.9 742.9h.01M512.1 749.7h.01M516.2 758.9h.01M514 751.2h.01M516.5 753.2h.01M512.3 745.7h.01M516.9 755.5h.01M515.7 751.5h.01M516.9 745.9h.01M516.2 753.2h.01M515.7 751.3h.01M514.2 740.9h.01M514.4 745.3h.01M514.1 750.1h.01M515.9 749.1h.01M516.7 755.4h.01M516.2 752.9h.01M516.4 756.2h.01M516.3 749.6h.01M515.4 753.1h.01M509.9 744.3h.01M514.1 748.7h.01M518.8 756.3h.01M513.4 749.4h.01M516.7 756h.01M516.6 752.9h.01M515.3 749.3h.01M512.5 745h.01M519.2 752.6h.01M514.8 745h.01M514.3 749.7h.01M513.2 744.8h.01M519.9 733.8h.01M514.3 731.6h.01M516 730.3h.01M517.7 732.6h.01M513.7 731.3h.01M519.4 734.1h.01M521.5 734.1h.01M514.1 729.9h.01M519.2 733.5h.01M515.3 730.9h.01M530.3 764.1h.01M539.9 767.1h.01M533 763.8h.01M539.5 767.7h.01M537 765.4h.01M536 766h.01M540.4 765.7h.01M528 763.5h.01M530.9 762.8h.01M533.8 766.1h.01M599.1 729.4h.01M606.8 735.1h.01M607.5 734.9h.01M607.5 735.3h.01M606.2 734.7h.01M604.3 734h.01M605.4 734.2h.01M604.2 734.9h.01M601.5 732.1h.01M607 736.2h.01M605.6 732.7h.01M602.4 729.5h.01M513.1 694.5h.01M514.3 695.5h.01M515.1 693.9h.01" stroke="#b4c9ea" stroke-width="2.3"/>
<path d="M1240.9 686h.01M1248.9 688.5h.01M1249 689.9h.01M1243.4 692.8h.01M1246.5 695.3h.01M1242.9 691.8h.01M1240 690.4h.01M1245.3 687h.01M1247.2 690.6h.01M1241.7 687.2h.01M1233.9 690.2h.01M1233.4 691.8h.01M1249.1 694.6h.01M1243.2 693.7h.01M1246.1 687.3h.01M1250.7 689.5h.01M1244 691.9h.01M1239.5 691.2h.01M1242.1 686.4h.01M1246.8 692.2h.01M1243.7 688.1h.01M1236.7 697.1h.01M1243.7 692.2h.01M1243.2 697.2h.01M1248 691.8h.01M1242.5 688h.01M1247.8 692.6h.01M1248.8 693h.01M1241.2 687.3h.01M1241.9 695.4h.01M1244 691.5h.01M1243.4 692.6h.01M1239.2 693h.01M1242.3 689.3h.01M1249.2 688.4h.01M1243.5 691.3h.01M1251.4 691h.01M1243.3 687.3h.01M1239.2 690.5h.01M1245.9 696.5h.01M1245.7 690.8h.01M1237.8 691.5h.01M1227.7 679h.01M1235.1 689.4h.01M1223.9 676h.01M1226.5 686.8h.01M1235.5 694.9h.01M1233.2 700h.01M1225 697.3h.01M1226.8 677.7h.01M1233.4 699.8h.01M1220.4 676.6h.01M1233.2 683.2h.01M1236 697.9h.01M1237.5 697.4h.01M1225.2 695.1h.01M1233.6 699.9h.01M1179.8 724.6h.01M1182.6 715.2h.01M1179.9 720.5h.01M1176 715.5h.01M1176.9 718.2h.01M1178.6 714.8h.01M1182.4 715.1h.01M1187.7 722h.01M1185.8 719.7h.01M1183.1 718h.01M1189.8 716.2h.01M1193.7 716.3h.01M1169.1 720.5h.01M1185.7 714.7h.01M1182.1 719.8h.01M1178.9 721h.01M1186.4 716.9h.01M1182.5 711h.01M1182.4 720.1h.01M1180.4 725h.01M1194.9 720.5h.01M1185.7 718.4h.01M1176.6 716.3h.01M1184.6 720.1h.01M1182.5 722.6h.01M1181.5 717.9h.01M1170.7 722.1h.01M1178.8 711.2h.01M1177.1 717.4h.01M1163.1 716.8h.01M1188.6 715.1h.01M1176 716.4h.01M1172 718.8h.01M1176 716h.01M1173 717.6h.01M1182.8 725.4h.01M1179.2 713.5h.01M1180.2 727.2h.01M1182.9 712.4h.01M1186.1 714.8h.01M1182.1 721.4h.01M1182.1 714.2h.01M1165.2 719.2h.01M1172.5 722.4h.01M1183.2 723.1h.01M1188.2 719.9h.01M1149.8 726h.01M1155.8 723.4h.01M1153.8 724.3h.01M1150.8 726.2h.01M1153.1 723.9h.01M1157.3 722.7h.01M1205.1 699.9h.01M1202.4 702.7h.01M1200.1 706.2h.01M1206.5 698.1h.01M1199.4 704.8h.01M1206.6 697.5h.01M1198.4 711.8h.01M1206.8 695.2h.01M1038.5 698.1h.01M1042.7 698.9h.01M1036.7 703.5h.01M1042.2 698.3h.01M1047.1 697h.01M1040.7 702.1h.01M1040.8 700h.01M1037 706.6h.01M1042.1 705.7h.01M1040.3 700.3h.01M1044.5 701.8h.01M1038.7 696.4h.01M1038.9 705.3h.01M1041 698.8h.01M1035.8 702.1h.01M1042.4 702.2h.01M1046.2 699h.01M1044.8 703.6h.01M1036.6 706.1h.01M1040.3 698.3h.01M1049.6 703h.01M1045 696.1h.01M1040.8 703.8h.01M1046 703.8h.01M1051.2 703.7h.01M1037.5 697.9h.01M1047.9 702.9h.01M1039.9 701.6h.01M1043.9 700.6h.01M1044 696.7h.01M1079.1 722.1h.01M1094.4 733.8h.01M1061.4 707.5h.01M1067.7 715.6h.01M1064.4 713.9h.01M1084.4 731.3h.01M1067.7 718.9h.01M1094.2 736.3h.01M1090.3 732.9h.01M1058 705.8h.01M1071.9 722.1h.01M1065.4 712.6h.01M1058.6 706.7h.01M1083.1 732.3h.01M1089 733.6h.01M1065.9 719.5h.01M1077.7 722.3h.01M1092.1 734.2h.01M1068 720h.01M1065.3 709.7h.01M1063.7 708.7h.01M1059.7 705.7h.01M1069.2 722.5h.01M1084.8 728h.01M1062.6 709.6h.01M1064.9 696.2h.01M1065.5 697.3h.01M1065.9 696.9h.01M1064.7 696.2h.01M1072.9 692.3h.01M1072.5 690.7h.01M1073.1 693.1h.01M1072.1 690.5h.01M1075.9 741.4h.01M1076.8 739.5h.01M1077.9 742.6h.01M1076.5 742.2h.01M1080.8 740.7h.01M1086.4 742.3h.01M1074.2 741.4h.01M1078.8 742.2h.01M1085.2 742.6h.01M1081.3 742.6h.01M1087.2 741.3h.01M1078.5 739.8h.01M1077.9 740.2h.01M1073.3 741.7h.01M1080.8 742.9h.01M1041.1 735.1h.01M1040.8 736.5h.01M1040.7 735.3h.01M1042.4 736.3h.01M1041.3 735.4h.01M1042.6 737.3h.01M1041 745.5h.01M1039.7 746.4h.01M1043.5 744.5h.01M1045 744.2h.01M1042.4 745.8h.01M1046.8 744.3h.01M1045.5 744.6h.01M1039.9 745.3h.01M952.6 745.6h.01M949.8 738.9h.01M950.6 744.1h.01M951.6 741.4h.01M949.5 738.5h.01M951.2 743.6h.01M949.4 741.1h.01M949 741.3h.01M949.1 739.3h.01M949.4 740.3h.01M951.4 744h.01M953.4 743.7h.01M960 734.2h.01M956.8 734.3h.01M958.3 732.9h.01M956.9 734.5h.01M957.6 733.7h.01M958 735.1h.01M1002.1 753h.01M1006.9 757.8h.01M1003.3 752.5h.01M1004.3 753.9h.01M1004.1 753.9h.01M1006.2 756.7h.01M1005.4 755.2h.01M1007.5 756.3h.01M1000.8 751.4h.01M1006.8 757.2h.01M950.7 750.3h.01M951.7 759.2h.01M967.7 762.2h.01M1012.5 762.2h.01M912.9 624.1h.01M920.8 627.7h.01M935.8 646.6h.01M884.3 668h.01M896.9 677.5h.01M906.5 673.5h.01M915.8 673.1h.01M902.9 724.4h.01M954.1 620.7h.01M960.7 592.8h.01M995.6 626.7h.01M1007.5 632.7h.01M1016.5 589.2h.01M1018.5 598.2h.01M1030.4 653.2h.01M972.6 666h.01M974.6 667.6h.01M946.7 679.5h.01M951.7 685.5h.01M946.7 694.5h.01M950.3 698.5h.01M1037.4 679.1h.01M994.6 702.4h.01M991.6 713.4h.01M1022.5 721.4h.01M1032.4 724.4h.01M1018.5 734.3h.01M1007.5 735.3h.01M1014.5 740.3h.01M1035.4 732.3h.01M1063.3 588.2h.01M1087.2 583.3h.01M1127.1 584.3h.01M1131.1 579.9h.01M1128.1 591.8h.01M1133.1 595.4h.01M1134.1 646.2h.01M1172.9 658.6h.01M1082.3 672.9h.01M1178.9 678.5h.01M1189.9 678.5h.01M1196.9 682.5h.01M1192.9 683.5h.01M1128.1 696.5h.01M1146 699.4h.01M1100.2 707.4h.01M1104.2 716.4h.01M1089.2 717.4h.01M1100.2 723.4h.01M1118.1 727.4h.01M1120.1 738.3h.01M1143 734.9h.01M1167 738.9h.01M1205.8 738.9h.01M1195.9 735.7h.01M1133.1 756.3h.01M1071.3 762.2h.01M1058.3 749.3h.01M1068.3 745.3h.01M1029.4 754.3h.01M1078.3 776.2h.01M1078.3 779.2h.01M1088.2 772.8h.01M1074.3 789.1h.01M1080.3 792.7h.01M1086.2 794.7h.01M1090.2 795.5h.01M1147 777.2h.01M1153 779.6h.01M1150 783.8h.01M1155 783.6h.01M1021.5 800.5h.01M1178.9 705.4h.01M1199.8 725.4h.01" stroke="#fff" stroke-opacity=".88" stroke-width="5.8"/>
<path d="M1240.9 686h.01M1248.9 688.5h.01M1249 689.9h.01M1243.4 692.8h.01M1246.5 695.3h.01M1242.9 691.8h.01M1240 690.4h.01M1245.3 687h.01M1247.2 690.6h.01M1241.7 687.2h.01M1233.9 690.2h.01M1233.4 691.8h.01M1249.1 694.6h.01M1243.2 693.7h.01M1246.1 687.3h.01M1250.7 689.5h.01M1244 691.9h.01M1239.5 691.2h.01M1242.1 686.4h.01M1246.8 692.2h.01M1243.7 688.1h.01M1236.7 697.1h.01M1243.7 692.2h.01M1243.2 697.2h.01M1248 691.8h.01M1242.5 688h.01M1247.8 692.6h.01M1248.8 693h.01M1241.2 687.3h.01M1241.9 695.4h.01M1244 691.5h.01M1243.4 692.6h.01M1239.2 693h.01M1242.3 689.3h.01M1249.2 688.4h.01M1243.5 691.3h.01M1251.4 691h.01M1243.3 687.3h.01M1239.2 690.5h.01M1245.9 696.5h.01M1245.7 690.8h.01M1237.8 691.5h.01M1227.7 679h.01M1235.1 689.4h.01M1223.9 676h.01M1226.5 686.8h.01M1235.5 694.9h.01M1233.2 700h.01M1225 697.3h.01M1226.8 677.7h.01M1233.4 699.8h.01M1220.4 676.6h.01M1233.2 683.2h.01M1236 697.9h.01M1237.5 697.4h.01M1225.2 695.1h.01M1233.6 699.9h.01M1179.8 724.6h.01M1182.6 715.2h.01M1179.9 720.5h.01M1176 715.5h.01M1176.9 718.2h.01M1178.6 714.8h.01M1182.4 715.1h.01M1187.7 722h.01M1185.8 719.7h.01M1183.1 718h.01M1189.8 716.2h.01M1193.7 716.3h.01M1169.1 720.5h.01M1185.7 714.7h.01M1182.1 719.8h.01M1178.9 721h.01M1186.4 716.9h.01M1182.5 711h.01M1182.4 720.1h.01M1180.4 725h.01M1194.9 720.5h.01M1185.7 718.4h.01M1176.6 716.3h.01M1184.6 720.1h.01M1182.5 722.6h.01M1181.5 717.9h.01M1170.7 722.1h.01M1178.8 711.2h.01M1177.1 717.4h.01M1163.1 716.8h.01M1188.6 715.1h.01M1176 716.4h.01M1172 718.8h.01M1176 716h.01M1173 717.6h.01M1182.8 725.4h.01M1179.2 713.5h.01M1180.2 727.2h.01M1182.9 712.4h.01M1186.1 714.8h.01M1182.1 721.4h.01M1182.1 714.2h.01M1165.2 719.2h.01M1172.5 722.4h.01M1183.2 723.1h.01M1188.2 719.9h.01M1149.8 726h.01M1155.8 723.4h.01M1153.8 724.3h.01M1150.8 726.2h.01M1153.1 723.9h.01M1157.3 722.7h.01M1205.1 699.9h.01M1202.4 702.7h.01M1200.1 706.2h.01M1206.5 698.1h.01M1199.4 704.8h.01M1206.6 697.5h.01M1198.4 711.8h.01M1206.8 695.2h.01M1038.5 698.1h.01M1042.7 698.9h.01M1036.7 703.5h.01M1042.2 698.3h.01M1047.1 697h.01M1040.7 702.1h.01M1040.8 700h.01M1037 706.6h.01M1042.1 705.7h.01M1040.3 700.3h.01M1044.5 701.8h.01M1038.7 696.4h.01M1038.9 705.3h.01M1041 698.8h.01M1035.8 702.1h.01M1042.4 702.2h.01M1046.2 699h.01M1044.8 703.6h.01M1036.6 706.1h.01M1040.3 698.3h.01M1049.6 703h.01M1045 696.1h.01M1040.8 703.8h.01M1046 703.8h.01M1051.2 703.7h.01M1037.5 697.9h.01M1047.9 702.9h.01M1039.9 701.6h.01M1043.9 700.6h.01M1044 696.7h.01M1079.1 722.1h.01M1094.4 733.8h.01M1061.4 707.5h.01M1067.7 715.6h.01M1064.4 713.9h.01M1084.4 731.3h.01M1067.7 718.9h.01M1094.2 736.3h.01M1090.3 732.9h.01M1058 705.8h.01M1071.9 722.1h.01M1065.4 712.6h.01M1058.6 706.7h.01M1083.1 732.3h.01M1089 733.6h.01M1065.9 719.5h.01M1077.7 722.3h.01M1092.1 734.2h.01M1068 720h.01M1065.3 709.7h.01M1063.7 708.7h.01M1059.7 705.7h.01M1069.2 722.5h.01M1084.8 728h.01M1062.6 709.6h.01M1064.9 696.2h.01M1065.5 697.3h.01M1065.9 696.9h.01M1064.7 696.2h.01M1072.9 692.3h.01M1072.5 690.7h.01M1073.1 693.1h.01M1072.1 690.5h.01M1075.9 741.4h.01M1076.8 739.5h.01M1077.9 742.6h.01M1076.5 742.2h.01M1080.8 740.7h.01M1086.4 742.3h.01M1074.2 741.4h.01M1078.8 742.2h.01M1085.2 742.6h.01M1081.3 742.6h.01M1087.2 741.3h.01M1078.5 739.8h.01M1077.9 740.2h.01M1073.3 741.7h.01M1080.8 742.9h.01M1041.1 735.1h.01M1040.8 736.5h.01M1040.7 735.3h.01M1042.4 736.3h.01M1041.3 735.4h.01M1042.6 737.3h.01M1041 745.5h.01M1039.7 746.4h.01M1043.5 744.5h.01M1045 744.2h.01M1042.4 745.8h.01M1046.8 744.3h.01M1045.5 744.6h.01M1039.9 745.3h.01M952.6 745.6h.01M949.8 738.9h.01M950.6 744.1h.01M951.6 741.4h.01M949.5 738.5h.01M951.2 743.6h.01M949.4 741.1h.01M949 741.3h.01M949.1 739.3h.01M949.4 740.3h.01M951.4 744h.01M953.4 743.7h.01M960 734.2h.01M956.8 734.3h.01M958.3 732.9h.01M956.9 734.5h.01M957.6 733.7h.01M958 735.1h.01M1002.1 753h.01M1006.9 757.8h.01M1003.3 752.5h.01M1004.3 753.9h.01M1004.1 753.9h.01M1006.2 756.7h.01M1005.4 755.2h.01M1007.5 756.3h.01M1000.8 751.4h.01M1006.8 757.2h.01M950.7 750.3h.01M951.7 759.2h.01M967.7 762.2h.01M1012.5 762.2h.01M912.9 624.1h.01M920.8 627.7h.01M935.8 646.6h.01M884.3 668h.01M896.9 677.5h.01M906.5 673.5h.01M915.8 673.1h.01M902.9 724.4h.01M954.1 620.7h.01M960.7 592.8h.01M995.6 626.7h.01M1007.5 632.7h.01M1016.5 589.2h.01M1018.5 598.2h.01M1030.4 653.2h.01M972.6 666h.01M974.6 667.6h.01M946.7 679.5h.01M951.7 685.5h.01M946.7 694.5h.01M950.3 698.5h.01M1037.4 679.1h.01M994.6 702.4h.01M991.6 713.4h.01M1022.5 721.4h.01M1032.4 724.4h.01M1018.5 734.3h.01M1007.5 735.3h.01M1014.5 740.3h.01M1035.4 732.3h.01M1063.3 588.2h.01M1087.2 583.3h.01M1127.1 584.3h.01M1131.1 579.9h.01M1128.1 591.8h.01M1133.1 595.4h.01M1134.1 646.2h.01M1172.9 658.6h.01M1082.3 672.9h.01M1178.9 678.5h.01M1189.9 678.5h.01M1196.9 682.5h.01M1192.9 683.5h.01M1128.1 696.5h.01M1146 699.4h.01M1100.2 707.4h.01M1104.2 716.4h.01M1089.2 717.4h.01M1100.2 723.4h.01M1118.1 727.4h.01M1120.1 738.3h.01M1143 734.9h.01M1167 738.9h.01M1205.8 738.9h.01M1195.9 735.7h.01M1133.1 756.3h.01M1071.3 762.2h.01M1058.3 749.3h.01M1068.3 745.3h.01M1029.4 754.3h.01M1078.3 776.2h.01M1078.3 779.2h.01M1088.2 772.8h.01M1074.3 789.1h.01M1080.3 792.7h.01M1086.2 794.7h.01M1090.2 795.5h.01M1147 777.2h.01M1153 779.6h.01M1150 783.8h.01M1155 783.6h.01M1021.5 800.5h.01M1178.9 705.4h.01M1199.8 725.4h.01" stroke="#f57c0e" stroke-width="2.7"/>
<path d="M1351 702.2h.01M1353.4 704.7h.01M1348.6 702.9h.01M1343.9 702.3h.01M1339.2 702.3h.01M1358.2 700.5h.01M1348.3 701.6h.01M1352.5 703.4h.01M1341.1 702h.01M1349.2 700.4h.01M1335.4 704.9h.01M1351.2 703.3h.01M1346.9 702.4h.01M1346.9 704.3h.01M1338.9 701.2h.01M1345.4 704.3h.01M1344.3 705.3h.01M1346.1 701.3h.01M1346.4 701.6h.01M1358.2 702.6h.01M1345.3 702.2h.01M1352.8 703.9h.01M1345.9 721.4h.01M1349.8 725.4h.01M1347.8 729.3h.01M1350.8 713.4h.01M1389.3 746.6h.01M1383.2 730.2h.01M1385.9 740.1h.01M1388 748.3h.01M1390 752.1h.01M1389.4 746.8h.01M1385.1 742h.01M1387.6 736.3h.01M1387.4 755h.01M1388.1 751.9h.01M1390.5 754.4h.01M1390.2 748.8h.01M1387.1 756.3h.01M1387.5 735.5h.01M1386.8 754.8h.01M1385.4 747.3h.01M1389 745.2h.01M1384.4 757.5h.01M1390.3 759.5h.01M1387.3 734.8h.01M1387.1 757.9h.01M1382.9 735.5h.01M1387.5 756.5h.01M1385.8 733.8h.01M1386.5 742.8h.01M1388.2 751.9h.01M1385.2 739.7h.01M1388.5 741.1h.01M1387.9 755.1h.01M1385.9 742.6h.01M1384.5 729.9h.01M1387.2 756.4h.01M1386.3 755.2h.01M1388.7 755.7h.01M1388.6 752.7h.01M1387.3 741.9h.01M1386.2 731.9h.01M1384.5 732.8h.01M1389.1 746h.01M1389 745.4h.01M1387.1 755.3h.01M1387.7 743.2h.01M1388.6 756h.01M1387.7 746.2h.01M1387.3 746.1h.01M1386.1 741.3h.01M1397.4 739h.01M1394.2 734h.01M1396.5 736.4h.01M1392.1 730.7h.01M1394.3 735.7h.01M1396.3 737h.01M1391.2 730.4h.01M1393.6 734.5h.01M1395.4 734.1h.01M1394.5 733h.01M1478.8 719h.01M1456.5 722.9h.01M1482.5 719.7h.01M1480.1 719.5h.01M1450.2 718h.01M1452.3 719.3h.01M1460.6 720.3h.01M1462.3 721.6h.01M1475 717.6h.01M1472.3 720.1h.01M1463.7 717h.01M1465.6 720.4h.01M1473.2 716.3h.01M1471.5 720.9h.01M1465.1 718.5h.01M1476.6 717.7h.01M1478 719.7h.01M1451.3 719.6h.01M1466 723.1h.01M1477.2 717.3h.01M1457.5 719h.01M1483.3 721.2h.01M1481.6 720.9h.01M1447.4 720.9h.01M1460.4 719.2h.01M1460.6 720.1h.01M1467.4 721.5h.01M1482.8 718.4h.01M1465.9 721.5h.01M1457 719.9h.01M1468.4 720.1h.01M1459.7 721h.01M1461.6 718.6h.01M1474.3 720.7h.01M1471.7 718.5h.01M1455.1 720.9h.01M1482.4 721.1h.01M1465.4 719.9h.01M1469.7 718.1h.01M1476.2 717.3h.01M1469.9 726h.01M1470 722.2h.01M1469.4 726.8h.01M1471.5 729.6h.01M1470.1 727.8h.01M1470.4 723.2h.01M1470.3 722.7h.01M1469.9 728.2h.01M1470.5 725.9h.01M1470.7 729.7h.01M1477.4 735.3h.01M1474.8 699.1h.01M1467.3 703.1h.01M1472.8 701.2h.01M1471.3 703.2h.01M1467.5 701h.01M1473.9 702.6h.01M1484.9 698.1h.01M1467.4 702.4h.01M1475.5 700.9h.01M1465.5 702h.01M1611.9 659.9h.01M1599.5 661.6h.01M1612.5 658.8h.01M1605.9 660.8h.01M1603.8 660.6h.01M1595.6 660.4h.01M1607.8 661h.01M1599.9 659.5h.01M1605.8 659.3h.01M1607 660h.01M1603.3 660.8h.01M1606.2 659.6h.01M1601.9 664.4h.01M1593.4 665.4h.01M1603.9 660.1h.01M1610.3 661.9h.01M1602.2 658.5h.01M1611.7 660.9h.01M1602.6 659.1h.01M1603.1 662.2h.01M1614.9 660h.01M1611.9 660.8h.01M1604.5 665h.01M1608.5 663.8h.01M1604.8 662.8h.01M1608.9 659.8h.01M1599.3 662.3h.01M1603.5 660.8h.01M1589.9 696.9h.01M1584 700.7h.01M1588.2 699.1h.01M1588.7 697.8h.01M1587.8 699.8h.01M1585.3 700.5h.01M1589.2 696.5h.01M1586.3 699.9h.01M1582.7 700.6h.01M1582.1 700.2h.01M1579.3 701h.01M1579.8 699.7h.01M1578 713.4h.01M1579 711.4h.01M1530.5 734.7h.01M1522.5 729.8h.01M1536.3 729.8h.01M1529.2 730.8h.01M1531.2 733.1h.01M1539.3 734.1h.01M1536.5 728.8h.01M1528.5 729.9h.01M1523.7 734.9h.01M1540 737.1h.01M1534.3 729.3h.01M1535.1 736.6h.01M1538.2 729.5h.01M1535 736.4h.01M1542.5 732.7h.01M1556.1 725.4h.01M1573.7 733h.01M1573.8 733.8h.01M1569.6 732.3h.01M1570.1 732h.01M1572.9 732.6h.01M1575.7 734.8h.01M1572.3 733.8h.01M1573.2 733.7h.01M1556.1 757.2h.01M1572.1 757.2h.01M1583 743.3h.01M1585 775.2h.01M1589.9 779.3h.01M1586.9 777.9h.01M1588.8 781.4h.01M1589.4 777.7h.01M1589.5 779.9h.01M1676.7 684.7h.01M1677.4 684.5h.01M1675.6 684h.01M1677.4 685.3h.01M1487.4 805.1h.01M1488.4 813.1h.01M1486.4 808.1h.01M1489.3 811.1h.01M1498.3 742.7h.01M1502.1 744.9h.01M1497.9 741.6h.01M1501.7 744.9h.01M1498.3 742.6h.01M1519.7 743.6h.01M1519.1 743.5h.01M1515.7 742.4h.01M1515.1 741.7h.01M1515.1 741.6h.01M1459.5 741.3h.01M1458.5 747.3h.01M1410.6 661.6h.01M1399.7 605.8h.01M1402.7 707.4h.01M1403.6 705.8h.01M1401.7 709.4h.01M1430.6 715.4h.01M1434.5 704.4h.01M1449.5 713.4h.01M1446.5 735.3h.01M1423.6 756.3h.01" stroke="#fff" stroke-opacity=".88" stroke-width="5"/>
<path d="M1351 702.2h.01M1353.4 704.7h.01M1348.6 702.9h.01M1343.9 702.3h.01M1339.2 702.3h.01M1358.2 700.5h.01M1348.3 701.6h.01M1352.5 703.4h.01M1341.1 702h.01M1349.2 700.4h.01M1335.4 704.9h.01M1351.2 703.3h.01M1346.9 702.4h.01M1346.9 704.3h.01M1338.9 701.2h.01M1345.4 704.3h.01M1344.3 705.3h.01M1346.1 701.3h.01M1346.4 701.6h.01M1358.2 702.6h.01M1345.3 702.2h.01M1352.8 703.9h.01M1345.9 721.4h.01M1349.8 725.4h.01M1347.8 729.3h.01M1350.8 713.4h.01M1389.3 746.6h.01M1383.2 730.2h.01M1385.9 740.1h.01M1388 748.3h.01M1390 752.1h.01M1389.4 746.8h.01M1385.1 742h.01M1387.6 736.3h.01M1387.4 755h.01M1388.1 751.9h.01M1390.5 754.4h.01M1390.2 748.8h.01M1387.1 756.3h.01M1387.5 735.5h.01M1386.8 754.8h.01M1385.4 747.3h.01M1389 745.2h.01M1384.4 757.5h.01M1390.3 759.5h.01M1387.3 734.8h.01M1387.1 757.9h.01M1382.9 735.5h.01M1387.5 756.5h.01M1385.8 733.8h.01M1386.5 742.8h.01M1388.2 751.9h.01M1385.2 739.7h.01M1388.5 741.1h.01M1387.9 755.1h.01M1385.9 742.6h.01M1384.5 729.9h.01M1387.2 756.4h.01M1386.3 755.2h.01M1388.7 755.7h.01M1388.6 752.7h.01M1387.3 741.9h.01M1386.2 731.9h.01M1384.5 732.8h.01M1389.1 746h.01M1389 745.4h.01M1387.1 755.3h.01M1387.7 743.2h.01M1388.6 756h.01M1387.7 746.2h.01M1387.3 746.1h.01M1386.1 741.3h.01M1397.4 739h.01M1394.2 734h.01M1396.5 736.4h.01M1392.1 730.7h.01M1394.3 735.7h.01M1396.3 737h.01M1391.2 730.4h.01M1393.6 734.5h.01M1395.4 734.1h.01M1394.5 733h.01M1478.8 719h.01M1456.5 722.9h.01M1482.5 719.7h.01M1480.1 719.5h.01M1450.2 718h.01M1452.3 719.3h.01M1460.6 720.3h.01M1462.3 721.6h.01M1475 717.6h.01M1472.3 720.1h.01M1463.7 717h.01M1465.6 720.4h.01M1473.2 716.3h.01M1471.5 720.9h.01M1465.1 718.5h.01M1476.6 717.7h.01M1478 719.7h.01M1451.3 719.6h.01M1466 723.1h.01M1477.2 717.3h.01M1457.5 719h.01M1483.3 721.2h.01M1481.6 720.9h.01M1447.4 720.9h.01M1460.4 719.2h.01M1460.6 720.1h.01M1467.4 721.5h.01M1482.8 718.4h.01M1465.9 721.5h.01M1457 719.9h.01M1468.4 720.1h.01M1459.7 721h.01M1461.6 718.6h.01M1474.3 720.7h.01M1471.7 718.5h.01M1455.1 720.9h.01M1482.4 721.1h.01M1465.4 719.9h.01M1469.7 718.1h.01M1476.2 717.3h.01M1469.9 726h.01M1470 722.2h.01M1469.4 726.8h.01M1471.5 729.6h.01M1470.1 727.8h.01M1470.4 723.2h.01M1470.3 722.7h.01M1469.9 728.2h.01M1470.5 725.9h.01M1470.7 729.7h.01M1477.4 735.3h.01M1474.8 699.1h.01M1467.3 703.1h.01M1472.8 701.2h.01M1471.3 703.2h.01M1467.5 701h.01M1473.9 702.6h.01M1484.9 698.1h.01M1467.4 702.4h.01M1475.5 700.9h.01M1465.5 702h.01M1611.9 659.9h.01M1599.5 661.6h.01M1612.5 658.8h.01M1605.9 660.8h.01M1603.8 660.6h.01M1595.6 660.4h.01M1607.8 661h.01M1599.9 659.5h.01M1605.8 659.3h.01M1607 660h.01M1603.3 660.8h.01M1606.2 659.6h.01M1601.9 664.4h.01M1593.4 665.4h.01M1603.9 660.1h.01M1610.3 661.9h.01M1602.2 658.5h.01M1611.7 660.9h.01M1602.6 659.1h.01M1603.1 662.2h.01M1614.9 660h.01M1611.9 660.8h.01M1604.5 665h.01M1608.5 663.8h.01M1604.8 662.8h.01M1608.9 659.8h.01M1599.3 662.3h.01M1603.5 660.8h.01M1589.9 696.9h.01M1584 700.7h.01M1588.2 699.1h.01M1588.7 697.8h.01M1587.8 699.8h.01M1585.3 700.5h.01M1589.2 696.5h.01M1586.3 699.9h.01M1582.7 700.6h.01M1582.1 700.2h.01M1579.3 701h.01M1579.8 699.7h.01M1578 713.4h.01M1579 711.4h.01M1530.5 734.7h.01M1522.5 729.8h.01M1536.3 729.8h.01M1529.2 730.8h.01M1531.2 733.1h.01M1539.3 734.1h.01M1536.5 728.8h.01M1528.5 729.9h.01M1523.7 734.9h.01M1540 737.1h.01M1534.3 729.3h.01M1535.1 736.6h.01M1538.2 729.5h.01M1535 736.4h.01M1542.5 732.7h.01M1556.1 725.4h.01M1573.7 733h.01M1573.8 733.8h.01M1569.6 732.3h.01M1570.1 732h.01M1572.9 732.6h.01M1575.7 734.8h.01M1572.3 733.8h.01M1573.2 733.7h.01M1556.1 757.2h.01M1572.1 757.2h.01M1583 743.3h.01M1585 775.2h.01M1589.9 779.3h.01M1586.9 777.9h.01M1588.8 781.4h.01M1589.4 777.7h.01M1589.5 779.9h.01M1676.7 684.7h.01M1677.4 684.5h.01M1675.6 684h.01M1677.4 685.3h.01M1487.4 805.1h.01M1488.4 813.1h.01M1486.4 808.1h.01M1489.3 811.1h.01M1498.3 742.7h.01M1502.1 744.9h.01M1497.9 741.6h.01M1501.7 744.9h.01M1498.3 742.6h.01M1519.7 743.6h.01M1519.1 743.5h.01M1515.7 742.4h.01M1515.1 741.7h.01M1515.1 741.6h.01M1459.5 741.3h.01M1458.5 747.3h.01M1410.6 661.6h.01M1399.7 605.8h.01M1402.7 707.4h.01M1403.6 705.8h.01M1401.7 709.4h.01M1430.6 715.4h.01M1434.5 704.4h.01M1449.5 713.4h.01M1446.5 735.3h.01M1423.6 756.3h.01" stroke="#8fd67f" stroke-width="2.3"/>
<path d="M1778.2 622.7h.01M1793.8 658.6h.01M1776.8 713h.01M1884 585.4h.01M1882.4 647.2h.01M1874.1 681.5h.01M1920.9 660.6h.01M1938.3 675.5h.01M1939.3 680.5h.01M1900.4 699.1h.01M1910.4 695.9h.01M1916.3 696.5h.01M1921.3 701.4h.01M1927.9 705h.01M1930.3 706.8h.01M1880.5 711.4h.01M1881.5 713h.01M1839 705.4h.01M1837 707.8h.01M1872.9 747.3h.01M1858.1 756.8h.01M1917.3 762.2h.01M1936.9 791.1h.01M1945.2 737.3h.01M2035.9 607.4h.01M2089.7 705.8h.01" stroke="#fff" stroke-opacity=".88" stroke-width="5.8"/>
<path d="M1778.2 622.7h.01M1793.8 658.6h.01M1776.8 713h.01M1884 585.4h.01M1882.4 647.2h.01M1874.1 681.5h.01M1920.9 660.6h.01M1938.3 675.5h.01M1939.3 680.5h.01M1900.4 699.1h.01M1910.4 695.9h.01M1916.3 696.5h.01M1921.3 701.4h.01M1927.9 705h.01M1930.3 706.8h.01M1880.5 711.4h.01M1881.5 713h.01M1839 705.4h.01M1837 707.8h.01M1872.9 747.3h.01M1858.1 756.8h.01M1917.3 762.2h.01M1936.9 791.1h.01M1945.2 737.3h.01M2035.9 607.4h.01M2089.7 705.8h.01" stroke="#5e4f88" stroke-width="2.7"/>
<path d="M1826.2 741h.01M1815.1 745.8h.01M1823.3 735.3h.01M1830.2 743.2h.01M1821.3 745.1h.01M1820.3 736h.01M1815.1 742.8h.01M1821.4 732.1h.01M1831.2 743.6h.01M1829.8 742.2h.01M1817 742h.01M1830.2 745.7h.01M1828.6 737.3h.01M1820 737.7h.01M1831.2 747.7h.01M1835.2 738.8h.01M1822.5 741.4h.01M1818.9 744.7h.01M1829.5 740.6h.01M1836.2 735.2h.01M1816.2 739.8h.01M1825.6 735.8h.01M1819.6 743.3h.01M1826.6 737.1h.01M1823.2 744.9h.01M1824.8 739.2h.01M1826.3 745.9h.01M1828.4 746.1h.01M1818.1 745.4h.01M1830.2 736.5h.01M1829.1 741.3h.01M1817.2 740h.01M1831.1 735h.01M1825.3 736.3h.01M1827.3 751.8h.01M1831.3 736.7h.01M1821.7 756.3h.01M1825.6 756.8h.01M1833.6 766.8h.01M1839 768.8h.01M1892.4 799.5h.01M1905.4 803.4h.01M1894.5 800.5h.01M1903.9 803h.01M1890.5 797.9h.01M1887.9 798.6h.01M1905.6 804.7h.01M1900.9 801.6h.01M1891.1 799.1h.01M1902.7 805h.01M1892.5 797h.01M1885.1 798.7h.01M1924.6 804.1h.01M1921.6 803.7h.01M1924.5 804.3h.01M1919 803.6h.01M1922.3 804.3h.01M1923 804.3h.01M1920.4 814h.01M1919.8 813.2h.01M1920.7 812.6h.01M1916.2 812.5h.01M1928 811.9h.01M1924 815.1h.01M1922.8 812.8h.01M1918 810.1h.01M1920 812.9h.01M1926.8 813.6h.01M1919.8 813.6h.01M1917 810.8h.01M1925.1 816h.01M1924.3 812.4h.01M1921.1 812.6h.01M1904.4 812.1h.01M1903.4 817h.01M1907.4 818h.01M1932.3 817.4h.01M1890.4 724.4h.01M1893.4 721.4h.01M1898.4 717.8h.01M1914.3 719.4h.01M1919.3 722.4h.01M1922.3 720.4h.01M1907.7 718.2h.01M1909.7 724.2h.01M1899.2 719.9h.01M1904 717.5h.01M1905 717.7h.01M1906 722.2h.01M1905.9 720.8h.01M1904 725.1h.01M1905 720.6h.01M1907 723.5h.01M1905.4 731.3h.01M1907.4 728.3h.01M1908.4 733.3h.01M1904.4 730.3h.01M1906.8 726.4h.01M1976.8 735.6h.01M1973.8 737h.01M1973.3 735.3h.01M1962.6 731.7h.01M1975.4 735.3h.01M1977.4 734.4h.01M1978.8 736.7h.01M1982.3 734h.01M1975.8 737h.01M1969.8 736.7h.01M1977.1 734.7h.01M1977 737.6h.01M1976.5 734.6h.01M1982 733.7h.01M1966.7 733h.01M1975.9 741.5h.01M1970.8 732.4h.01M1978 733.7h.01M1973.8 733.8h.01M1988.9 738.9h.01M1966.3 735h.01M1980 738.9h.01M1973.2 739.1h.01M1984.7 737h.01M1971 734.1h.01M1988.7 737.7h.01M2012 700.4h.01M2017 704.4h.01M2023 700.4h.01M2014 706.4h.01M2011.7 712.7h.01M2010.6 713.6h.01M2011.1 711.9h.01M2011 714h.01M2012.3 712.8h.01M2011.9 712h.01M2013 712.6h.01M2012.1 713.7h.01M2012.5 711.7h.01M2048.6 739.1h.01M2041.7 735h.01M2026 735.8h.01M2025.1 739.5h.01M2023.9 735.3h.01M2044.6 740.2h.01M2051.9 739.8h.01M2057.9 738h.01M2058 737.1h.01M2022.2 737.8h.01M2057.7 737.2h.01M2051.4 742h.01M2045 738.1h.01M2060.4 738h.01M2046.6 737.2h.01M2038.3 739.2h.01M2034.9 739.5h.01M2052.6 739.6h.01M2040.5 741.6h.01M2050.2 738.8h.01M2040 742.6h.01M2053.9 738.2h.01M2057.6 740.6h.01M2049.5 737.3h.01M2042.6 739.5h.01M2038.9 736.5h.01M2048.4 736.8h.01M2057.6 740.1h.01M2058.7 739.1h.01M2022.6 735.3h.01M2054.5 740.5h.01M2023.8 734.4h.01M2030.9 737.3h.01M2043.9 742.4h.01M2054.8 742.2h.01M2029.2 737.3h.01M2063.6 735.8h.01M2030 736.6h.01M2032.4 738.4h.01M2040.3 737.7h.01M2055.6 737.3h.01M2036.9 739.9h.01M2025 724.4h.01M2025 729.3h.01M2010 733.3h.01M2010.3 743.8h.01M2008.4 744.5h.01M2009.6 747.9h.01M2008.1 744.7h.01M2006.8 743.8h.01M2008 747.1h.01M2005.7 745.4h.01M2008 744.6h.01M2020.2 749.1h.01M2024.2 748h.01M2019.8 749.3h.01M2020.4 749h.01M2020.3 748h.01M2022.1 747.3h.01M2013.2 758.8h.01M2001.6 757.5h.01M2009.9 755.1h.01M2001.7 764.1h.01M1993.5 755.4h.01M1993.4 766.9h.01M1985.6 757h.01M2002.6 754.4h.01M2013.9 757.7h.01M2012.3 757.3h.01M2004.3 758h.01M2005 760.7h.01M1988.2 758.5h.01M2013.4 761.2h.01M2001.3 754.4h.01M1995.4 762.5h.01M2006.3 756.2h.01M2016.7 759.6h.01M1995.9 767.9h.01M1997.6 764.6h.01M2015.2 759.7h.01M2001.3 762.3h.01M2013.7 765.4h.01M2009.8 755.4h.01M2007.6 754.5h.01M2009 774.2h.01M2014 776.2h.01M2026.9 772.2h.01M2029.9 779.2h.01" stroke="#fff" stroke-opacity=".88" stroke-width="5.8"/>
<path d="M1826.2 741h.01M1815.1 745.8h.01M1823.3 735.3h.01M1830.2 743.2h.01M1821.3 745.1h.01M1820.3 736h.01M1815.1 742.8h.01M1821.4 732.1h.01M1831.2 743.6h.01M1829.8 742.2h.01M1817 742h.01M1830.2 745.7h.01M1828.6 737.3h.01M1820 737.7h.01M1831.2 747.7h.01M1835.2 738.8h.01M1822.5 741.4h.01M1818.9 744.7h.01M1829.5 740.6h.01M1836.2 735.2h.01M1816.2 739.8h.01M1825.6 735.8h.01M1819.6 743.3h.01M1826.6 737.1h.01M1823.2 744.9h.01M1824.8 739.2h.01M1826.3 745.9h.01M1828.4 746.1h.01M1818.1 745.4h.01M1830.2 736.5h.01M1829.1 741.3h.01M1817.2 740h.01M1831.1 735h.01M1825.3 736.3h.01M1827.3 751.8h.01M1831.3 736.7h.01M1821.7 756.3h.01M1825.6 756.8h.01M1833.6 766.8h.01M1839 768.8h.01M1892.4 799.5h.01M1905.4 803.4h.01M1894.5 800.5h.01M1903.9 803h.01M1890.5 797.9h.01M1887.9 798.6h.01M1905.6 804.7h.01M1900.9 801.6h.01M1891.1 799.1h.01M1902.7 805h.01M1892.5 797h.01M1885.1 798.7h.01M1924.6 804.1h.01M1921.6 803.7h.01M1924.5 804.3h.01M1919 803.6h.01M1922.3 804.3h.01M1923 804.3h.01M1920.4 814h.01M1919.8 813.2h.01M1920.7 812.6h.01M1916.2 812.5h.01M1928 811.9h.01M1924 815.1h.01M1922.8 812.8h.01M1918 810.1h.01M1920 812.9h.01M1926.8 813.6h.01M1919.8 813.6h.01M1917 810.8h.01M1925.1 816h.01M1924.3 812.4h.01M1921.1 812.6h.01M1904.4 812.1h.01M1903.4 817h.01M1907.4 818h.01M1932.3 817.4h.01M1890.4 724.4h.01M1893.4 721.4h.01M1898.4 717.8h.01M1914.3 719.4h.01M1919.3 722.4h.01M1922.3 720.4h.01M1907.7 718.2h.01M1909.7 724.2h.01M1899.2 719.9h.01M1904 717.5h.01M1905 717.7h.01M1906 722.2h.01M1905.9 720.8h.01M1904 725.1h.01M1905 720.6h.01M1907 723.5h.01M1905.4 731.3h.01M1907.4 728.3h.01M1908.4 733.3h.01M1904.4 730.3h.01M1906.8 726.4h.01M1976.8 735.6h.01M1973.8 737h.01M1973.3 735.3h.01M1962.6 731.7h.01M1975.4 735.3h.01M1977.4 734.4h.01M1978.8 736.7h.01M1982.3 734h.01M1975.8 737h.01M1969.8 736.7h.01M1977.1 734.7h.01M1977 737.6h.01M1976.5 734.6h.01M1982 733.7h.01M1966.7 733h.01M1975.9 741.5h.01M1970.8 732.4h.01M1978 733.7h.01M1973.8 733.8h.01M1988.9 738.9h.01M1966.3 735h.01M1980 738.9h.01M1973.2 739.1h.01M1984.7 737h.01M1971 734.1h.01M1988.7 737.7h.01M2012 700.4h.01M2017 704.4h.01M2023 700.4h.01M2014 706.4h.01M2011.7 712.7h.01M2010.6 713.6h.01M2011.1 711.9h.01M2011 714h.01M2012.3 712.8h.01M2011.9 712h.01M2013 712.6h.01M2012.1 713.7h.01M2012.5 711.7h.01M2048.6 739.1h.01M2041.7 735h.01M2026 735.8h.01M2025.1 739.5h.01M2023.9 735.3h.01M2044.6 740.2h.01M2051.9 739.8h.01M2057.9 738h.01M2058 737.1h.01M2022.2 737.8h.01M2057.7 737.2h.01M2051.4 742h.01M2045 738.1h.01M2060.4 738h.01M2046.6 737.2h.01M2038.3 739.2h.01M2034.9 739.5h.01M2052.6 739.6h.01M2040.5 741.6h.01M2050.2 738.8h.01M2040 742.6h.01M2053.9 738.2h.01M2057.6 740.6h.01M2049.5 737.3h.01M2042.6 739.5h.01M2038.9 736.5h.01M2048.4 736.8h.01M2057.6 740.1h.01M2058.7 739.1h.01M2022.6 735.3h.01M2054.5 740.5h.01M2023.8 734.4h.01M2030.9 737.3h.01M2043.9 742.4h.01M2054.8 742.2h.01M2029.2 737.3h.01M2063.6 735.8h.01M2030 736.6h.01M2032.4 738.4h.01M2040.3 737.7h.01M2055.6 737.3h.01M2036.9 739.9h.01M2025 724.4h.01M2025 729.3h.01M2010 733.3h.01M2010.3 743.8h.01M2008.4 744.5h.01M2009.6 747.9h.01M2008.1 744.7h.01M2006.8 743.8h.01M2008 747.1h.01M2005.7 745.4h.01M2008 744.6h.01M2020.2 749.1h.01M2024.2 748h.01M2019.8 749.3h.01M2020.4 749h.01M2020.3 748h.01M2022.1 747.3h.01M2013.2 758.8h.01M2001.6 757.5h.01M2009.9 755.1h.01M2001.7 764.1h.01M1993.5 755.4h.01M1993.4 766.9h.01M1985.6 757h.01M2002.6 754.4h.01M2013.9 757.7h.01M2012.3 757.3h.01M2004.3 758h.01M2005 760.7h.01M1988.2 758.5h.01M2013.4 761.2h.01M2001.3 754.4h.01M1995.4 762.5h.01M2006.3 756.2h.01M2016.7 759.6h.01M1995.9 767.9h.01M1997.6 764.6h.01M2015.2 759.7h.01M2001.3 762.3h.01M2013.7 765.4h.01M2009.8 755.4h.01M2007.6 754.5h.01M2009 774.2h.01M2014 776.2h.01M2026.9 772.2h.01M2029.9 779.2h.01" stroke="#7d52b5" stroke-width="2.7"/>
<path d="M44 1052.9h.01M50.8 1053.9h.01M56.2 1056.2h.01M47.4 1050.3h.01M56 1055.5h.01M48 1050.7h.01M50 1048.9h.01M59.7 1057.5h.01M55.8 1055.5h.01M59.9 1058.2h.01M55.6 1051.9h.01M45.8 1047.2h.01M59.8 1060.8h.01M55.2 1054.5h.01M61.7 1061.3h.01M58.7 1058h.01M55.8 1053h.01M45.1 1046.4h.01M46.6 1049.8h.01M59.9 1060h.01M48.2 1050.3h.01M45.5 1050.1h.01M61.6 1059.3h.01M57.2 1056.9h.01M42.3 1048.8h.01M53.9 1054.6h.01M79.9 1078.5h.01M89.7 1079.5h.01M87.6 1078.8h.01M82.4 1078.2h.01M83.1 1078.5h.01M84 1079.9h.01M80.6 1079.7h.01M84.8 1078.2h.01M79.9 1080.2h.01M87.1 1079.6h.01M76.7 1079.5h.01M90 1080.1h.01M79.8 1093.1h.01M79.4 1092h.01M80.5 1102.2h.01M81.9 1092.2h.01M81.1 1103.4h.01M82.7 1096.3h.01M82.8 1100.7h.01M78.9 1097.6h.01M81.8 1099.5h.01M80.9 1090.2h.01M78 1091h.01M80.8 1095.6h.01M77.1 1093.1h.01M81.4 1100.7h.01M79 1093.6h.01M79.2 1087.8h.01M78.9 1096.9h.01M82.1 1102.5h.01M88.7 1087.3h.01M89.7 1086.3h.01M88.3 1088.9h.01M165.7 1041.1h.01M174.7 1047.7h.01M189.6 1057.1h.01M178.4 1049.1h.01M184.9 1051.2h.01M170 1044h.01M187.7 1053.6h.01M183.7 1049.5h.01M177.9 1044.1h.01M185.1 1051.2h.01M179.6 1049.3h.01M172.9 1039.2h.01M172.9 1043.6h.01M180 1048.1h.01M182.3 1047.1h.01M189 1053.5h.01M184.1 1050.9h.01M186.8 1054.3h.01M183.9 1047.6h.01M184.4 1051.1h.01M166.7 1042.5h.01M174.7 1046.9h.01M191.2 1054.4h.01M179.4 1047.4h.01M188.2 1054.1h.01M182.8 1050.9h.01M168.4 1051.5h.01M162.6 1050.7h.01M173.9 1051.9h.01M166.9 1049.2h.01M166.9 1052.3h.01M164.7 1049.7h.01M171.1 1052.9h.01M162 1049.7h.01M164.9 1049h.01M167.3 1051.5h.01M169.5 1070.5h.01M159.7 1071.6h.01M162.8 1071.4h.01M164 1068.7h.01M167.6 1069.1h.01M163 1067.5h.01M162.7 1068.2h.01M165.6 1070.5h.01M167.7 1069.5h.01M162 1071.4h.01M166.4 1064.5h.01M165.4 1069.8h.01M171.4 1082.3h.01M170.4 1080.9h.01M119.9 1109.4h.01M120.8 1092.3h.01M126.6 1104.6h.01M133.5 1094.5h.01M136.4 1107.4h.01M135.2 1104.1h.01M145.2 1094h.01M137.6 1100.1h.01M125 1103.7h.01M133 1110.2h.01M124.4 1099.9h.01M130.7 1107.8h.01M140.6 1103h.01M119.1 1100.4h.01M140.1 1101.4h.01M144.7 1091.6h.01M139.8 1092.7h.01M142.2 1100.1h.01M133.9 1100.2h.01M132.2 1108.2h.01M125.3 1100.9h.01M142.2 1097.5h.01M143.1 1097.7h.01M128 1107.9h.01M125.3 1102.9h.01M214.3 1091.3h.01M216.2 1093.3h.01M199.3 1111.2h.01M227.2 1117.2h.01M226.2 1123.2h.01M178.4 1107.2h.01M177.4 1108.8h.01M200.3 1113.2h.01M217.7 1101.7h.01M200.4 1096.9h.01M217.8 1104.1h.01M213.3 1100.6h.01M206.1 1099.2h.01M212.9 1101.1h.01M198.6 1100.7h.01M207.3 1100.2h.01M219.1 1102.2h.01M203.6 1098.2h.01M228.3 1102.5h.01M229.2 1104.5h.01M228.6 1103.1h.01M229.4 1100.8h.01M228.1 1101.5h.01M228.2 1101.4h.01M229.5 1103.3h.01M229.2 1102.1h.01M224.9 1079.6h.01M241.9 1080.8h.01M242.6 1083.3h.01M235 1085.9h.01M228.6 1088.7h.01M233.4 1087h.01M239.1 1090.3h.01M231.4 1086.8h.01M240.2 1080.6h.01M234.9 1082.4h.01M247.3 1082.7h.01M233.4 1077.4h.01M248.6 1084h.01M222.7 1082.3h.01M239.8 1081.6h.01M248.9 1081.5h.01M249.5 1085.3h.01M235.7 1083.3h.01M249.5 1111.7h.01M290.9 1083.9h.01M289.5 1083.1h.01M298.4 1075.5h.01M286.9 1082h.01M315.5 1068.1h.01M296.6 1080.7h.01M277 1095h.01M286.7 1092h.01M278.1 1098.9h.01M287.6 1091.7h.01M290.1 1088.6h.01M272.5 1098.1h.01M295.5 1076.4h.01M287.5 1089.4h.01M307.8 1078.1h.01M285.6 1092.2h.01M290.5 1077.6h.01M289.3 1087.5h.01M280.8 1096.6h.01M274.2 1091h.01M306.7 1081.2h.01M313.7 1080.2h.01M287.5 1089.3h.01M276.7 1092h.01M292.3 1088.7h.01M284.6 1086.7h.01M267.9 1101.7h.01M290 1085.6h.01M298.3 1087h.01M315.2 1067.5h.01M289 1091.4h.01M320.2 1068.7h.01M286.1 1091.7h.01M306.5 1073.4h.01M291.1 1086h.01M311.9 1076.3h.01M286.7 1087.8h.01M248.2 1109.5h.01M288.5 1091.3h.01M288.2 1084.8h.01M254.9 1105.3h.01M284 1093.3h.01M317.7 1075.2h.01M291.7 1075.8h.01M307.4 1075.9h.01M296.5 1082.1h.01M316.2 1073.9h.01M278.4 1086.1h.01M282.6 1084.7h.01M276.2 1095.4h.01M296.6 1084.4h.01M293.4 1078.4h.01M292.4 1080.7h.01M254 1100.1h.01M294.5 1079.1h.01M303.7 1070.3h.01M294.7 1090.2h.01M298.5 1079.2h.01M257 1104.9h.01M294.5 1083.2h.01M275.8 1081.9h.01M273.4 1091.4h.01M274.8 1091.4h.01M268.3 1099.3h.01M274 1090.8h.01M298.3 1082h.01M298.7 1085.1h.01M280.9 1098.5h.01M286.4 1083.7h.01M307.4 1074.7h.01M280 1090.2h.01M277.8 1098.2h.01M270.3 1097.5h.01M268.5 1100.7h.01M278.8 1091h.01M275.2 1089.8h.01M286.7 1090.4h.01M271.6 1094h.01M269.6 1095.1h.01M283 1095.3h.01M267.8 1094.2h.01M262.8 1099.7h.01M275.7 1094.5h.01M276.1 1086.5h.01M264.4 1089h.01M283.1 1092.7h.01M319.9 1089.3h.01M331.8 1081.3h.01M320.9 1090.3h.01M330.8 1082.9h.01M326.9 1017.6h.01M328.9 1021.5h.01M320.9 1032.5h.01M323.9 1034.5h.01M327.9 1019.5h.01M321.9 1033.9h.01M337.8 1047.4h.01M336.8 1049.4h.01M338.4 1048.4h.01M212.3 968.7h.01M215.3 971.7h.01M224.2 971.7h.01M227.2 969.7h.01M226.2 964.7h.01M213.9 970.1h.01M295 956.8h.01M296 958.8h.01M253.1 1055.4h.01M253.7 1056.6h.01M233.2 1059.4h.01M232.2 1061h.01M198.3 1069.4h.01M197.3 1066.4h.01M276 1111.2h.01M277 1115.2h.01M274 1125.2h.01M280 1132.2h.01M286 1133.1h.01M279 1130.2h.01M264.1 1109.2h.01M268.1 1111.2h.01M184.4 905.5h.01M193.3 919.5h.01M106.6 982.1h.01M92.7 1009.6h.01M93.7 1017.6h.01M104.6 1020.5h.01M109.6 1019.5h.01M189.3 1037.5h.01M166.4 1027.5h.01" stroke="#fff" stroke-opacity=".88" stroke-width="5"/>
<path d="M44 1052.9h.01M50.8 1053.9h.01M56.2 1056.2h.01M47.4 1050.3h.01M56 1055.5h.01M48 1050.7h.01M50 1048.9h.01M59.7 1057.5h.01M55.8 1055.5h.01M59.9 1058.2h.01M55.6 1051.9h.01M45.8 1047.2h.01M59.8 1060.8h.01M55.2 1054.5h.01M61.7 1061.3h.01M58.7 1058h.01M55.8 1053h.01M45.1 1046.4h.01M46.6 1049.8h.01M59.9 1060h.01M48.2 1050.3h.01M45.5 1050.1h.01M61.6 1059.3h.01M57.2 1056.9h.01M42.3 1048.8h.01M53.9 1054.6h.01M79.9 1078.5h.01M89.7 1079.5h.01M87.6 1078.8h.01M82.4 1078.2h.01M83.1 1078.5h.01M84 1079.9h.01M80.6 1079.7h.01M84.8 1078.2h.01M79.9 1080.2h.01M87.1 1079.6h.01M76.7 1079.5h.01M90 1080.1h.01M79.8 1093.1h.01M79.4 1092h.01M80.5 1102.2h.01M81.9 1092.2h.01M81.1 1103.4h.01M82.7 1096.3h.01M82.8 1100.7h.01M78.9 1097.6h.01M81.8 1099.5h.01M80.9 1090.2h.01M78 1091h.01M80.8 1095.6h.01M77.1 1093.1h.01M81.4 1100.7h.01M79 1093.6h.01M79.2 1087.8h.01M78.9 1096.9h.01M82.1 1102.5h.01M88.7 1087.3h.01M89.7 1086.3h.01M88.3 1088.9h.01M165.7 1041.1h.01M174.7 1047.7h.01M189.6 1057.1h.01M178.4 1049.1h.01M184.9 1051.2h.01M170 1044h.01M187.7 1053.6h.01M183.7 1049.5h.01M177.9 1044.1h.01M185.1 1051.2h.01M179.6 1049.3h.01M172.9 1039.2h.01M172.9 1043.6h.01M180 1048.1h.01M182.3 1047.1h.01M189 1053.5h.01M184.1 1050.9h.01M186.8 1054.3h.01M183.9 1047.6h.01M184.4 1051.1h.01M166.7 1042.5h.01M174.7 1046.9h.01M191.2 1054.4h.01M179.4 1047.4h.01M188.2 1054.1h.01M182.8 1050.9h.01M168.4 1051.5h.01M162.6 1050.7h.01M173.9 1051.9h.01M166.9 1049.2h.01M166.9 1052.3h.01M164.7 1049.7h.01M171.1 1052.9h.01M162 1049.7h.01M164.9 1049h.01M167.3 1051.5h.01M169.5 1070.5h.01M159.7 1071.6h.01M162.8 1071.4h.01M164 1068.7h.01M167.6 1069.1h.01M163 1067.5h.01M162.7 1068.2h.01M165.6 1070.5h.01M167.7 1069.5h.01M162 1071.4h.01M166.4 1064.5h.01M165.4 1069.8h.01M171.4 1082.3h.01M170.4 1080.9h.01M119.9 1109.4h.01M120.8 1092.3h.01M126.6 1104.6h.01M133.5 1094.5h.01M136.4 1107.4h.01M135.2 1104.1h.01M145.2 1094h.01M137.6 1100.1h.01M125 1103.7h.01M133 1110.2h.01M124.4 1099.9h.01M130.7 1107.8h.01M140.6 1103h.01M119.1 1100.4h.01M140.1 1101.4h.01M144.7 1091.6h.01M139.8 1092.7h.01M142.2 1100.1h.01M133.9 1100.2h.01M132.2 1108.2h.01M125.3 1100.9h.01M142.2 1097.5h.01M143.1 1097.7h.01M128 1107.9h.01M125.3 1102.9h.01M214.3 1091.3h.01M216.2 1093.3h.01M199.3 1111.2h.01M227.2 1117.2h.01M226.2 1123.2h.01M178.4 1107.2h.01M177.4 1108.8h.01M200.3 1113.2h.01M217.7 1101.7h.01M200.4 1096.9h.01M217.8 1104.1h.01M213.3 1100.6h.01M206.1 1099.2h.01M212.9 1101.1h.01M198.6 1100.7h.01M207.3 1100.2h.01M219.1 1102.2h.01M203.6 1098.2h.01M228.3 1102.5h.01M229.2 1104.5h.01M228.6 1103.1h.01M229.4 1100.8h.01M228.1 1101.5h.01M228.2 1101.4h.01M229.5 1103.3h.01M229.2 1102.1h.01M224.9 1079.6h.01M241.9 1080.8h.01M242.6 1083.3h.01M235 1085.9h.01M228.6 1088.7h.01M233.4 1087h.01M239.1 1090.3h.01M231.4 1086.8h.01M240.2 1080.6h.01M234.9 1082.4h.01M247.3 1082.7h.01M233.4 1077.4h.01M248.6 1084h.01M222.7 1082.3h.01M239.8 1081.6h.01M248.9 1081.5h.01M249.5 1085.3h.01M235.7 1083.3h.01M249.5 1111.7h.01M290.9 1083.9h.01M289.5 1083.1h.01M298.4 1075.5h.01M286.9 1082h.01M315.5 1068.1h.01M296.6 1080.7h.01M277 1095h.01M286.7 1092h.01M278.1 1098.9h.01M287.6 1091.7h.01M290.1 1088.6h.01M272.5 1098.1h.01M295.5 1076.4h.01M287.5 1089.4h.01M307.8 1078.1h.01M285.6 1092.2h.01M290.5 1077.6h.01M289.3 1087.5h.01M280.8 1096.6h.01M274.2 1091h.01M306.7 1081.2h.01M313.7 1080.2h.01M287.5 1089.3h.01M276.7 1092h.01M292.3 1088.7h.01M284.6 1086.7h.01M267.9 1101.7h.01M290 1085.6h.01M298.3 1087h.01M315.2 1067.5h.01M289 1091.4h.01M320.2 1068.7h.01M286.1 1091.7h.01M306.5 1073.4h.01M291.1 1086h.01M311.9 1076.3h.01M286.7 1087.8h.01M248.2 1109.5h.01M288.5 1091.3h.01M288.2 1084.8h.01M254.9 1105.3h.01M284 1093.3h.01M317.7 1075.2h.01M291.7 1075.8h.01M307.4 1075.9h.01M296.5 1082.1h.01M316.2 1073.9h.01M278.4 1086.1h.01M282.6 1084.7h.01M276.2 1095.4h.01M296.6 1084.4h.01M293.4 1078.4h.01M292.4 1080.7h.01M254 1100.1h.01M294.5 1079.1h.01M303.7 1070.3h.01M294.7 1090.2h.01M298.5 1079.2h.01M257 1104.9h.01M294.5 1083.2h.01M275.8 1081.9h.01M273.4 1091.4h.01M274.8 1091.4h.01M268.3 1099.3h.01M274 1090.8h.01M298.3 1082h.01M298.7 1085.1h.01M280.9 1098.5h.01M286.4 1083.7h.01M307.4 1074.7h.01M280 1090.2h.01M277.8 1098.2h.01M270.3 1097.5h.01M268.5 1100.7h.01M278.8 1091h.01M275.2 1089.8h.01M286.7 1090.4h.01M271.6 1094h.01M269.6 1095.1h.01M283 1095.3h.01M267.8 1094.2h.01M262.8 1099.7h.01M275.7 1094.5h.01M276.1 1086.5h.01M264.4 1089h.01M283.1 1092.7h.01M319.9 1089.3h.01M331.8 1081.3h.01M320.9 1090.3h.01M330.8 1082.9h.01M326.9 1017.6h.01M328.9 1021.5h.01M320.9 1032.5h.01M323.9 1034.5h.01M327.9 1019.5h.01M321.9 1033.9h.01M337.8 1047.4h.01M336.8 1049.4h.01M338.4 1048.4h.01M212.3 968.7h.01M215.3 971.7h.01M224.2 971.7h.01M227.2 969.7h.01M226.2 964.7h.01M213.9 970.1h.01M295 956.8h.01M296 958.8h.01M253.1 1055.4h.01M253.7 1056.6h.01M233.2 1059.4h.01M232.2 1061h.01M198.3 1069.4h.01M197.3 1066.4h.01M276 1111.2h.01M277 1115.2h.01M274 1125.2h.01M280 1132.2h.01M286 1133.1h.01M279 1130.2h.01M264.1 1109.2h.01M268.1 1111.2h.01M184.4 905.5h.01M193.3 919.5h.01M106.6 982.1h.01M92.7 1009.6h.01M93.7 1017.6h.01M104.6 1020.5h.01M109.6 1019.5h.01M189.3 1037.5h.01M166.4 1027.5h.01" stroke="#fdb066" stroke-width="2.3"/>
<path d="M598.4 911.3h.01M583.9 913.9h.01M605.8 925.5h.01M695.1 926.5h.01M692.5 939.8h.01M583.1 945.4h.01M499.2 951.4h.01M740.9 953.8h.01M716.6 959.2h.01M743.5 958.8h.01M631.7 969.1h.01M751.5 976.1h.01M763.8 984.1h.01M594.8 983.7h.01M657.2 986.7h.01M491.8 991.6h.01M479.8 1001.6h.01M643.9 1002h.01M592.4 1004h.01M747.3 1008.2h.01M516.1 1031.9h.01M624.9 1035.1h.01M804.7 1028.1h.01M814.3 1035.1h.01M755.5 1035.5h.01M702.5 1048.4h.01M708.4 1046.5h.01M711 1058h.01M707 1061.4h.01M751.3 1067h.01M664.6 1072.4h.01M725 1073h.01M566.5 1075.4h.01M649.3 1079.3h.01M664.2 1079.3h.01M568.9 1081.7h.01M584.1 1085.9h.01M588.9 1085.7h.01M737.9 1084.3h.01M747.9 1085.7h.01M731 1089.3h.01M625.9 1090.3h.01M643.3 1089.7h.01M718 1128.2h.01M581.9 1144.5h.01M588.5 1151.5h.01M598.4 1155.7h.01M610.4 1157.5h.01M596.8 1160.7h.01M599 1168.4h.01" stroke="#fff" stroke-opacity=".88" stroke-width="5.8"/>
<path d="M598.4 911.3h.01M583.9 913.9h.01M605.8 925.5h.01M695.1 926.5h.01M692.5 939.8h.01M583.1 945.4h.01M499.2 951.4h.01M740.9 953.8h.01M716.6 959.2h.01M743.5 958.8h.01M631.7 969.1h.01M751.5 976.1h.01M763.8 984.1h.01M594.8 983.7h.01M657.2 986.7h.01M491.8 991.6h.01M479.8 1001.6h.01M643.9 1002h.01M592.4 1004h.01M747.3 1008.2h.01M516.1 1031.9h.01M624.9 1035.1h.01M804.7 1028.1h.01M814.3 1035.1h.01M755.5 1035.5h.01M702.5 1048.4h.01M708.4 1046.5h.01M711 1058h.01M707 1061.4h.01M751.3 1067h.01M664.6 1072.4h.01M725 1073h.01M566.5 1075.4h.01M649.3 1079.3h.01M664.2 1079.3h.01M568.9 1081.7h.01M584.1 1085.9h.01M588.9 1085.7h.01M737.9 1084.3h.01M747.9 1085.7h.01M731 1089.3h.01M625.9 1090.3h.01M643.3 1089.7h.01M718 1128.2h.01M581.9 1144.5h.01M588.5 1151.5h.01M598.4 1155.7h.01M610.4 1157.5h.01M596.8 1160.7h.01M599 1168.4h.01" stroke="#2b7a3a" stroke-width="2.7"/>
<path d="M903.9 1048.8h.01M906.9 1051h.01M917.2 1048.4h.01M916.8 1051.8h.01M923.8 1056.4h.01M929.8 1057.4h.01M932.8 1059.4h.01M906.9 1063h.01M913.8 1065h.01M916.8 1065h.01M914.8 1071.8h.01M915.8 1068.4h.01M904.9 1080.3h.01M897.9 1083.7h.01M895.5 1086.3h.01M912.9 1083.3h.01M917.8 1083.3h.01M922.8 1082.3h.01M920.8 1079.3h.01M904.9 1089.3h.01M901.9 1090.3h.01M898.9 1093.3h.01M905.9 1093.3h.01M915.9 1085.7h.01M919.4 1090.6h.01M912.4 1087h.01M905.6 1085.9h.01M898.7 1085.8h.01M926.5 1082.2h.01M911.9 1084.5h.01M918.2 1088h.01M966.1 1055.8h.01M967.2 1053h.01M966.3 1058.8h.01M969.2 1054.1h.01M967.7 1054.7h.01M968.8 1055.7h.01M965.1 1056h.01M968.4 1056h.01M968.7 1056.9h.01M966.9 1054.3h.01M967.2 1054.4h.01M970.6 1052h.01M967.2 1055h.01M955.8 1091.1h.01M949.8 1079.4h.01M952.9 1086.7h.01M948.8 1081.4h.01M948.7 1093.9h.01M950.9 1095.8h.01M951.3 1088.7h.01M954 1076.2h.01M948.4 1084.6h.01M954.1 1086.1h.01M950.7 1092.8h.01M950.1 1085.6h.01M954.7 1082.5h.01M955.6 1081.8h.01M956.8 1089.9h.01M951.3 1094.6h.01M957.1 1076h.01M951.5 1080.8h.01M955.4 1091.6h.01M953.2 1084h.01M950.6 1085.1h.01M954.7 1082.4h.01M955 1082.7h.01M955.7 1093.6h.01M946.4 1081.3h.01M946 1084.8h.01M949.8 1100.6h.01M947.5 1086.8h.01M952.9 1088.2h.01M953.9 1084.9h.01M954 1076h.01M954.3 1086.9h.01M954.6 1088.7h.01M946.3 1080h.01M957.8 1087.4h.01M950.8 1086.7h.01M950.7 1101.3h.01M952.7 1103.7h.01M953.7 1105.2h.01M951.7 1102.9h.01M954.7 1101.7h.01M968.7 1114.8h.01M975.6 1114.2h.01M981 1112.8h.01M941.7 1035.9h.01M945.3 1026.9h.01M955.3 1019.5h.01M972.6 1028.9h.01M951.1 966.7h.01M923.2 977.3h.01M998.2 944.2h.01M1008.9 977.7h.01M1055.7 1003.2h.01M1059.3 1006.2h.01M1069.9 1021.9h.01M1055.4 1033.1h.01M1037.8 1038.9h.01M1034.4 1046.5h.01M1039.8 1046.5h.01M1060.7 1053.8h.01M1062.7 1057h.01M1066.3 1061.4h.01M1012.5 1059.8h.01M1028 1065.8h.01M1033.4 1070.4h.01M1034.4 1071h.01M986 1091.3h.01M987.6 1099.3h.01M1043.8 1102.3h.01M1063.3 1093.7h.01M1065.3 1100.3h.01M1086.2 1128.8h.01M1154.6 1094.3h.01M1149 1098.3h.01M1145.6 1115.2h.01M1148 1122.8h.01M1149 1124.8h.01M1153 1127.2h.01M1157 1128.2h.01M1158.4 1129.8h.01M1155 1130.8h.01M1208.8 1039.1h.01" stroke="#fff" stroke-opacity=".88" stroke-width="5.8"/>
<path d="M903.9 1048.8h.01M906.9 1051h.01M917.2 1048.4h.01M916.8 1051.8h.01M923.8 1056.4h.01M929.8 1057.4h.01M932.8 1059.4h.01M906.9 1063h.01M913.8 1065h.01M916.8 1065h.01M914.8 1071.8h.01M915.8 1068.4h.01M904.9 1080.3h.01M897.9 1083.7h.01M895.5 1086.3h.01M912.9 1083.3h.01M917.8 1083.3h.01M922.8 1082.3h.01M920.8 1079.3h.01M904.9 1089.3h.01M901.9 1090.3h.01M898.9 1093.3h.01M905.9 1093.3h.01M915.9 1085.7h.01M919.4 1090.6h.01M912.4 1087h.01M905.6 1085.9h.01M898.7 1085.8h.01M926.5 1082.2h.01M911.9 1084.5h.01M918.2 1088h.01M966.1 1055.8h.01M967.2 1053h.01M966.3 1058.8h.01M969.2 1054.1h.01M967.7 1054.7h.01M968.8 1055.7h.01M965.1 1056h.01M968.4 1056h.01M968.7 1056.9h.01M966.9 1054.3h.01M967.2 1054.4h.01M970.6 1052h.01M967.2 1055h.01M955.8 1091.1h.01M949.8 1079.4h.01M952.9 1086.7h.01M948.8 1081.4h.01M948.7 1093.9h.01M950.9 1095.8h.01M951.3 1088.7h.01M954 1076.2h.01M948.4 1084.6h.01M954.1 1086.1h.01M950.7 1092.8h.01M950.1 1085.6h.01M954.7 1082.5h.01M955.6 1081.8h.01M956.8 1089.9h.01M951.3 1094.6h.01M957.1 1076h.01M951.5 1080.8h.01M955.4 1091.6h.01M953.2 1084h.01M950.6 1085.1h.01M954.7 1082.4h.01M955 1082.7h.01M955.7 1093.6h.01M946.4 1081.3h.01M946 1084.8h.01M949.8 1100.6h.01M947.5 1086.8h.01M952.9 1088.2h.01M953.9 1084.9h.01M954 1076h.01M954.3 1086.9h.01M954.6 1088.7h.01M946.3 1080h.01M957.8 1087.4h.01M950.8 1086.7h.01M950.7 1101.3h.01M952.7 1103.7h.01M953.7 1105.2h.01M951.7 1102.9h.01M954.7 1101.7h.01M968.7 1114.8h.01M975.6 1114.2h.01M981 1112.8h.01M941.7 1035.9h.01M945.3 1026.9h.01M955.3 1019.5h.01M972.6 1028.9h.01M951.1 966.7h.01M923.2 977.3h.01M998.2 944.2h.01M1008.9 977.7h.01M1055.7 1003.2h.01M1059.3 1006.2h.01M1069.9 1021.9h.01M1055.4 1033.1h.01M1037.8 1038.9h.01M1034.4 1046.5h.01M1039.8 1046.5h.01M1060.7 1053.8h.01M1062.7 1057h.01M1066.3 1061.4h.01M1012.5 1059.8h.01M1028 1065.8h.01M1033.4 1070.4h.01M1034.4 1071h.01M986 1091.3h.01M987.6 1099.3h.01M1043.8 1102.3h.01M1063.3 1093.7h.01M1065.3 1100.3h.01M1086.2 1128.8h.01M1154.6 1094.3h.01M1149 1098.3h.01M1145.6 1115.2h.01M1148 1122.8h.01M1149 1124.8h.01M1153 1127.2h.01M1157 1128.2h.01M1158.4 1129.8h.01M1155 1130.8h.01M1208.8 1039.1h.01" stroke="#a81a2c" stroke-width="2.7"/>
<path d="M1389.1 1086.9h.01M1381.2 1093.4h.01M1387.1 1079.3h.01M1392 1089.9h.01M1385.6 1092.4h.01M1384.9 1080.2h.01M1381.2 1089.3h.01M1385.7 1075h.01M1392.7 1090.3h.01M1391.6 1088.5h.01M1382.6 1088.3h.01M1391.9 1093.2h.01M1390.8 1081.9h.01M1384.7 1082.5h.01M1392.6 1095.9h.01M1395.4 1084h.01M1386.5 1087.4h.01M1383.9 1091.9h.01M1391.4 1086.4h.01M1396.2 1079.2h.01M1382 1085.4h.01M1388.7 1079.9h.01M1384.4 1090h.01M1389.4 1081.7h.01M1387 1092.1h.01M1388.1 1084.5h.01M1389.1 1093.5h.01M1390.7 1093.7h.01M1383.3 1092.8h.01M1391.9 1080.9h.01M1391.1 1087.4h.01M1382.7 1085.5h.01M1392.6 1078.9h.01M1388.5 1080.6h.01M1389.9 1101.3h.01M1392.7 1081.2h.01M1386.3 1088h.01M1384.2 1100.9h.01M1389.1 1078.6h.01M1385.9 1084.8h.01M1383.3 1096.5h.01M1389.1 1080.7h.01M1382.3 1096.2h.01M1390.8 1091h.01M1390.5 1094.3h.01M1393 1086.4h.01M1394.1 1091.6h.01M1390.3 1082.9h.01M1387.2 1089.3h.01M1388.8 1075.1h.01M1391.3 1101.3h.01M1383.2 1088h.01M1391 1085.9h.01M1389.6 1097.1h.01M1392.2 1084.6h.01M1386.7 1106.2h.01M1385.7 1104.8h.01M1388.3 1107.2h.01M1341.9 1049.4h.01M1343.9 1055.4h.01M1355.8 1055.4h.01M1362.8 1056.4h.01M1363.8 1060.4h.01M1349.8 1064.4h.01M1339.9 1066.4h.01M1338.9 1072.4h.01M1340.9 1074.4h.01M1334.9 1082.3h.01M1339.9 1083.3h.01M1343.9 1084.3h.01M1330.9 1085.3h.01M1333.9 1093.3h.01M1340.6 1074.8h.01M1339 1072.2h.01M1340.4 1072.7h.01M1340.1 1073.9h.01M1340.2 1071.6h.01M1339 1072.9h.01M1472.9 1039.2h.01M1474.4 1047.7h.01M1473.1 1044.7h.01M1470.9 1040.3h.01M1476 1047.7h.01M1473.3 1042.5h.01M1474.9 1044.7h.01M1474.1 1039.8h.01M1472.6 1043.9h.01M1476.4 1049h.01M1473.8 1047.4h.01M1473.5 1037.7h.01M1467.1 1048h.01M1483.9 1045.1h.01M1480.9 1046.2h.01M1466.1 1048.7h.01M1470.1 1047.2h.01M1471.2 1048.4h.01M1480.5 1047.6h.01M1468 1048.4h.01M1476.9 1047.2h.01M1466.8 1048.5h.01M1494.2 1050.2h.01M1501 1059.5h.01M1496.3 1055.4h.01M1495.2 1052.6h.01M1502.2 1062.1h.01M1499.8 1059.2h.01M1496.7 1051.8h.01M1501 1057.8h.01M1500.9 1059.1h.01M1500.2 1062.6h.01M1493.8 1052h.01M1501.4 1057.7h.01M1497.8 1059.4h.01M1501.6 1061.9h.01M1496.8 1056h.01M1497.2 1055.9h.01M1503.6 1063.9h.01M1496.4 1052.5h.01M1500.3 1028.9h.01M1497.3 1041.5h.01M1505.3 1038.5h.01M1522.2 1067.4h.01M1524.2 1065.4h.01M1530.2 1062.4h.01M1534.2 1060.4h.01M1527.2 1063.8h.01M1532.2 1061.4h.01M1578.1 1061.9h.01M1578.7 1059h.01M1579.4 1056.9h.01M1582.9 1054.5h.01M1578.7 1060.5h.01M1580.5 1058.4h.01M1580.6 1056.1h.01M1579.3 1058.5h.01M1627.4 1033.7h.01M1624.5 1031h.01M1629.5 1031.1h.01M1626.3 1031.3h.01M1599 1089.5h.01M1633.1 1084.6h.01M1595.3 1083h.01M1618.6 1090h.01M1615 1089h.01M1613.9 1087.2h.01M1608.4 1086h.01M1610.1 1085.1h.01M1594.2 1085.5h.01M1601.1 1085.2h.01M1590.3 1080.5h.01M1600.9 1085.9h.01M1610.3 1089.3h.01M1599.5 1086.8h.01M1636.2 1084.7h.01M1594 1084.4h.01M1625.8 1085.1h.01M1630.6 1084.5h.01M1599.4 1090h.01M1599 1087.4h.01M1630 1088.7h.01M1591.6 1082.8h.01M1628.4 1085.7h.01M1630.5 1088.1h.01M1593 1081.2h.01M1595.6 1084h.01M1615.3 1084h.01M1635 1086.4h.01M1619.3 1087.2h.01M1619.9 1087.3h.01M1628.7 1089.3h.01M1629.6 1088.2h.01M1606.7 1084h.01M1632.6 1086.1h.01M1591.1 1078h.01M1594 1083.5h.01M1590.5 1083.7h.01M1596 1084.8h.01M1596 1086.8h.01M1630.5 1084.8h.01M1604.3 1088.3h.01M1595.6 1086h.01M1593.5 1082.4h.01M1612.9 1084.7h.01M1585.1 1077.7h.01M1592.5 1081.1h.01M1587.9 1072.8h.01M1591.7 1074.8h.01M1591.4 1072.6h.01M1591.5 1073.1h.01M1593.1 1075.6h.01M1586.5 1074.3h.01M1556.8 1088.3h.01M1555.6 1086h.01M1547.9 1085.6h.01M1548.7 1084.4h.01M1548.8 1083.7h.01M1562.2 1094h.01M1546.9 1085.1h.01M1571.2 1093h.01M1564.5 1094.2h.01M1571.4 1094.1h.01M1563 1094.3h.01M1570.1 1096.9h.01M1547 1085.9h.01M1548.5 1084.1h.01M1559.6 1089.8h.01M1552.2 1090.1h.01M1543 1082.7h.01M1561.9 1093.2h.01M1570.4 1090.4h.01M1550.5 1084.5h.01M1542.8 1083.1h.01M1553.3 1089h.01M1556.3 1090.5h.01M1555.5 1088.7h.01M1544.9 1080.3h.01M1560.4 1094.4h.01M1542.4 1083.5h.01M1552.2 1084h.01M1559.2 1092.2h.01M1556.3 1092h.01M1556.4 1103.5h.01M1558.2 1104h.01M1561 1103.9h.01M1567.9 1102.6h.01M1557.7 1102.6h.01M1553.1 1104h.01M1555.5 1101.8h.01M1574.3 1108.6h.01M1556.1 1104.4h.01M1570.4 1110.9h.01M1571.9 1108.8h.01M1556.1 1102.8h.01M1553.3 1103.7h.01M1557.6 1103.2h.01M1570.7 1107.6h.01M1572.8 1107.6h.01M1552.4 1100.4h.01M1563.1 1103.6h.01M1607.9 1074.4h.01M1613.9 1076.3h.01M1621.9 1070.4h.01M1607.9 1069.4h.01M1600 1077.3h.01M1617.9 1081.3h.01M1582 1097.3h.01M1584 1101.3h.01M1532.2 1101.5h.01M1534.9 1101.3h.01M1533.9 1102.8h.01M1535.6 1100.6h.01M1534.8 1101.7h.01M1533.7 1101.7h.01M1574.8 1082.5h.01M1576.9 1082h.01M1576.8 1081.5h.01M1578.5 1081.8h.01M1573.5 1081.4h.01M1438.5 1145.5h.01M1442.5 1146.1h.01M1445.5 1147.1h.01M1459.5 1146.1h.01M1460.4 1153.1h.01M1466.4 1155.1h.01M1458.5 1159.1h.01M1472.4 1153.1h.01M1478.4 1151.1h.01M1479.4 1155.1h.01M1480.4 1157.1h.01M1485.4 1157.1h.01M1475.4 1159.1h.01M1476.4 1163h.01M1488.4 1167h.01M1445.5 942.2h.01M1446.5 1075.4h.01M1442.5 1101.3h.01M1461.4 1100.3h.01M1483.4 1109.2h.01M1477.4 1072.4h.01M1512.3 1129.2h.01M1519.2 1091.3h.01M1517.3 1093.3h.01M1382.7 1022.5h.01M1407.6 1029.5h.01M1568.1 1051.4h.01" stroke="#fff" stroke-opacity=".88" stroke-width="5"/>
<path d="M1389.1 1086.9h.01M1381.2 1093.4h.01M1387.1 1079.3h.01M1392 1089.9h.01M1385.6 1092.4h.01M1384.9 1080.2h.01M1381.2 1089.3h.01M1385.7 1075h.01M1392.7 1090.3h.01M1391.6 1088.5h.01M1382.6 1088.3h.01M1391.9 1093.2h.01M1390.8 1081.9h.01M1384.7 1082.5h.01M1392.6 1095.9h.01M1395.4 1084h.01M1386.5 1087.4h.01M1383.9 1091.9h.01M1391.4 1086.4h.01M1396.2 1079.2h.01M1382 1085.4h.01M1388.7 1079.9h.01M1384.4 1090h.01M1389.4 1081.7h.01M1387 1092.1h.01M1388.1 1084.5h.01M1389.1 1093.5h.01M1390.7 1093.7h.01M1383.3 1092.8h.01M1391.9 1080.9h.01M1391.1 1087.4h.01M1382.7 1085.5h.01M1392.6 1078.9h.01M1388.5 1080.6h.01M1389.9 1101.3h.01M1392.7 1081.2h.01M1386.3 1088h.01M1384.2 1100.9h.01M1389.1 1078.6h.01M1385.9 1084.8h.01M1383.3 1096.5h.01M1389.1 1080.7h.01M1382.3 1096.2h.01M1390.8 1091h.01M1390.5 1094.3h.01M1393 1086.4h.01M1394.1 1091.6h.01M1390.3 1082.9h.01M1387.2 1089.3h.01M1388.8 1075.1h.01M1391.3 1101.3h.01M1383.2 1088h.01M1391 1085.9h.01M1389.6 1097.1h.01M1392.2 1084.6h.01M1386.7 1106.2h.01M1385.7 1104.8h.01M1388.3 1107.2h.01M1341.9 1049.4h.01M1343.9 1055.4h.01M1355.8 1055.4h.01M1362.8 1056.4h.01M1363.8 1060.4h.01M1349.8 1064.4h.01M1339.9 1066.4h.01M1338.9 1072.4h.01M1340.9 1074.4h.01M1334.9 1082.3h.01M1339.9 1083.3h.01M1343.9 1084.3h.01M1330.9 1085.3h.01M1333.9 1093.3h.01M1340.6 1074.8h.01M1339 1072.2h.01M1340.4 1072.7h.01M1340.1 1073.9h.01M1340.2 1071.6h.01M1339 1072.9h.01M1472.9 1039.2h.01M1474.4 1047.7h.01M1473.1 1044.7h.01M1470.9 1040.3h.01M1476 1047.7h.01M1473.3 1042.5h.01M1474.9 1044.7h.01M1474.1 1039.8h.01M1472.6 1043.9h.01M1476.4 1049h.01M1473.8 1047.4h.01M1473.5 1037.7h.01M1467.1 1048h.01M1483.9 1045.1h.01M1480.9 1046.2h.01M1466.1 1048.7h.01M1470.1 1047.2h.01M1471.2 1048.4h.01M1480.5 1047.6h.01M1468 1048.4h.01M1476.9 1047.2h.01M1466.8 1048.5h.01M1494.2 1050.2h.01M1501 1059.5h.01M1496.3 1055.4h.01M1495.2 1052.6h.01M1502.2 1062.1h.01M1499.8 1059.2h.01M1496.7 1051.8h.01M1501 1057.8h.01M1500.9 1059.1h.01M1500.2 1062.6h.01M1493.8 1052h.01M1501.4 1057.7h.01M1497.8 1059.4h.01M1501.6 1061.9h.01M1496.8 1056h.01M1497.2 1055.9h.01M1503.6 1063.9h.01M1496.4 1052.5h.01M1500.3 1028.9h.01M1497.3 1041.5h.01M1505.3 1038.5h.01M1522.2 1067.4h.01M1524.2 1065.4h.01M1530.2 1062.4h.01M1534.2 1060.4h.01M1527.2 1063.8h.01M1532.2 1061.4h.01M1578.1 1061.9h.01M1578.7 1059h.01M1579.4 1056.9h.01M1582.9 1054.5h.01M1578.7 1060.5h.01M1580.5 1058.4h.01M1580.6 1056.1h.01M1579.3 1058.5h.01M1627.4 1033.7h.01M1624.5 1031h.01M1629.5 1031.1h.01M1626.3 1031.3h.01M1599 1089.5h.01M1633.1 1084.6h.01M1595.3 1083h.01M1618.6 1090h.01M1615 1089h.01M1613.9 1087.2h.01M1608.4 1086h.01M1610.1 1085.1h.01M1594.2 1085.5h.01M1601.1 1085.2h.01M1590.3 1080.5h.01M1600.9 1085.9h.01M1610.3 1089.3h.01M1599.5 1086.8h.01M1636.2 1084.7h.01M1594 1084.4h.01M1625.8 1085.1h.01M1630.6 1084.5h.01M1599.4 1090h.01M1599 1087.4h.01M1630 1088.7h.01M1591.6 1082.8h.01M1628.4 1085.7h.01M1630.5 1088.1h.01M1593 1081.2h.01M1595.6 1084h.01M1615.3 1084h.01M1635 1086.4h.01M1619.3 1087.2h.01M1619.9 1087.3h.01M1628.7 1089.3h.01M1629.6 1088.2h.01M1606.7 1084h.01M1632.6 1086.1h.01M1591.1 1078h.01M1594 1083.5h.01M1590.5 1083.7h.01M1596 1084.8h.01M1596 1086.8h.01M1630.5 1084.8h.01M1604.3 1088.3h.01M1595.6 1086h.01M1593.5 1082.4h.01M1612.9 1084.7h.01M1585.1 1077.7h.01M1592.5 1081.1h.01M1587.9 1072.8h.01M1591.7 1074.8h.01M1591.4 1072.6h.01M1591.5 1073.1h.01M1593.1 1075.6h.01M1586.5 1074.3h.01M1556.8 1088.3h.01M1555.6 1086h.01M1547.9 1085.6h.01M1548.7 1084.4h.01M1548.8 1083.7h.01M1562.2 1094h.01M1546.9 1085.1h.01M1571.2 1093h.01M1564.5 1094.2h.01M1571.4 1094.1h.01M1563 1094.3h.01M1570.1 1096.9h.01M1547 1085.9h.01M1548.5 1084.1h.01M1559.6 1089.8h.01M1552.2 1090.1h.01M1543 1082.7h.01M1561.9 1093.2h.01M1570.4 1090.4h.01M1550.5 1084.5h.01M1542.8 1083.1h.01M1553.3 1089h.01M1556.3 1090.5h.01M1555.5 1088.7h.01M1544.9 1080.3h.01M1560.4 1094.4h.01M1542.4 1083.5h.01M1552.2 1084h.01M1559.2 1092.2h.01M1556.3 1092h.01M1556.4 1103.5h.01M1558.2 1104h.01M1561 1103.9h.01M1567.9 1102.6h.01M1557.7 1102.6h.01M1553.1 1104h.01M1555.5 1101.8h.01M1574.3 1108.6h.01M1556.1 1104.4h.01M1570.4 1110.9h.01M1571.9 1108.8h.01M1556.1 1102.8h.01M1553.3 1103.7h.01M1557.6 1103.2h.01M1570.7 1107.6h.01M1572.8 1107.6h.01M1552.4 1100.4h.01M1563.1 1103.6h.01M1607.9 1074.4h.01M1613.9 1076.3h.01M1621.9 1070.4h.01M1607.9 1069.4h.01M1600 1077.3h.01M1617.9 1081.3h.01M1582 1097.3h.01M1584 1101.3h.01M1532.2 1101.5h.01M1534.9 1101.3h.01M1533.9 1102.8h.01M1535.6 1100.6h.01M1534.8 1101.7h.01M1533.7 1101.7h.01M1574.8 1082.5h.01M1576.9 1082h.01M1576.8 1081.5h.01M1578.5 1081.8h.01M1573.5 1081.4h.01M1438.5 1145.5h.01M1442.5 1146.1h.01M1445.5 1147.1h.01M1459.5 1146.1h.01M1460.4 1153.1h.01M1466.4 1155.1h.01M1458.5 1159.1h.01M1472.4 1153.1h.01M1478.4 1151.1h.01M1479.4 1155.1h.01M1480.4 1157.1h.01M1485.4 1157.1h.01M1475.4 1159.1h.01M1476.4 1163h.01M1488.4 1167h.01M1445.5 942.2h.01M1446.5 1075.4h.01M1442.5 1101.3h.01M1461.4 1100.3h.01M1483.4 1109.2h.01M1477.4 1072.4h.01M1512.3 1129.2h.01M1519.2 1091.3h.01M1517.3 1093.3h.01M1382.7 1022.5h.01M1407.6 1029.5h.01M1568.1 1051.4h.01" stroke="#f4807e" stroke-width="2.3"/>
<path d="M129.9 1263.5h.01M208.7 1271.9h.01M241.2 1271.3h.01M152.9 1281.9h.01M136.5 1287.8h.01M138.1 1289.2h.01M93.7 1288.4h.01M256.7 1285.2h.01M219.8 1297.2h.01M223.2 1295.4h.01M152.9 1303.4h.01M227.8 1314.7h.01M172.8 1318.1h.01M188.9 1313.3h.01M199.7 1314.7h.01M195.9 1318.7h.01M196.9 1320.1h.01M179.4 1326.7h.01M111.2 1325.3h.01M323.9 1321.3h.01M162.8 1332.3h.01M149.5 1339.1h.01M158.4 1339.1h.01M165.4 1342.2h.01M156.1 1345.6h.01M159.4 1349h.01M209.3 1336.3h.01M248.7 1351.2h.01M241.8 1359.2h.01M303.3 1355h.01M309.5 1355.6h.01M331.2 1367.2h.01M146.1 1371.9h.01M261.7 1373.5h.01M255.7 1383.1h.01M255.1 1386.5h.01M261.1 1387.5h.01M263.7 1386.5h.01M278.6 1394.5h.01M280 1396.1h.01M286 1393.5h.01M255.1 1401h.01M258.5 1403h.01M357.4 1394.5h.01M326.9 1408h.01M233.2 1422h.01M294.6 1421.4h.01M209.9 1482.8h.01M140.5 1491.7h.01M149.5 1493.5h.01M160.4 1507.1h.01" stroke="#fff" stroke-opacity=".88" stroke-width="5.8"/>
<path d="M129.9 1263.5h.01M208.7 1271.9h.01M241.2 1271.3h.01M152.9 1281.9h.01M136.5 1287.8h.01M138.1 1289.2h.01M93.7 1288.4h.01M256.7 1285.2h.01M219.8 1297.2h.01M223.2 1295.4h.01M152.9 1303.4h.01M227.8 1314.7h.01M172.8 1318.1h.01M188.9 1313.3h.01M199.7 1314.7h.01M195.9 1318.7h.01M196.9 1320.1h.01M179.4 1326.7h.01M111.2 1325.3h.01M323.9 1321.3h.01M162.8 1332.3h.01M149.5 1339.1h.01M158.4 1339.1h.01M165.4 1342.2h.01M156.1 1345.6h.01M159.4 1349h.01M209.3 1336.3h.01M248.7 1351.2h.01M241.8 1359.2h.01M303.3 1355h.01M309.5 1355.6h.01M331.2 1367.2h.01M146.1 1371.9h.01M261.7 1373.5h.01M255.7 1383.1h.01M255.1 1386.5h.01M261.1 1387.5h.01M263.7 1386.5h.01M278.6 1394.5h.01M280 1396.1h.01M286 1393.5h.01M255.1 1401h.01M258.5 1403h.01M357.4 1394.5h.01M326.9 1408h.01M233.2 1422h.01M294.6 1421.4h.01M209.9 1482.8h.01M140.5 1491.7h.01M149.5 1493.5h.01M160.4 1507.1h.01" stroke="#6e3a34" stroke-width="2.7"/>
<path d="M608.4 1398.4h.01M669.2 1403.8h.01M629.3 1405.4h.01M608.4 1415.8h.01M664.2 1424.4h.01M581.1 1431.7h.01M515.7 1426.3h.01M717 1397.4h.01M749.5 1406h.01M702.1 1450.3h.01M718 1468.8h.01M722 1468.8h.01M593.4 1496.5h.01M604.8 1500.1h.01M614 1507.5h.01" stroke="#fff" stroke-opacity=".88" stroke-width="5"/>
<path d="M608.4 1398.4h.01M669.2 1403.8h.01M629.3 1405.4h.01M608.4 1415.8h.01M664.2 1424.4h.01M581.1 1431.7h.01M515.7 1426.3h.01M717 1397.4h.01M749.5 1406h.01M702.1 1450.3h.01M718 1468.8h.01M722 1468.8h.01M593.4 1496.5h.01M604.8 1500.1h.01M614 1507.5h.01" stroke="#8f8a90" stroke-width="2.3"/>
<path d="M474.8 1357.6h.01M482 1361.3h.01M470.5 1360.8h.01M460.2 1363.2h.01M450.3 1366.7h.01M488.6 1348h.01M468.7 1358.2h.01M479.1 1359h.01M453.9 1364.5h.01M469.6 1354.7h.01M444.6 1375.6h.01M476.2 1359.8h.01M466.5 1361.2h.01M468 1365.6h.01M448.7 1364.5h.01M464.9 1366.5h.01M463.5 1369.6h.01M464 1359.2h.01M464.7 1359.7h.01M490.4 1352.9h.01M463 1361.9h.01M480.1 1360.1h.01M456.6 1358.9h.01M469.1 1360.4h.01M453.6 1361.6h.01M456.7 1371h.01M464.9 1369.5h.01M464.4 1363.8h.01M470 1351.3h.01M453.2 1364.4h.01M472.9 1358.5h.01M463.2 1367.7h.01M459.4 1363h.01M474 1355.1h.01M476.9 1353.5h.01M483.3 1357.9h.01M465.9 1368.2h.01M480.6 1347.3h.01M462.7 1357.8h.01M479 1360.9h.01M469.3 1358.1h.01M460.8 1362.1h.01M474.2 1355h.01M475 1354.9h.01M480.6 1362h.01M445.5 1364.5h.01M445.1 1367.5h.01M462.2 1374.5h.01M450.9 1367.2h.01M469.6 1361.4h.01M472.1 1357.8h.01M469.9 1351.2h.01M474 1358.8h.01M475.6 1359.7h.01M444.7 1363.7h.01M486 1354.8h.01M461.9 1363.1h.01M469.7 1361.5h.01M479.3 1321.4h.01M484.5 1324.8h.01M478.1 1320.7h.01M478.9 1321h.01M484.7 1325.6h.01M478.7 1321.4h.01M472.9 1318.6h.01M487.1 1326.8h.01M484.5 1325.7h.01M486.7 1326.4h.01M484.9 1325.1h.01M480.5 1321.2h.01M474.3 1319.1h.01M474.3 1319.3h.01M481.5 1322.2h.01M482.5 1322.5h.01M523.2 1364.4h.01M518.3 1366.9h.01M525.1 1363.4h.01M519.4 1365.8h.01M518.3 1368.1h.01M514.7 1372.2h.01M523.6 1364.5h.01M514.9 1373.4h.01M521.1 1365.4h.01M510.9 1377h.01M516.1 1370.7h.01M520.7 1366.3h.01M509.7 1375.3h.01M514.6 1370.7h.01M540.8 1364.1h.01M543.1 1361.2h.01M539 1372.1h.01M543.8 1361h.01M537.6 1373.1h.01M539.8 1372.6h.01M542.2 1354.3h.01M541.1 1357.2h.01M541.9 1362.8h.01M541.8 1365h.01M540.1 1368.6h.01M542.1 1368.1h.01M541.9 1361.7h.01M542 1365.4h.01M554.2 1353.9h.01M554.6 1356.5h.01M553.5 1355.6h.01M554.4 1354.7h.01M555.4 1355.9h.01M551.8 1356.3h.01M510.8 1392.2h.01M512.5 1390.6h.01M509.2 1388.3h.01M513 1392h.01M512.8 1392.2h.01M508.2 1388h.01M522.7 1386.5h.01M521.7 1387.9h.01M524.6 1333.3h.01M524.4 1333.7h.01M525.5 1334.1h.01M527.7 1333h.01M541.6 1329.7h.01M542.6 1328.7h.01M540.6 1330.7h.01M502.4 1283.8h.01M545.6 1314.1h.01M534.9 1294h.01M533 1292.1h.01M535.2 1293.7h.01M533.7 1293h.01M533.9 1292.4h.01M536.3 1294.6h.01M592.8 1335.3h.01M593.2 1341.6h.01M596.4 1338.5h.01M596 1338.4h.01M597.6 1340.8h.01M590.6 1340.9h.01M590.1 1336.3h.01M589.9 1340.9h.01M591.7 1336.7h.01M591.2 1337.2h.01M593.4 1340.9h.01M593.2 1338.5h.01M592.8 1335.5h.01M590 1333.8h.01M598.1 1338.8h.01M596 1334.6h.01M592.8 1339.3h.01M594.4 1340.2h.01M596.3 1340.9h.01M592.6 1346.1h.01M592.7 1336.6h.01M588.7 1339.6h.01M594.4 1348.6h.01M593.4 1353.6h.01M597.4 1348.6h.01M582.5 1339.3h.01M602.4 1339.3h.01M635.6 1304.3h.01M637.4 1307.9h.01M641.9 1310.4h.01M640.5 1309.7h.01M635.2 1305.4h.01M642.3 1311h.01M635.1 1305h.01M642.6 1309.5h.01M642.7 1311.1h.01M645.3 1319.7h.01M651.2 1317.7h.01M660.2 1317.7h.01M661.2 1318.7h.01M612 1264.9h.01M606.8 1270.3h.01M628.3 1263.5h.01M627.9 1265.9h.01M625.9 1271.5h.01M618 1281.5h.01M615.4 1286.2h.01M596 1291.2h.01M616.8 1297.2h.01M627.9 1299.8h.01M647.9 1291.2h.01M694.1 1277.5h.01M584.5 1303.8h.01M583.5 1314.1h.01M571.5 1311.2h.01M561 1322.1h.01M631.3 1315.7h.01M633.9 1325.7h.01M645.9 1339.1h.01M608.4 1390.5h.01M756.5 1371.5h.01M761.9 1372.5h.01M755.9 1377.5h.01M762.9 1377.5h.01M757.9 1381.9h.01M797.7 1371.5h.01M816.1 1382.5h.01M814.7 1386.5h.01M813.7 1389.5h.01M782.8 1386.5h.01M785.8 1388.5h.01M789.8 1393.5h.01M800.7 1391.5h.01M784.8 1400.4h.01M795.3 1383.1h.01M775.8 1393.1h.01" stroke="#fff" stroke-opacity=".88" stroke-width="5"/>
<path d="M474.8 1357.6h.01M482 1361.3h.01M470.5 1360.8h.01M460.2 1363.2h.01M450.3 1366.7h.01M488.6 1348h.01M468.7 1358.2h.01M479.1 1359h.01M453.9 1364.5h.01M469.6 1354.7h.01M444.6 1375.6h.01M476.2 1359.8h.01M466.5 1361.2h.01M468 1365.6h.01M448.7 1364.5h.01M464.9 1366.5h.01M463.5 1369.6h.01M464 1359.2h.01M464.7 1359.7h.01M490.4 1352.9h.01M463 1361.9h.01M480.1 1360.1h.01M456.6 1358.9h.01M469.1 1360.4h.01M453.6 1361.6h.01M456.7 1371h.01M464.9 1369.5h.01M464.4 1363.8h.01M470 1351.3h.01M453.2 1364.4h.01M472.9 1358.5h.01M463.2 1367.7h.01M459.4 1363h.01M474 1355.1h.01M476.9 1353.5h.01M483.3 1357.9h.01M465.9 1368.2h.01M480.6 1347.3h.01M462.7 1357.8h.01M479 1360.9h.01M469.3 1358.1h.01M460.8 1362.1h.01M474.2 1355h.01M475 1354.9h.01M480.6 1362h.01M445.5 1364.5h.01M445.1 1367.5h.01M462.2 1374.5h.01M450.9 1367.2h.01M469.6 1361.4h.01M472.1 1357.8h.01M469.9 1351.2h.01M474 1358.8h.01M475.6 1359.7h.01M444.7 1363.7h.01M486 1354.8h.01M461.9 1363.1h.01M469.7 1361.5h.01M479.3 1321.4h.01M484.5 1324.8h.01M478.1 1320.7h.01M478.9 1321h.01M484.7 1325.6h.01M478.7 1321.4h.01M472.9 1318.6h.01M487.1 1326.8h.01M484.5 1325.7h.01M486.7 1326.4h.01M484.9 1325.1h.01M480.5 1321.2h.01M474.3 1319.1h.01M474.3 1319.3h.01M481.5 1322.2h.01M482.5 1322.5h.01M523.2 1364.4h.01M518.3 1366.9h.01M525.1 1363.4h.01M519.4 1365.8h.01M518.3 1368.1h.01M514.7 1372.2h.01M523.6 1364.5h.01M514.9 1373.4h.01M521.1 1365.4h.01M510.9 1377h.01M516.1 1370.7h.01M520.7 1366.3h.01M509.7 1375.3h.01M514.6 1370.7h.01M540.8 1364.1h.01M543.1 1361.2h.01M539 1372.1h.01M543.8 1361h.01M537.6 1373.1h.01M539.8 1372.6h.01M542.2 1354.3h.01M541.1 1357.2h.01M541.9 1362.8h.01M541.8 1365h.01M540.1 1368.6h.01M542.1 1368.1h.01M541.9 1361.7h.01M542 1365.4h.01M554.2 1353.9h.01M554.6 1356.5h.01M553.5 1355.6h.01M554.4 1354.7h.01M555.4 1355.9h.01M551.8 1356.3h.01M510.8 1392.2h.01M512.5 1390.6h.01M509.2 1388.3h.01M513 1392h.01M512.8 1392.2h.01M508.2 1388h.01M522.7 1386.5h.01M521.7 1387.9h.01M524.6 1333.3h.01M524.4 1333.7h.01M525.5 1334.1h.01M527.7 1333h.01M541.6 1329.7h.01M542.6 1328.7h.01M540.6 1330.7h.01M502.4 1283.8h.01M545.6 1314.1h.01M534.9 1294h.01M533 1292.1h.01M535.2 1293.7h.01M533.7 1293h.01M533.9 1292.4h.01M536.3 1294.6h.01M592.8 1335.3h.01M593.2 1341.6h.01M596.4 1338.5h.01M596 1338.4h.01M597.6 1340.8h.01M590.6 1340.9h.01M590.1 1336.3h.01M589.9 1340.9h.01M591.7 1336.7h.01M591.2 1337.2h.01M593.4 1340.9h.01M593.2 1338.5h.01M592.8 1335.5h.01M590 1333.8h.01M598.1 1338.8h.01M596 1334.6h.01M592.8 1339.3h.01M594.4 1340.2h.01M596.3 1340.9h.01M592.6 1346.1h.01M592.7 1336.6h.01M588.7 1339.6h.01M594.4 1348.6h.01M593.4 1353.6h.01M597.4 1348.6h.01M582.5 1339.3h.01M602.4 1339.3h.01M635.6 1304.3h.01M637.4 1307.9h.01M641.9 1310.4h.01M640.5 1309.7h.01M635.2 1305.4h.01M642.3 1311h.01M635.1 1305h.01M642.6 1309.5h.01M642.7 1311.1h.01M645.3 1319.7h.01M651.2 1317.7h.01M660.2 1317.7h.01M661.2 1318.7h.01M612 1264.9h.01M606.8 1270.3h.01M628.3 1263.5h.01M627.9 1265.9h.01M625.9 1271.5h.01M618 1281.5h.01M615.4 1286.2h.01M596 1291.2h.01M616.8 1297.2h.01M627.9 1299.8h.01M647.9 1291.2h.01M694.1 1277.5h.01M584.5 1303.8h.01M583.5 1314.1h.01M571.5 1311.2h.01M561 1322.1h.01M631.3 1315.7h.01M633.9 1325.7h.01M645.9 1339.1h.01M608.4 1390.5h.01M756.5 1371.5h.01M761.9 1372.5h.01M755.9 1377.5h.01M762.9 1377.5h.01M757.9 1381.9h.01M797.7 1371.5h.01M816.1 1382.5h.01M814.7 1386.5h.01M813.7 1389.5h.01M782.8 1386.5h.01M785.8 1388.5h.01M789.8 1393.5h.01M800.7 1391.5h.01M784.8 1400.4h.01M795.3 1383.1h.01M775.8 1393.1h.01" stroke="#b3786d" stroke-width="2.3"/>
<path d="M1031.4 1293.8h.01M1049.4 1285.4h.01M1099.2 1277.9h.01M1086.2 1310.8h.01M929.8 1300.8h.01" stroke="#fff" stroke-opacity=".88" stroke-width="5"/>
<path d="M1031.4 1293.8h.01M1049.4 1285.4h.01M1099.2 1277.9h.01M1086.2 1310.8h.01M929.8 1300.8h.01" stroke="#b5b5c4" stroke-width="2.3"/>
<path d="M991.6 1300.8h.01M994.6 1303.8h.01M997.6 1305.4h.01M1000.5 1310.8h.01M1002.5 1312.7h.01M1005.5 1310.2h.01M1012.5 1308.8h.01M1013.5 1310.8h.01M1017.5 1313.7h.01M1017.1 1315.7h.01M996.6 1317.7h.01M1008.5 1319.7h.01M1007.5 1324.7h.01M1007.1 1327.3h.01M1003.9 1332.1h.01M975.6 1329.3h.01M997.6 1323.7h.01M1001.5 1311.7h.01M1003.1 1314.1h.01" stroke="#fff" stroke-opacity=".88" stroke-width="5"/>
<path d="M991.6 1300.8h.01M994.6 1303.8h.01M997.6 1305.4h.01M1000.5 1310.8h.01M1002.5 1312.7h.01M1005.5 1310.2h.01M1012.5 1308.8h.01M1013.5 1310.8h.01M1017.5 1313.7h.01M1017.1 1315.7h.01M996.6 1317.7h.01M1008.5 1319.7h.01M1007.5 1324.7h.01M1007.1 1327.3h.01M1003.9 1332.1h.01M975.6 1329.3h.01M997.6 1323.7h.01M1001.5 1311.7h.01M1003.1 1314.1h.01" stroke="#aaa7d4" stroke-width="2.3"/>
</g>
</svg>
</body></html>
